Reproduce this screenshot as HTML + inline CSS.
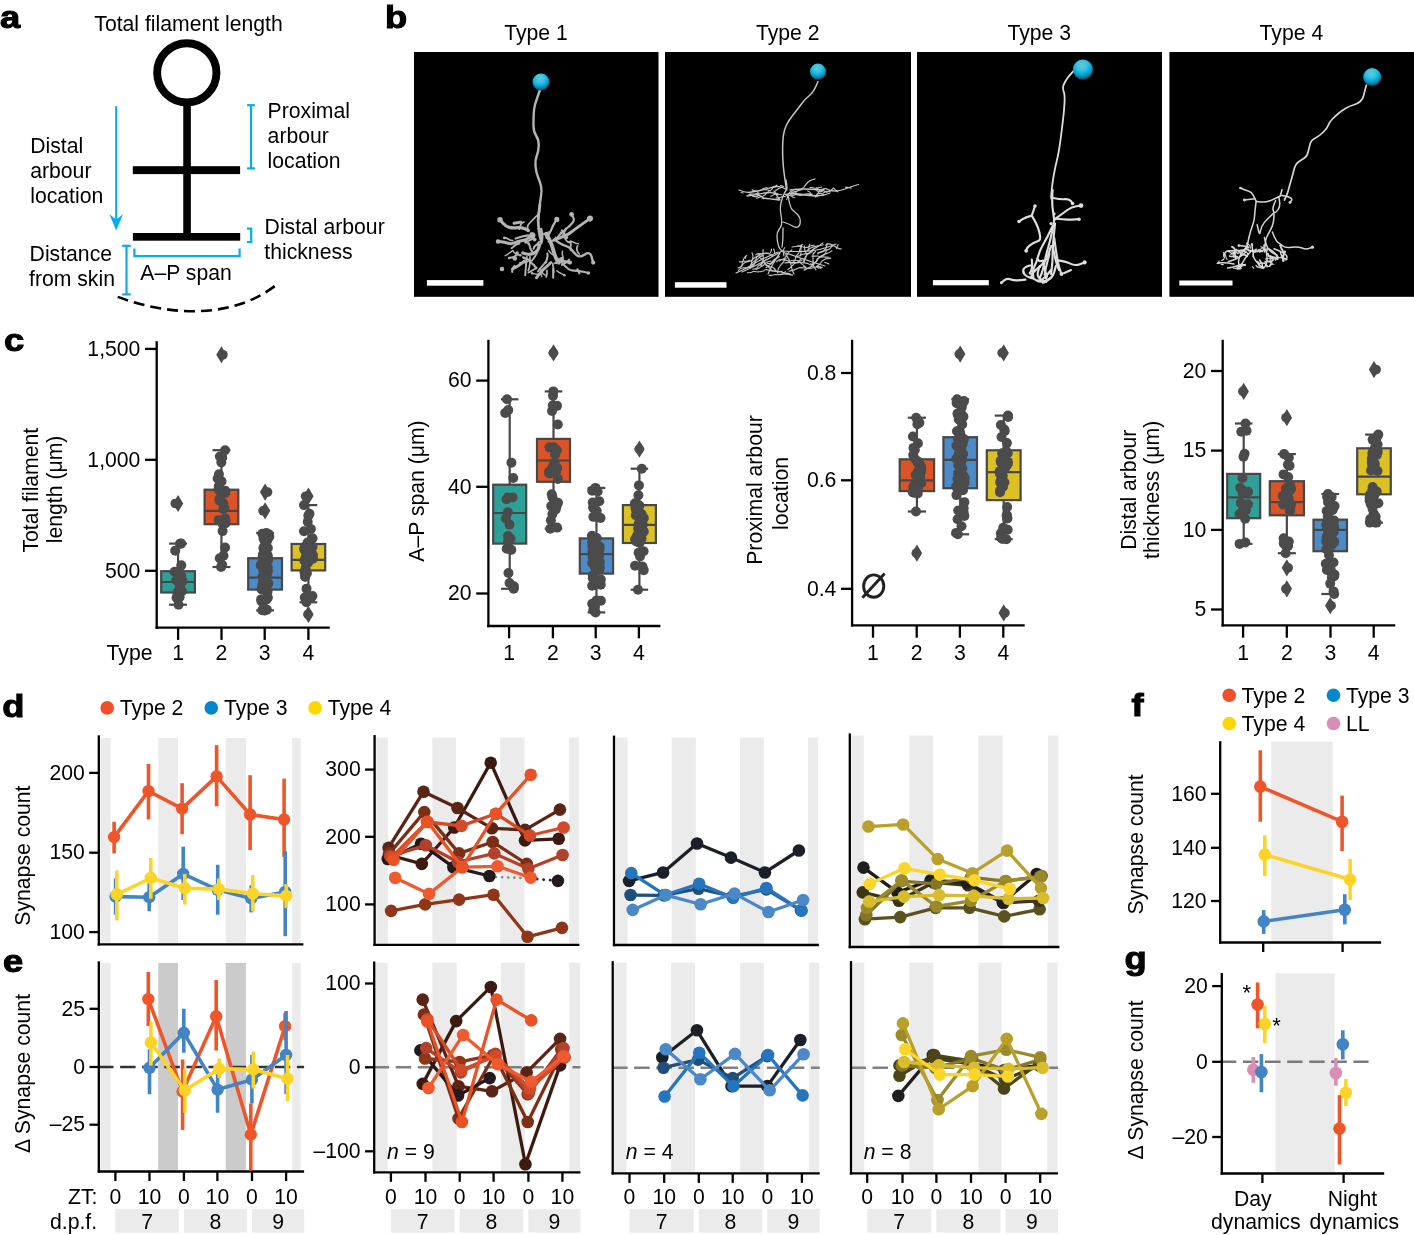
<!DOCTYPE html>
<html><head><meta charset="utf-8"><title>Figure</title>
<style>html,body{margin:0;padding:0;background:#fff;} svg{display:block;will-change:transform;} text{font-family:"Liberation Sans", sans-serif;}</style>
</head><body>
<svg width="1414" height="1235" viewBox="0 0 1414 1235" font-family="&quot;Liberation Sans&quot;, sans-serif">
<rect width="1414" height="1235" fill="#fff"/>
<text transform="translate(0,27.8) scale(1.1,0.95)" x="0" y="0" font-size="33" font-weight="bold" fill="#000" stroke="#000" stroke-width="1.1">a</text>
<text x="94.3" y="30.8" font-size="21.2" text-anchor="start" font-weight="normal" fill="#000">Total filament length</text>
<circle cx="186.8" cy="72.85" r="29.65" fill="none" stroke="#000" stroke-width="7.9"/>
<rect x="183.25" y="101" width="7.6" height="136" fill="#000"/>
<rect x="132.8" y="166.2" width="107.3" height="7.9" fill="#000"/>
<rect x="132.9" y="233" width="107.3" height="7.7" fill="#000"/>
<line x1="116.2" y1="106.2" x2="116.2" y2="220" stroke="#03aeec" stroke-width="2.1" stroke-linecap="butt"/>
<path d="M109.4,214.3 L116.2,219.5 L123,214.3 L116.2,230.4 Z" fill="#03aeec"/>
<line x1="251" y1="105.2" x2="251" y2="168.4" stroke="#03aeec" stroke-width="2.2" stroke-linecap="butt"/>
<line x1="247.1" y1="105.2" x2="254.9" y2="105.2" stroke="#03aeec" stroke-width="2.2" stroke-linecap="butt"/>
<line x1="247.1" y1="168.4" x2="254.9" y2="168.4" stroke="#03aeec" stroke-width="2.2" stroke-linecap="butt"/>
<path d="M246.9,228.6 H251.2 V242 H246.9" fill="none" stroke="#03aeec" stroke-width="2.2"/>
<line x1="126.5" y1="245.8" x2="126.5" y2="294.4" stroke="#03aeec" stroke-width="2.2" stroke-linecap="butt"/>
<line x1="122.2" y1="245.8" x2="130.7" y2="245.8" stroke="#03aeec" stroke-width="2.2" stroke-linecap="butt"/>
<line x1="122.2" y1="294.4" x2="130.7" y2="294.4" stroke="#03aeec" stroke-width="2.2" stroke-linecap="butt"/>
<path d="M134.4,248.6 V256.1 H239.6 V248.6" fill="none" stroke="#03aeec" stroke-width="2.2"/>
<path d="M117.7,296.9 C169.1,316 233.4,320.1 278.2,283.4" fill="none" stroke="#000" stroke-width="2.6" stroke-dasharray="11,6"/>
<text x="267.6" y="117.7" font-size="21.2" text-anchor="start" font-weight="normal" fill="#000">Proximal</text>
<text x="267.6" y="142.65" font-size="21.2" text-anchor="start" font-weight="normal" fill="#000">arbour</text>
<text x="267.6" y="167.6" font-size="21.2" text-anchor="start" font-weight="normal" fill="#000">location</text>
<text x="30.2" y="152.8" font-size="21.2" text-anchor="start" font-weight="normal" fill="#000">Distal</text>
<text x="30.2" y="177.8" font-size="21.2" text-anchor="start" font-weight="normal" fill="#000">arbour</text>
<text x="30.2" y="202.8" font-size="21.2" text-anchor="start" font-weight="normal" fill="#000">location</text>
<text x="264.6" y="233.6" font-size="21.2" text-anchor="start" font-weight="normal" fill="#000">Distal arbour</text>
<text x="264.3" y="258.7" font-size="21.2" text-anchor="start" font-weight="normal" fill="#000">thickness</text>
<text x="29.6" y="261.1" font-size="21.2" text-anchor="start" font-weight="normal" fill="#000">Distance</text>
<text x="29" y="285.7" font-size="21.2" text-anchor="start" font-weight="normal" fill="#000">from skin</text>
<text x="140.3" y="279.9" font-size="21.2" text-anchor="start" font-weight="normal" fill="#000">A–P span</text>
<text transform="translate(385,28.2) scale(1.1,0.95)" x="0" y="0" font-size="33" font-weight="bold" fill="#000" stroke="#000" stroke-width="1.1">b</text>
<rect x="414" y="52" width="244.5" height="244.8" fill="#000"/>
<text x="535.95" y="39.75" font-size="21.2" text-anchor="middle" font-weight="normal" fill="#000">Type 1</text>
<rect x="665" y="52" width="246" height="244.8" fill="#000"/>
<text x="787.7" y="39.75" font-size="21.2" text-anchor="middle" font-weight="normal" fill="#000">Type 2</text>
<rect x="917" y="52" width="245" height="244.8" fill="#000"/>
<text x="1039.2" y="39.75" font-size="21.2" text-anchor="middle" font-weight="normal" fill="#000">Type 3</text>
<rect x="1169.4" y="52" width="244.6" height="244.8" fill="#000"/>
<text x="1291.4" y="39.75" font-size="21.2" text-anchor="middle" font-weight="normal" fill="#000">Type 4</text>
<defs>
<radialGradient id="soma" cx="0.45" cy="0.28" r="0.85">
<stop offset="0" stop-color="#60c8d8"/><stop offset="0.28" stop-color="#40c2de"/><stop offset="0.48" stop-color="#08b4e6"/><stop offset="0.7" stop-color="#0a7fa4"/><stop offset="0.88" stop-color="#043e55"/><stop offset="1" stop-color="#022a38"/>
</radialGradient>
</defs>
<g transform="translate(414,52) scale(0.2)">
<path d="M630,190 Q612,240 606,260 Q600,280 598.5,310 Q597,340 597.5,370 Q598,400 611.5,420 Q625,440 623.5,470 Q622,500 613.5,520 Q605,540 607.5,570 Q610,600 620,625 Q630,650 635,670 Q640,690 635,720 Q630,750 627.5,775 Q625,800 622.5,820 L620,840" fill="none" stroke="#b4b4b4" stroke-width="12" stroke-linecap="round" stroke-linejoin="round"/>
</g>
<g transform="translate(490,205) scale(0.08)">
<path d="M625,0 Q610,100 605,150 Q600,200 605,250 Q610,300 615,340 Q620,380 630,415 L640,450" fill="none" stroke="#b4b4b4" stroke-width="34" stroke-linecap="round" stroke-linejoin="round"/>
<path d="M590,130 Q520,200 495,225 Q470,250 470,275 L470,300" fill="none" stroke="#b4b4b4" stroke-width="22" stroke-linecap="round" stroke-linejoin="round"/>
<path d="M480,320 Q440,290 395,285 Q350,280 315,285 Q280,290 240,280 Q200,270 162.5,227.5 L125,185" fill="none" stroke="#b4b4b4" stroke-width="40" stroke-linecap="round" stroke-linejoin="round"/>
<circle cx="125" cy="185" r="34" fill="#b4b4b4"/>
<path d="M300,228 L385,215" fill="none" stroke="#b4b4b4" stroke-width="36" stroke-linecap="round" stroke-linejoin="round"/>
<path d="M420,440 Q330,460 300,475 Q270,490 225,477.5 Q180,465 140,460 L100,455" fill="none" stroke="#b4b4b4" stroke-width="38" stroke-linecap="round" stroke-linejoin="round"/>
<circle cx="100" cy="455" r="28" fill="#b4b4b4"/>
<path d="M530,380 Q480,420 450,430 L420,440" fill="none" stroke="#b4b4b4" stroke-width="34" stroke-linecap="round" stroke-linejoin="round"/>
<path d="M720,390 Q760,330 775,290 Q790,250 812.5,215 L835,180" fill="none" stroke="#b4b4b4" stroke-width="28" stroke-linecap="round" stroke-linejoin="round"/>
<circle cx="835" cy="180" r="32" fill="#b4b4b4"/>
<path d="M820,430 Q900,340 950,300 Q1000,260 1030,225 Q1060,190 1040,154 L1020,118" fill="none" stroke="#b4b4b4" stroke-width="26" stroke-linecap="round" stroke-linejoin="round"/>
<circle cx="1020" cy="118" r="30" fill="#b4b4b4"/>
<path d="M800,440 Q960,380 1000,350 Q1040,320 1095,280 Q1150,240 1200,205 L1250,170" fill="none" stroke="#b4b4b4" stroke-width="36" stroke-linecap="round" stroke-linejoin="round"/>
<circle cx="1250" cy="170" r="38" fill="#b4b4b4"/>
<path d="M830,450 Q900,500 945,510 Q990,520 1020,560 Q1050,600 1085,630 Q1120,660 1185,617.5 Q1250,575 1270,647.5 L1290,720" fill="none" stroke="#b4b4b4" stroke-width="30" stroke-linecap="round" stroke-linejoin="round"/>
<circle cx="1290" cy="720" r="26" fill="#b4b4b4"/>
<path d="M700,360 Q740,420 760,470 Q780,520 790,560 Q800,600 815,640 Q830,680 845,700 L860,720" fill="none" stroke="#b4b4b4" stroke-width="48" stroke-linecap="round" stroke-linejoin="round"/>
<path d="M460,650 Q450,750 445,815 L440,880" fill="none" stroke="#b4b4b4" stroke-width="24" stroke-linecap="round" stroke-linejoin="round"/>
<path d="M580,910 Q650,820 685,790 Q720,760 740,740 L760,720" fill="none" stroke="#b4b4b4" stroke-width="36" stroke-linecap="round" stroke-linejoin="round"/>
<path d="M790,800 L790,910" fill="none" stroke="#b4b4b4" stroke-width="26" stroke-linecap="round" stroke-linejoin="round"/>
<path d="M900,720 Q980,820 1040,820 Q1100,820 1165,835 L1230,850" fill="none" stroke="#b4b4b4" stroke-width="26" stroke-linecap="round" stroke-linejoin="round"/>
<circle cx="1230" cy="850" r="22" fill="#b4b4b4"/>
<path d="M410,600 Q470,620 505,615 Q540,610 570,590 Q600,570 610,535 L620,500" fill="none" stroke="#b4b4b4" stroke-width="40" stroke-linecap="round" stroke-linejoin="round"/>
<path d="M280,800 Q360,760 395,730 L430,700" fill="none" stroke="#b4b4b4" stroke-width="36" stroke-linecap="round" stroke-linejoin="round"/>
<path d="M600,480 Q610,560 585,605 Q560,650 540,675 L520,700" fill="none" stroke="#b4b4b4" stroke-width="24" stroke-linecap="round" stroke-linejoin="round"/>
<path d="M640,300 Q660,400 650,440 L640,480" fill="none" stroke="#b4b4b4" stroke-width="30" stroke-linecap="round" stroke-linejoin="round"/>
<path d="M500,650 Q500,750 490,785 L480,820" fill="none" stroke="#b4b4b4" stroke-width="22" stroke-linecap="round" stroke-linejoin="round"/>
<path d="M690,720 Q640,780 620,805 L600,830" fill="none" stroke="#b4b4b4" stroke-width="24" stroke-linecap="round" stroke-linejoin="round"/>
<path d="M860,720 Q900,690 940,705 L980,720" fill="none" stroke="#b4b4b4" stroke-width="30" stroke-linecap="round" stroke-linejoin="round"/>
<path d="M520,380 Q450,380 415,390 Q380,400 350,410 L320,420" fill="none" stroke="#b4b4b4" stroke-width="26" stroke-linecap="round" stroke-linejoin="round"/>
<path d="M810.61,730.24 Q829.21,709.3 840.73,701.35 Q852.25,693.39 866.02,690.85 Q879.78,688.32 890.9,679.81 L902.02,671.3" fill="none" stroke="#b4b4b4" stroke-width="22" stroke-linecap="round" stroke-linejoin="round"/>
<path d="M834.08,822.52 Q855.84,840.14 868.59,845.93 Q881.33,851.73 893.81,858.08 Q906.28,864.43 918.26,871.68 L930.23,878.94" fill="none" stroke="#b4b4b4" stroke-width="18" stroke-linecap="round" stroke-linejoin="round"/>
<circle cx="930.23" cy="878.94" r="16" fill="#b4b4b4"/>
<path d="M445.06,462.1 Q472.12,454.9 483.67,447 Q495.22,439.09 508.58,434.91 Q521.94,430.73 532.97,422.1 L543.99,413.47" fill="none" stroke="#b4b4b4" stroke-width="26" stroke-linecap="round" stroke-linejoin="round"/>
<path d="M364.03,301.03 Q376.77,276.09 379.38,262.34 Q381.99,248.59 390.69,237.61 Q399.38,226.64 411.48,219.59 L423.57,212.53" fill="none" stroke="#b4b4b4" stroke-width="22" stroke-linecap="round" stroke-linejoin="round"/>
<path d="M1115.33,612.75 Q1096.27,592.24 1092.03,578.89 Q1087.79,565.55 1086.16,551.65 Q1084.52,537.74 1089.32,524.59 L1094.11,511.44" fill="none" stroke="#b4b4b4" stroke-width="22" stroke-linecap="round" stroke-linejoin="round"/>
<path d="M269.41,540.65 Q291.88,523.93 301.55,513.81 Q311.23,503.7 323.58,497.1 Q335.93,490.51 348.8,485 L361.67,479.5" fill="none" stroke="#b4b4b4" stroke-width="26" stroke-linecap="round" stroke-linejoin="round"/>
<circle cx="361.67" cy="479.5" r="16" fill="#b4b4b4"/>
<path d="M886.91,338.29 Q874.28,363.28 865.65,374.3 Q857.01,385.33 852.22,398.48 Q847.43,411.64 843.01,424.92 L838.58,438.2" fill="none" stroke="#b4b4b4" stroke-width="18" stroke-linecap="round" stroke-linejoin="round"/>
<path d="M480.56,844.63 Q505.64,832.16 517.52,824.76 Q529.4,817.36 541.63,810.55 Q553.86,803.73 565.5,795.95 L577.14,788.17" fill="none" stroke="#b4b4b4" stroke-width="22" stroke-linecap="round" stroke-linejoin="round"/>
<circle cx="577.14" cy="788.17" r="16" fill="#b4b4b4"/>
<path d="M1007.11,562.64 Q1003.16,534.92 1007.46,521.6 Q1011.77,508.28 1010.81,494.31 Q1009.86,480.34 1005.43,467.06 L1000.99,453.78" fill="none" stroke="#b4b4b4" stroke-width="22" stroke-linecap="round" stroke-linejoin="round"/>
<path d="M711.25,817.77 Q712.13,845.76 711.31,859.73 Q710.5,873.71 705.84,886.91 L701.18,900.12" fill="none" stroke="#b4b4b4" stroke-width="22" stroke-linecap="round" stroke-linejoin="round"/>
<path d="M639.68,867.44 L646.55,894.58" fill="none" stroke="#b4b4b4" stroke-width="18" stroke-linecap="round" stroke-linejoin="round"/>
<path d="M498.11,707.51 Q518.32,726.89 530.1,734.45 Q541.88,742.02 550.91,752.71 Q559.95,763.41 567.56,775.16 L575.17,786.91" fill="none" stroke="#b4b4b4" stroke-width="26" stroke-linecap="round" stroke-linejoin="round"/>
<circle cx="575.17" cy="786.91" r="16" fill="#b4b4b4"/>
<path d="M528.37,580.6 Q512.41,557.6 505.62,545.35 Q498.84,533.11 497.68,519.16 Q496.53,505.2 489.2,493.27 L481.88,481.34" fill="none" stroke="#b4b4b4" stroke-width="26" stroke-linecap="round" stroke-linejoin="round"/>
<circle cx="481.88" cy="481.34" r="16" fill="#b4b4b4"/>
<path d="M559.45,445.12 Q536.25,429.45 529.57,417.14 Q522.88,404.84 517.96,391.73 Q513.04,378.63 512.24,364.65 L511.43,350.67" fill="none" stroke="#b4b4b4" stroke-width="22" stroke-linecap="round" stroke-linejoin="round"/>
<path d="M367.51,724.37 Q395.04,719.21 408.96,720.65 Q422.89,722.09 436.3,718.08 Q449.72,714.08 462.84,709.2 L475.96,704.32" fill="none" stroke="#b4b4b4" stroke-width="18" stroke-linecap="round" stroke-linejoin="round"/>
<path d="M1010.26,470.99 Q982.85,465.29 970.96,457.89 Q959.08,450.49 951.91,438.46 Q944.74,426.43 937.03,414.76 L929.31,403.08" fill="none" stroke="#b4b4b4" stroke-width="22" stroke-linecap="round" stroke-linejoin="round"/>
<circle cx="929.31" cy="403.08" r="16" fill="#b4b4b4"/>
<path d="M906.55,577.84 Q902.05,605.48 904.72,619.22 Q907.39,632.97 911.73,646.28 Q916.07,659.59 913.65,673.38 L911.23,687.17" fill="none" stroke="#b4b4b4" stroke-width="18" stroke-linecap="round" stroke-linejoin="round"/>
<circle cx="911.23" cy="687.17" r="16" fill="#b4b4b4"/>
<path d="M1093.43,803.32 Q1105.54,828.57 1111.4,841.28 L1117.26,854" fill="none" stroke="#b4b4b4" stroke-width="26" stroke-linecap="round" stroke-linejoin="round"/>
<path d="M306.8,761.19 Q287.68,781.64 283.73,795.08 Q279.78,808.51 278.5,822.45 L277.22,836.39" fill="none" stroke="#b4b4b4" stroke-width="26" stroke-linecap="round" stroke-linejoin="round"/>
<path d="M1001.71,453.62 Q1029.58,456.31 1041.49,463.67 Q1053.4,471.02 1066.33,476.39 Q1079.27,481.75 1093.23,482.76 L1107.19,483.77" fill="none" stroke="#b4b4b4" stroke-width="18" stroke-linecap="round" stroke-linejoin="round"/>
<path d="M742.29,445.4 Q728.15,421.23 725.2,407.55 Q722.24,393.87 721.33,379.9 Q720.41,365.93 723.64,352.3 L726.86,338.68" fill="none" stroke="#b4b4b4" stroke-width="22" stroke-linecap="round" stroke-linejoin="round"/>
<path d="M829.66,727.94 Q839.03,701.56 847.88,690.71 Q856.73,679.86 868.9,672.94 Q881.07,666.03 894.32,661.51 L907.58,657" fill="none" stroke="#b4b4b4" stroke-width="22" stroke-linecap="round" stroke-linejoin="round"/>
<path d="M716.33,607.02 Q721.62,634.51 718.19,648.09 Q714.76,661.66 711.64,675.31 Q708.53,688.96 702.87,701.76 L697.21,714.57" fill="none" stroke="#b4b4b4" stroke-width="26" stroke-linecap="round" stroke-linejoin="round"/>
<circle cx="697.21" cy="714.57" r="16" fill="#b4b4b4"/>
<path d="M907.32,399.66 Q914.83,372.69 920.76,360 Q926.69,347.32 931.59,334.21 Q936.5,321.1 942.99,308.69 L949.47,296.28" fill="none" stroke="#b4b4b4" stroke-width="26" stroke-linecap="round" stroke-linejoin="round"/>
<path d="M898.37,316.02 Q914.74,338.74 921.13,351.2 Q927.52,363.65 937.12,373.85 Q946.71,384.04 954.26,395.83 L961.8,407.63" fill="none" stroke="#b4b4b4" stroke-width="26" stroke-linecap="round" stroke-linejoin="round"/>
<circle cx="961.8" cy="407.63" r="16" fill="#b4b4b4"/>
<path d="M287.68,573.52 Q303.37,596.71 314.85,604.72 Q326.34,612.73 339.08,618.52 Q351.83,624.31 365.75,625.82 L379.66,627.33" fill="none" stroke="#b4b4b4" stroke-width="18" stroke-linecap="round" stroke-linejoin="round"/>
<circle cx="379.66" cy="627.33" r="16" fill="#b4b4b4"/>
<path d="M282.09,569.89 Q259.64,586.62 247.7,593.94 Q235.77,601.26 226.14,611.42 Q216.51,621.58 203.67,627.15 L190.82,632.72" fill="none" stroke="#b4b4b4" stroke-width="18" stroke-linecap="round" stroke-linejoin="round"/>
<path d="M614.84,461.55 Q598.55,484.32 587.15,492.44 Q575.75,500.57 565.45,510.06 Q555.16,519.55 550.2,532.64 L545.25,545.73" fill="none" stroke="#b4b4b4" stroke-width="26" stroke-linecap="round" stroke-linejoin="round"/>
<path d="M335.34,616.23 Q318.56,638.65 306.08,644.99 Q293.6,651.33 279.76,653.44 Q265.92,655.55 252.3,658.78 L238.67,662" fill="none" stroke="#b4b4b4" stroke-width="26" stroke-linecap="round" stroke-linejoin="round"/>
<circle cx="238.67" cy="662" r="16" fill="#b4b4b4"/>
<path d="M734.55,571.13 Q752.65,592.5 761.94,602.97 Q771.24,613.44 783.22,620.68 Q795.2,627.93 808.98,630.39 L822.76,632.86" fill="none" stroke="#b4b4b4" stroke-width="18" stroke-linecap="round" stroke-linejoin="round"/>
<path d="M989.11,683.76 Q972.07,705.98 959.78,712.69 Q947.49,719.4 934.95,725.62 Q922.41,731.84 911.13,740.14 L899.86,748.44" fill="none" stroke="#b4b4b4" stroke-width="26" stroke-linecap="round" stroke-linejoin="round"/>
<path d="M636.28,866.47 Q608.33,868.2 594.48,866.16 Q580.63,864.12 566.64,863.69 Q552.65,863.27 539.67,858.01 L526.7,852.74" fill="none" stroke="#b4b4b4" stroke-width="18" stroke-linecap="round" stroke-linejoin="round"/>
<circle cx="526.7" cy="852.74" r="16" fill="#b4b4b4"/>
<path d="M784.56,729.8 Q782.59,757.73 788.17,770.57 Q793.75,783.4 793.26,797.4 Q792.77,811.39 794.96,825.21 L797.16,839.04" fill="none" stroke="#b4b4b4" stroke-width="22" stroke-linecap="round" stroke-linejoin="round"/>
<path d="M679.24,370.69 Q657.97,352.48 645.69,345.76 Q633.42,339.03 623.49,329.16 Q613.57,319.28 607.34,306.75 L601.11,294.21" fill="none" stroke="#b4b4b4" stroke-width="18" stroke-linecap="round" stroke-linejoin="round"/>
<path d="M729.31,458.8 Q757.09,455.31 770.1,450.13 Q783.1,444.94 794.56,436.9 Q806.03,428.87 814.09,417.42 L822.16,405.98" fill="none" stroke="#b4b4b4" stroke-width="22" stroke-linecap="round" stroke-linejoin="round"/>
<path d="M693.04,875.64 Q668.18,862.76 659.03,852.16 Q649.88,841.57 645.51,828.27 Q641.14,814.96 631.09,805.22 L621.04,795.48" fill="none" stroke="#b4b4b4" stroke-width="18" stroke-linecap="round" stroke-linejoin="round"/>
<path d="M504.11,710.66 Q487.71,687.96 475.24,681.61 Q462.76,675.25 449.48,670.83 Q436.2,666.41 423.93,659.66 L411.66,652.91" fill="none" stroke="#b4b4b4" stroke-width="26" stroke-linecap="round" stroke-linejoin="round"/>
<path d="M282.79,446.41 Q255.05,442.56 242.94,435.54 Q230.83,428.51 219.05,420.94 Q207.28,413.37 193.33,412.18 L179.38,410.98" fill="none" stroke="#b4b4b4" stroke-width="22" stroke-linecap="round" stroke-linejoin="round"/>
<circle cx="179.38" cy="410.98" r="16" fill="#b4b4b4"/>
<circle cx="310" cy="670" r="28" fill="#b4b4b4"/>
<circle cx="150" cy="800" r="28" fill="#b4b4b4"/>
<circle cx="530" cy="380" r="38" fill="#b4b4b4"/>
<circle cx="720" cy="400" r="30" fill="#b4b4b4"/>
<circle cx="450" cy="460" r="24" fill="#b4b4b4"/>
<circle cx="340" cy="600" r="22" fill="#b4b4b4"/>
<circle cx="560" cy="430" r="22" fill="#b4b4b4"/>
<circle cx="1000" cy="720" r="26" fill="#b4b4b4"/>
</g>
<g transform="translate(414,52) scale(0.2)">
<circle cx="634.5" cy="150" r="42" fill="url(#soma)"/>
</g>
<rect x="426.9" y="280.1" width="56.5" height="5.6" fill="#fff"/>
<g transform="translate(665,52) scale(0.2)">
<path d="M765,148 Q745,200 722.5,217.5 Q700,235 680,262.5 Q660,290 640,315 Q620,340 607.5,365 Q595,390 591.5,420 Q588,450 588,485 Q588,520 590,550 Q592,580 596,610 Q600,640 604,665 L608,690" fill="none" stroke="#c6c6c6" stroke-width="7.5" stroke-linecap="round" stroke-linejoin="round"/>
</g>
<g transform="translate(730,170) scale(0.1)">
<path d="M560,100 Q575,180 567.5,190 Q560,200 540,240 Q520,280 510,330 Q500,380 505,415 Q510,450 515,485 Q520,520 515,545 Q510,570 490,595 Q470,620 470,660 Q470,700 480,740 Q490,780 505,795 L520,810" fill="none" stroke="#c6c6c6" stroke-width="13" stroke-linecap="round" stroke-linejoin="round"/>
<path d="M580,250 Q600,380 625,400 Q650,420 675,445 Q700,470 702.5,505 Q705,540 692.5,557.5 Q680,575 660,572.5 Q640,570 615,555 Q590,540 560,530 L530,520" fill="none" stroke="#c6c6c6" stroke-width="13" stroke-linecap="round" stroke-linejoin="round"/>
<path d="M530,580 Q530,700 525,735 L520,770" fill="none" stroke="#c6c6c6" stroke-width="13" stroke-linecap="round" stroke-linejoin="round"/>
<path d="M90,200 Q150,230 200,222.5 Q250,215 290,207.5 Q330,200 380,185 Q430,170 455,165 Q480,160 520,175 L560,190" fill="none" stroke="#c6c6c6" stroke-width="13" stroke-linecap="round" stroke-linejoin="round"/>
<path d="M170,260 Q260,250 295,240 Q330,230 375,227.5 Q420,225 450,232.5 L480,240" fill="none" stroke="#c6c6c6" stroke-width="13" stroke-linecap="round" stroke-linejoin="round"/>
<path d="M320,280 Q420,290 455,295 L490,300" fill="none" stroke="#c6c6c6" stroke-width="13" stroke-linecap="round" stroke-linejoin="round"/>
<path d="M600,200 Q700,190 750,190 Q800,190 850,195 Q900,200 930,190 Q960,180 980,195 Q1000,210 1050,210 Q1100,210 1150,190 Q1200,170 1242.5,157.5 L1285,145" fill="none" stroke="#c6c6c6" stroke-width="13" stroke-linecap="round" stroke-linejoin="round"/>
<path d="M620,230 Q750,250 800,255 Q850,260 900,255 Q950,250 975,240 L1000,230" fill="none" stroke="#c6c6c6" stroke-width="13" stroke-linecap="round" stroke-linejoin="round"/>
<path d="M740,170 Q780,110 815,100 L850,90" fill="none" stroke="#c6c6c6" stroke-width="13" stroke-linecap="round" stroke-linejoin="round"/>
<path d="M440,210 Q470,260 485,280 L500,300" fill="none" stroke="#c6c6c6" stroke-width="13" stroke-linecap="round" stroke-linejoin="round"/>
<path d="M650,240 Q700,260 730,247.5 Q760,235 790,240 L820,245" fill="none" stroke="#c6c6c6" stroke-width="13" stroke-linecap="round" stroke-linejoin="round"/>
<path d="M860,200 Q900,230 920,210 L940,190" fill="none" stroke="#c6c6c6" stroke-width="13" stroke-linecap="round" stroke-linejoin="round"/>
<path d="M200,240 Q230,270 255,265 L280,260" fill="none" stroke="#c6c6c6" stroke-width="13" stroke-linecap="round" stroke-linejoin="round"/>
<path d="M1153.61,171.06 Q1173.35,174.3 1183.33,174.84 Q1193.32,175.38 1202.77,178.66 L1212.21,181.94" fill="none" stroke="#c6c6c6" stroke-width="11" stroke-linecap="round" stroke-linejoin="round"/>
<path d="M288.84,232.8 Q268.94,230.81 260.75,236.54 Q252.55,242.27 242.55,242.07 Q232.56,241.86 222.61,240.81 Q212.67,239.75 202.93,242.01 Q193.19,244.28 185.34,250.48 L177.49,256.68" fill="none" stroke="#c6c6c6" stroke-width="11" stroke-linecap="round" stroke-linejoin="round"/>
<path d="M865.21,241.85 Q884.56,236.82 894.06,233.7 Q903.57,230.57 912.91,234.13 Q922.26,237.68 928.75,245.29 L935.24,252.89" fill="none" stroke="#c6c6c6" stroke-width="11" stroke-linecap="round" stroke-linejoin="round"/>
<path d="M661.97,191.93 Q680.06,200.47 690.04,199.86 Q700.02,199.26 707.94,193.14 Q715.85,187.03 724.89,182.77 L733.94,178.51" fill="none" stroke="#c6c6c6" stroke-width="11" stroke-linecap="round" stroke-linejoin="round"/>
<path d="M664.22,211.42 Q644.98,216.89 635.78,220.82 Q626.59,224.75 616.8,226.78 Q607,228.81 598.02,233.2 Q589.04,237.6 579.29,239.84 Q569.55,242.09 559.62,243.27 L549.69,244.46" fill="none" stroke="#c6c6c6" stroke-width="11" stroke-linecap="round" stroke-linejoin="round"/>
<path d="M571.15,250.99 Q557.12,265.24 547.13,264.83 Q537.14,264.43 527.37,266.57 Q517.6,268.7 508.08,271.76 Q498.56,274.82 489.46,278.97 Q480.36,283.13 470.64,280.79 L460.92,278.46" fill="none" stroke="#c6c6c6" stroke-width="11" stroke-linecap="round" stroke-linejoin="round"/>
<path d="M534.73,164.48 Q516.93,173.6 507.41,176.66 Q497.89,179.73 488.96,184.22 Q480.03,188.72 471.89,194.53 Q463.75,200.35 456.12,206.8 Q448.48,213.26 443.13,221.71 L437.78,230.16" fill="none" stroke="#c6c6c6" stroke-width="11" stroke-linecap="round" stroke-linejoin="round"/>
<path d="M131.04,230.32 L111.54,225.87" fill="none" stroke="#c6c6c6" stroke-width="11" stroke-linecap="round" stroke-linejoin="round"/>
<path d="M253.8,238.06 Q271.36,247.63 280.58,251.5 Q289.81,255.37 299.19,258.82 Q308.58,262.27 317.77,266.19 Q326.97,270.12 332.12,278.69 L337.26,287.27" fill="none" stroke="#c6c6c6" stroke-width="11" stroke-linecap="round" stroke-linejoin="round"/>
<path d="M615.07,259.09 Q628.2,274.18 638.07,275.8 L647.93,277.43" fill="none" stroke="#c6c6c6" stroke-width="11" stroke-linecap="round" stroke-linejoin="round"/>
<path d="M297.38,202.54 Q316.86,197.99 324.78,191.88 Q332.7,185.77 342.39,183.31 Q352.08,180.85 361.65,177.95 L371.22,175.06" fill="none" stroke="#c6c6c6" stroke-width="11" stroke-linecap="round" stroke-linejoin="round"/>
<path d="M481.03,167.71 Q461.05,166.72 451.06,166.52 Q441.06,166.31 432.84,172.01 Q424.62,177.7 420.72,186.91 Q416.83,196.12 408.43,201.55 Q400.03,206.97 390.61,210.32 L381.19,213.68" fill="none" stroke="#c6c6c6" stroke-width="11" stroke-linecap="round" stroke-linejoin="round"/>
<path d="M776.47,210.41 Q795.34,217.05 801.69,224.78 Q808.04,232.5 811.78,241.77 Q815.52,251.05 825.12,253.86 Q834.72,256.67 844.7,257.19 Q854.69,257.71 863.25,262.89 L871.8,268.06" fill="none" stroke="#c6c6c6" stroke-width="11" stroke-linecap="round" stroke-linejoin="round"/>
<path d="M633.89,207.36 Q614.52,212.34 606.28,218 Q598.04,223.67 591.9,231.56 Q585.76,239.45 581.26,248.38 Q576.76,257.32 576.55,267.31 Q576.34,277.31 571.28,285.94 L566.23,294.57" fill="none" stroke="#c6c6c6" stroke-width="11" stroke-linecap="round" stroke-linejoin="round"/>
<path d="M265.15,283.41 Q283.26,274.92 292.78,271.85 Q302.29,268.78 312.27,268.17 Q322.26,267.57 330.11,261.38 Q337.96,255.18 346.67,250.27 Q355.39,245.36 360.38,236.7 L365.38,228.04" fill="none" stroke="#c6c6c6" stroke-width="11" stroke-linecap="round" stroke-linejoin="round"/>
<path d="M1029.48,185 Q1014.43,198.16 1007.77,205.62 Q1001.11,213.08 991.29,214.97 Q981.46,216.85 971.82,214.23 Q962.17,211.6 953.56,216.69 Q944.95,221.78 936.94,227.76 L928.92,233.73" fill="none" stroke="#c6c6c6" stroke-width="11" stroke-linecap="round" stroke-linejoin="round"/>
<path d="M800.66,176.32 Q820.52,173.96 829.56,178.23 Q838.6,182.5 848.59,183.02 Q858.58,183.54 868.23,180.92 Q877.88,178.3 887.79,176.94 Q897.69,175.59 907.28,172.76 L916.87,169.92" fill="none" stroke="#c6c6c6" stroke-width="11" stroke-linecap="round" stroke-linejoin="round"/>
<path d="M971.42,224.37 Q952.08,219.28 945.46,211.79 Q938.85,204.29 929.03,202.37 Q919.22,200.46 909.22,200.68 Q899.22,200.89 890.36,196.26 Q881.5,191.63 873.99,185.02 L866.49,178.41" fill="none" stroke="#c6c6c6" stroke-width="11" stroke-linecap="round" stroke-linejoin="round"/>
<path d="M519.28,248.37 Q500.16,242.49 490.79,246 Q481.43,249.5 471.93,246.36 Q462.44,243.22 452.44,242.99 Q442.45,242.76 434.33,248.6 Q426.21,254.44 417.27,258.91 L408.32,263.39" fill="none" stroke="#c6c6c6" stroke-width="11" stroke-linecap="round" stroke-linejoin="round"/>
<path d="M1033.71,179.53 Q1048.68,192.79 1055.91,199.69 Q1063.15,206.6 1070.87,212.95 L1078.59,219.31" fill="none" stroke="#c6c6c6" stroke-width="11" stroke-linecap="round" stroke-linejoin="round"/>
<path d="M851.98,271 Q868.73,260.07 873.39,251.22 Q878.04,242.37 880.4,232.65 Q882.76,222.93 887.66,214.22 Q892.56,205.5 902.33,203.35 Q912.09,201.21 921.24,205.26 L930.38,209.3" fill="none" stroke="#c6c6c6" stroke-width="11" stroke-linecap="round" stroke-linejoin="round"/>
<path d="M547.29,243.36 Q567.26,242.24 576.95,244.71 Q586.64,247.17 594.54,253.31 Q602.43,259.44 612.4,258.68 Q622.38,257.93 631.57,254 Q640.77,250.07 650.42,247.45 L660.07,244.83" fill="none" stroke="#c6c6c6" stroke-width="11" stroke-linecap="round" stroke-linejoin="round"/>
<path d="M220.88,197.19 Q237.05,208.96 247.04,208.42 Q257.02,207.87 265.59,213.03 Q274.15,218.2 280.36,226.04 Q286.56,233.88 289,243.58 Q291.44,253.28 299.86,258.67 L308.28,264.06" fill="none" stroke="#c6c6c6" stroke-width="11" stroke-linecap="round" stroke-linejoin="round"/>
<path d="M405.79,209.11 Q387.79,200.4 377.83,199.57 Q367.86,198.74 357.94,197.49 Q348.02,196.24 340.03,190.23 L332.03,184.22" fill="none" stroke="#c6c6c6" stroke-width="11" stroke-linecap="round" stroke-linejoin="round"/>
<path d="M505.98,156.07 L525.49,160.45" fill="none" stroke="#c6c6c6" stroke-width="11" stroke-linecap="round" stroke-linejoin="round"/>
<path d="M434.64,170.81 Q453.43,163.96 461.4,157.92 L469.37,151.88" fill="none" stroke="#c6c6c6" stroke-width="11" stroke-linecap="round" stroke-linejoin="round"/>
<path d="M710.79,198.96 Q690.79,198.84 682.63,204.61 Q674.46,210.38 666.96,216.99 Q659.47,223.61 652.15,230.43 Q644.84,237.25 634.84,237.28 Q624.84,237.31 614.9,236.15 L604.97,234.98" fill="none" stroke="#c6c6c6" stroke-width="11" stroke-linecap="round" stroke-linejoin="round"/>
<path d="M599.47,244.6 Q619.24,241.58 629.08,239.78 Q638.91,237.99 648.26,241.54 Q657.61,245.09 667.4,247.12 Q677.19,249.15 686.87,246.62 Q696.54,244.09 706.52,244.74 L716.5,245.4" fill="none" stroke="#c6c6c6" stroke-width="11" stroke-linecap="round" stroke-linejoin="round"/>
<path d="M239.79,950.73 Q219.31,958.75 210.8,965.73 Q202.3,972.7 191.76,975.86 Q181.23,979.03 170.24,978.57 Q159.25,978.11 148.25,978.37 Q137.25,978.62 126.29,979.53 Q115.33,980.43 105.34,985.04 Q95.35,989.64 89.14,998.72 L82.94,1007.81" fill="none" stroke="#c6c6c6" stroke-width="11" stroke-linecap="round" stroke-linejoin="round"/>
<path d="M464.44,917.32 Q480.57,902.36 490.76,898.21 Q500.95,894.06 511.9,895.08 Q522.85,896.1 533.59,898.51 Q544.32,900.93 555.31,901.33 Q566.3,901.73 575.88,907.14 Q585.46,912.54 594.26,919.15 Q603.05,925.76 613.42,929.44 L623.78,933.12" fill="none" stroke="#c6c6c6" stroke-width="11" stroke-linecap="round" stroke-linejoin="round"/>
<path d="M541.61,1036.17 Q562.64,1042.61 573.54,1041.16 Q584.45,1039.7 594.3,1044.59 L604.16,1049.47" fill="none" stroke="#c6c6c6" stroke-width="11" stroke-linecap="round" stroke-linejoin="round"/>
<path d="M228.75,991.6 Q250.75,991.51 259.75,985.19 Q268.76,978.88 275.26,970 Q281.75,961.12 291.04,955.23 Q300.33,949.34 309.2,942.84 Q318.07,936.33 324.32,927.28 Q330.57,918.22 339.27,911.49 Q347.97,904.76 356.85,898.27 L365.74,891.79" fill="none" stroke="#c6c6c6" stroke-width="11" stroke-linecap="round" stroke-linejoin="round"/>
<path d="M953.96,753.88 Q971.11,740.11 982.07,739.16 Q993.03,738.22 1003.53,741.49 Q1014.03,744.77 1023.9,749.62 Q1033.77,754.48 1042.91,760.6 Q1052.05,766.72 1061.75,771.92 Q1071.44,777.12 1080.63,783.17 Q1089.82,789.21 1100.82,788.9 L1111.81,788.6" fill="none" stroke="#c6c6c6" stroke-width="11" stroke-linecap="round" stroke-linejoin="round"/>
<path d="M579.19,994.65 Q598.2,983.57 605.14,975.03 Q612.07,966.49 620.19,959.07 Q628.31,951.64 635.18,943.06 Q642.06,934.47 652.64,931.46 Q663.22,928.45 673.76,925.3 Q684.3,922.15 693.92,916.82 Q703.54,911.48 713.23,906.28 L722.93,901.08" fill="none" stroke="#c6c6c6" stroke-width="11" stroke-linecap="round" stroke-linejoin="round"/>
<path d="M349.62,996.92 Q371.5,994.6 381.64,998.85 Q391.78,1003.11 402.46,1005.76 Q413.13,1008.41 424.06,1009.68 Q434.99,1010.94 445.95,1011.81 Q456.92,1012.67 467.52,1015.62 Q478.12,1018.56 488.97,1016.76 Q499.82,1014.96 510.78,1014.08 L521.75,1013.2" fill="none" stroke="#c6c6c6" stroke-width="11" stroke-linecap="round" stroke-linejoin="round"/>
<path d="M666.57,929.24 Q688.29,925.74 699.27,925.12 Q710.26,924.5 720.89,927.31 Q731.52,930.12 742.51,929.57 Q753.49,929.01 764.31,931.01 Q775.13,933 784.46,938.82 Q793.8,944.64 804.75,945.64 Q815.71,946.64 825.97,942.68 L836.23,938.73" fill="none" stroke="#c6c6c6" stroke-width="11" stroke-linecap="round" stroke-linejoin="round"/>
<path d="M1066.21,785.69 Q1071.24,764.27 1076.16,754.43 L1081.09,744.59" fill="none" stroke="#c6c6c6" stroke-width="11" stroke-linecap="round" stroke-linejoin="round"/>
<path d="M503.65,1046.52 Q524.99,1041.2 535.48,1037.88 Q545.97,1034.55 556.79,1032.6 Q567.61,1030.64 578.56,1031.78 Q589.5,1032.92 598.37,1039.42 Q607.25,1045.92 617.82,1048.96 L628.39,1052.01" fill="none" stroke="#c6c6c6" stroke-width="11" stroke-linecap="round" stroke-linejoin="round"/>
<path d="M538.76,860.39 Q536.02,838.56 533.16,827.94 Q530.3,817.32 533.12,806.69 Q535.94,796.05 540.81,786.19 L545.69,776.33" fill="none" stroke="#c6c6c6" stroke-width="11" stroke-linecap="round" stroke-linejoin="round"/>
<path d="M330.97,856.25 Q309.35,860.34 300.37,866.7 Q291.4,873.05 285.03,882.02 Q278.66,890.99 269.44,896.99 Q260.22,902.99 254.62,912.46 Q249.01,921.92 246.1,932.53 Q243.18,943.14 236.73,952.04 Q230.28,960.95 220,964.87 L209.72,968.79" fill="none" stroke="#c6c6c6" stroke-width="11" stroke-linecap="round" stroke-linejoin="round"/>
<path d="M582.18,1034.91 Q560.19,1035.33 549.82,1031.64 Q539.46,1027.96 529.01,1024.53 Q518.55,1021.1 507.61,1020 Q496.67,1018.89 485.72,1017.78 Q474.78,1016.66 464.66,1012.35 Q454.54,1008.04 443.54,1007.64 Q432.55,1007.23 421.55,1007.26 L410.55,1007.28" fill="none" stroke="#c6c6c6" stroke-width="11" stroke-linecap="round" stroke-linejoin="round"/>
<path d="M360.82,975.84 Q380.32,965.65 387.37,957.21 Q394.43,948.77 403.93,943.23 Q413.43,937.69 421.43,930.14 Q429.44,922.59 436.53,914.19 Q443.63,905.78 449.14,896.26 Q454.65,886.74 464.8,882.49 Q474.94,878.25 484.72,873.21 L494.5,868.18" fill="none" stroke="#c6c6c6" stroke-width="11" stroke-linecap="round" stroke-linejoin="round"/>
<path d="M804.63,970.52 Q820.57,955.36 825.24,945.4 Q829.91,935.44 831.45,924.55 Q832.99,913.66 831.07,902.83 Q829.15,892 829.64,881.01 Q830.13,870.02 828.79,859.1 Q827.44,848.18 833.26,838.85 Q839.08,829.51 847.45,822.37 L855.81,815.23" fill="none" stroke="#c6c6c6" stroke-width="11" stroke-linecap="round" stroke-linejoin="round"/>
<path d="M197.92,902.37 Q178.26,912.26 167.26,912.35 Q156.26,912.44 145.28,911.8 Q134.3,911.15 124.08,915.22 Q113.87,919.3 102.87,919 L91.87,918.7" fill="none" stroke="#c6c6c6" stroke-width="11" stroke-linecap="round" stroke-linejoin="round"/>
<path d="M871.18,972.26 L890.09,983.5" fill="none" stroke="#c6c6c6" stroke-width="11" stroke-linecap="round" stroke-linejoin="round"/>
<path d="M903.93,983.03 L923.49,972.95" fill="none" stroke="#c6c6c6" stroke-width="11" stroke-linecap="round" stroke-linejoin="round"/>
<path d="M493.75,911.42 Q511.57,898.52 521.9,894.74 Q532.23,890.95 541.55,885.11 Q550.87,879.27 556.53,869.84 Q562.18,860.41 567.95,851.04 Q573.72,841.67 578.72,831.87 Q583.72,822.08 593.37,816.8 Q603.03,811.53 611.44,804.44 L619.86,797.36" fill="none" stroke="#c6c6c6" stroke-width="11" stroke-linecap="round" stroke-linejoin="round"/>
<path d="M608.4,905.79 Q630.16,902.51 641.14,903.1 Q652.12,903.69 663.06,904.92 Q673.99,906.15 684.06,910.56 Q694.14,914.97 700.87,923.67 Q707.59,932.38 716.8,938.38 Q726.02,944.39 734.1,951.86 Q742.18,959.32 750.7,966.28 L759.21,973.25" fill="none" stroke="#c6c6c6" stroke-width="11" stroke-linecap="round" stroke-linejoin="round"/>
<path d="M447.2,831.79 Q445.69,809.84 440.85,799.97 L436.01,790.09" fill="none" stroke="#c6c6c6" stroke-width="11" stroke-linecap="round" stroke-linejoin="round"/>
<path d="M548.38,928.85 Q570.14,925.59 581.13,926.05 Q592.12,926.5 603.1,925.74 Q614.07,924.98 625,923.76 Q635.93,922.54 646.56,925.39 Q657.18,928.24 667.55,924.55 Q677.91,920.87 684.96,912.42 Q692.01,903.98 701.15,897.86 L710.3,891.75" fill="none" stroke="#c6c6c6" stroke-width="11" stroke-linecap="round" stroke-linejoin="round"/>
<path d="M702.45,859.47 Q709.41,838.59 709.8,827.6 Q710.2,816.61 709.92,805.61 Q709.65,794.62 710.08,783.62 Q710.51,772.63 713.26,761.98 L716.02,751.33" fill="none" stroke="#c6c6c6" stroke-width="11" stroke-linecap="round" stroke-linejoin="round"/>
<path d="M153.09,883.51 L158.08,862.08" fill="none" stroke="#c6c6c6" stroke-width="11" stroke-linecap="round" stroke-linejoin="round"/>
<path d="M295.34,873.92 Q314.77,884.24 322.01,892.52 Q329.25,900.8 335.51,909.84 Q341.77,918.88 347.37,928.35 Q352.97,937.82 362.02,944.07 Q371.07,950.32 376.92,959.64 Q382.77,968.95 390.89,976.37 Q399.02,983.79 406.83,991.53 L414.64,999.28" fill="none" stroke="#c6c6c6" stroke-width="11" stroke-linecap="round" stroke-linejoin="round"/>
<path d="M400.75,829.75 Q413.41,811.76 414.58,800.82 L415.75,789.89" fill="none" stroke="#c6c6c6" stroke-width="11" stroke-linecap="round" stroke-linejoin="round"/>
<path d="M629.39,928.39 Q642.57,910.77 648.28,901.37 Q653.99,891.97 654.78,881 Q655.57,870.03 662.16,861.22 Q668.75,852.41 676.77,844.88 Q684.78,837.35 689.05,827.21 Q693.31,817.07 695.58,806.3 Q697.85,795.54 702.13,785.41 L706.4,775.27" fill="none" stroke="#c6c6c6" stroke-width="11" stroke-linecap="round" stroke-linejoin="round"/>
<path d="M802.98,813.48 Q821.74,801.99 829.53,794.22 Q837.31,786.45 847.78,783.08 Q858.26,779.72 866.62,772.57 Q874.98,765.43 884.97,760.82 Q894.96,756.21 902.99,748.69 Q911.02,741.17 920.33,735.31 L929.64,729.45" fill="none" stroke="#c6c6c6" stroke-width="11" stroke-linecap="round" stroke-linejoin="round"/>
<path d="M473.1,1031.03 Q478.78,1009.78 481.38,999.09 Q483.98,988.4 488.77,978.5 Q493.56,968.6 500,959.68 Q506.43,950.75 514.02,942.79 Q521.61,934.83 529.65,927.33 Q537.7,919.82 540.74,909.25 Q543.79,898.68 551.92,891.27 L560.04,883.85" fill="none" stroke="#c6c6c6" stroke-width="11" stroke-linecap="round" stroke-linejoin="round"/>
<path d="M294.56,842.19 Q280.69,859.27 272.86,867 Q265.04,874.74 261.16,885.03 Q257.27,895.32 250.58,904.05 Q243.89,912.78 234.68,918.8 Q225.48,924.82 218.01,932.9 Q210.54,940.97 207.39,951.51 Q204.25,962.05 198.73,971.57 L193.2,981.08" fill="none" stroke="#c6c6c6" stroke-width="11" stroke-linecap="round" stroke-linejoin="round"/>
<path d="M554.97,1016.23 Q538.49,1030.8 529.23,1036.73 Q519.97,1042.66 508.99,1043.37 Q498.01,1044.08 487.23,1046.24 Q476.44,1048.4 465.57,1046.71 Q454.7,1045.03 443.84,1046.8 Q432.98,1048.56 422.45,1051.73 Q411.92,1054.89 401,1053.52 L390.09,1052.15" fill="none" stroke="#c6c6c6" stroke-width="11" stroke-linecap="round" stroke-linejoin="round"/>
<path d="M326.31,913.96 Q342.01,929.38 346.9,939.23 Q351.78,949.09 361.88,953.45 Q371.98,957.82 381.74,962.88 Q391.51,967.95 402.5,967.65 Q413.5,967.35 423.22,972.49 Q432.95,977.62 441.18,984.92 Q449.41,992.22 455.99,1001.04 L462.56,1009.86" fill="none" stroke="#c6c6c6" stroke-width="11" stroke-linecap="round" stroke-linejoin="round"/>
<path d="M948.57,924.09 Q969.65,930.38 979.34,935.59 L989.03,940.8" fill="none" stroke="#c6c6c6" stroke-width="11" stroke-linecap="round" stroke-linejoin="round"/>
<path d="M373.89,934.79 Q395.81,936.7 405.56,931.61 Q415.31,926.53 421.81,917.65 Q428.31,908.77 435.91,900.82 Q443.51,892.87 453.07,887.43 Q462.63,881.99 470.05,873.87 Q477.46,865.74 483.47,856.53 Q489.48,847.32 491.8,836.57 L494.12,825.81" fill="none" stroke="#c6c6c6" stroke-width="11" stroke-linecap="round" stroke-linejoin="round"/>
<path d="M173.48,1027.88 Q195.47,1028.33 206.1,1025.49 Q216.73,1022.66 226.43,1017.46 Q236.12,1012.27 246.95,1014.18 Q257.79,1016.1 268.71,1017.35 Q279.64,1018.61 290.63,1018.11 Q301.62,1017.62 312.16,1014.46 Q322.7,1011.31 333.54,1009.46 L344.38,1007.6" fill="none" stroke="#c6c6c6" stroke-width="11" stroke-linecap="round" stroke-linejoin="round"/>
<path d="M853.23,924.14 Q867.14,907.09 873.75,898.3 Q880.35,889.5 887.73,881.35 Q895.12,873.19 905.52,869.62 Q915.93,866.06 926.06,861.77 Q936.19,857.49 942.78,848.68 Q949.37,839.87 954.75,830.28 Q960.12,820.68 961.83,809.82 L963.53,798.95" fill="none" stroke="#c6c6c6" stroke-width="11" stroke-linecap="round" stroke-linejoin="round"/>
<path d="M802.21,937.31 Q822.97,944.59 830.73,952.39 Q838.49,960.18 842.31,970.5 Q846.13,980.81 852.88,989.5 L859.63,998.18" fill="none" stroke="#c6c6c6" stroke-width="11" stroke-linecap="round" stroke-linejoin="round"/>
<path d="M728.82,924.3 Q740.04,905.38 741.39,894.46 Q742.74,883.54 749.45,874.82 Q756.15,866.1 762.71,857.27 Q769.27,848.44 778.6,842.62 Q787.93,836.79 793.74,827.45 Q799.54,818.11 809.23,812.89 Q818.91,807.67 828.15,801.7 L837.39,795.73" fill="none" stroke="#c6c6c6" stroke-width="11" stroke-linecap="round" stroke-linejoin="round"/>
<path d="M905.38,966.79 Q883.51,964.39 872.92,967.36 Q862.33,970.34 851.51,972.28 Q840.68,974.23 830.46,978.29 Q820.23,982.35 809.41,984.32 Q798.59,986.29 787.8,984.14 Q777.01,981.99 766.17,980.14 Q755.32,978.29 746.36,971.91 L737.4,965.54" fill="none" stroke="#c6c6c6" stroke-width="11" stroke-linecap="round" stroke-linejoin="round"/>
<path d="M866.67,967.36 Q888.48,970.19 899.47,970.84 L910.45,971.49" fill="none" stroke="#c6c6c6" stroke-width="11" stroke-linecap="round" stroke-linejoin="round"/>
<path d="M620.19,769.31 Q641.88,765.63 652.85,764.77 Q663.81,763.92 674.65,762.04 Q685.49,760.17 696.24,757.84 Q706.99,755.51 716.15,749.42 L725.31,743.33" fill="none" stroke="#c6c6c6" stroke-width="11" stroke-linecap="round" stroke-linejoin="round"/>
<path d="M260.99,994.67 Q281.56,986.88 290.5,980.47 Q299.44,974.06 308.96,968.55 Q318.48,963.03 327.93,957.41 Q337.39,951.79 343.15,942.42 Q348.92,933.05 358.44,927.55 Q367.97,922.05 378.13,917.85 Q388.3,913.64 399.29,913.15 L410.28,912.66" fill="none" stroke="#c6c6c6" stroke-width="11" stroke-linecap="round" stroke-linejoin="round"/>
<path d="M862.83,963.87 Q882.27,953.55 891.47,947.53 Q900.67,941.51 905.77,931.76 Q910.86,922.01 918.85,914.45 Q926.85,906.89 936.02,900.82 Q945.19,894.75 955.09,889.94 Q964.98,885.14 975.89,886.52 Q986.81,887.89 997.29,884.55 L1007.77,881.21" fill="none" stroke="#c6c6c6" stroke-width="11" stroke-linecap="round" stroke-linejoin="round"/>
<path d="M307.72,964.93 Q319.49,946.34 319.45,935.34 Q319.4,924.34 325.03,914.89 Q330.66,905.44 331.68,894.48 Q332.69,883.53 332.27,872.54 Q331.84,861.55 330.53,850.63 Q329.22,839.7 329.75,828.72 Q330.29,817.73 330.89,806.75 L331.49,795.76" fill="none" stroke="#c6c6c6" stroke-width="11" stroke-linecap="round" stroke-linejoin="round"/>
<path d="M843.28,752.63 Q821.33,754.14 810.72,757.02 Q800.1,759.9 790.79,765.76 Q781.48,771.61 770.71,773.84 Q759.93,776.06 748.98,775.01 Q738.03,773.97 728.3,768.83 Q718.58,763.7 707.58,763.9 Q696.58,764.11 686.09,760.81 L675.59,757.51" fill="none" stroke="#c6c6c6" stroke-width="11" stroke-linecap="round" stroke-linejoin="round"/>
<path d="M1030.75,754.71 Q1012.99,767.7 1006.96,776.89 Q1000.92,786.09 991.71,792.11 Q982.51,798.14 971.52,798.65 Q960.54,799.16 951.16,804.92 Q941.79,810.67 931.57,814.74 Q921.35,818.81 910.59,821.11 Q899.83,823.4 889.1,825.82 L878.37,828.25" fill="none" stroke="#c6c6c6" stroke-width="11" stroke-linecap="round" stroke-linejoin="round"/>
<path d="M205.96,976.78 Q207.17,954.81 210.7,944.39 Q214.23,933.98 215.88,923.1 Q217.54,912.23 221.43,901.94 Q225.33,891.65 227.69,880.91 Q230.05,870.16 228.99,859.22 Q227.93,848.27 223.59,838.16 L219.26,828.05" fill="none" stroke="#c6c6c6" stroke-width="11" stroke-linecap="round" stroke-linejoin="round"/>
<path d="M819.02,862.37 Q840.97,860.99 851.97,860.92 Q862.97,860.85 873.95,860.15 Q884.93,859.46 894.9,864.11 Q904.87,868.75 915.87,868.52 Q926.87,868.29 937.76,869.84 Q948.65,871.4 959.64,871.73 Q970.64,872.06 981.64,872.02 L992.64,871.98" fill="none" stroke="#c6c6c6" stroke-width="11" stroke-linecap="round" stroke-linejoin="round"/>
<path d="M658.18,868.41 Q679.75,864.08 689.97,860.01 Q700.19,855.94 709.6,850.24 Q719,844.54 729.74,842.13 Q740.47,839.72 751.42,838.69 Q762.37,837.65 773.17,835.53 Q783.96,833.42 794.72,831.13 Q805.48,828.84 814.87,823.12 L824.26,817.39" fill="none" stroke="#c6c6c6" stroke-width="11" stroke-linecap="round" stroke-linejoin="round"/>
<path d="M876.57,840.35 Q893.03,825.76 903.49,822.35 Q913.95,818.94 923.52,813.52 Q933.08,808.09 941.67,801.22 Q950.26,794.34 956.85,785.53 Q963.43,776.72 966.17,766.07 Q968.91,755.42 969.95,744.47 L970.99,733.51" fill="none" stroke="#c6c6c6" stroke-width="11" stroke-linecap="round" stroke-linejoin="round"/>
<path d="M740.35,1001.15 Q761.41,994.8 769.98,987.9 Q778.55,981 788.45,976.2 Q798.35,971.4 808.9,968.28 Q819.44,965.16 827.69,957.89 Q835.94,950.61 841.23,940.96 Q846.51,931.32 854.92,924.22 Q863.32,917.12 869.65,908.13 L875.98,899.13" fill="none" stroke="#c6c6c6" stroke-width="11" stroke-linecap="round" stroke-linejoin="round"/>
<path d="M79.6,979.57 Q100.98,974.37 109.3,967.18 Q117.62,959.98 123.81,950.89 Q130.01,941.8 137.97,934.21 Q145.93,926.62 156.36,923.12 Q166.79,919.63 177.28,916.31 Q187.77,913 198.67,911.56 Q209.58,910.12 217.81,902.82 L226.04,895.53" fill="none" stroke="#c6c6c6" stroke-width="11" stroke-linecap="round" stroke-linejoin="round"/>
<path d="M389.84,831.8 Q367.91,830.03 356.96,831.11 Q346.01,832.18 335.04,832.86 Q324.06,833.54 315.15,839.99 Q306.25,846.45 297.69,853.36 Q289.13,860.28 278.53,863.21 Q267.93,866.15 257.44,869.47 Q246.95,872.78 239.55,880.92 L232.15,889.05" fill="none" stroke="#c6c6c6" stroke-width="11" stroke-linecap="round" stroke-linejoin="round"/>
<path d="M758.22,979.28 Q736.23,980.17 725.35,978.6 Q714.46,977.03 703.5,976.16 Q692.53,975.29 682.33,979.4 Q672.12,983.51 662.77,989.3 Q653.42,995.09 643.02,998.66 Q632.61,1002.23 621.75,1003.97 Q610.89,1005.72 600.45,1009.19 L590.02,1012.67" fill="none" stroke="#c6c6c6" stroke-width="11" stroke-linecap="round" stroke-linejoin="round"/>
<path d="M933.32,747.09 Q912.03,752.64 901.48,755.77 Q890.94,758.91 879.96,758.27 Q868.98,757.63 858.97,762.21 Q848.97,766.78 838.12,768.59 Q827.27,770.41 817.2,774.82 Q807.12,779.24 797.59,784.74 Q788.06,790.23 779.99,797.7 L771.92,805.17" fill="none" stroke="#c6c6c6" stroke-width="11" stroke-linecap="round" stroke-linejoin="round"/>
<path d="M113.49,968.64 Q121.75,948.25 121.1,937.27 Q120.46,926.29 126.26,916.94 Q132.07,907.6 134.29,896.83 Q136.51,886.05 143.3,877.4 Q150.1,868.75 158.43,861.57 L166.76,854.39" fill="none" stroke="#c6c6c6" stroke-width="11" stroke-linecap="round" stroke-linejoin="round"/>
<path d="M742.5,924.64 Q742.94,902.64 748.71,893.28 Q754.49,883.92 759.11,873.93 Q763.72,863.95 764.66,852.99 Q765.59,842.03 761.48,831.82 Q757.38,821.62 751.61,812.25 Q745.85,802.88 746.35,791.89 Q746.84,780.9 746.05,769.93 L745.26,758.96" fill="none" stroke="#c6c6c6" stroke-width="11" stroke-linecap="round" stroke-linejoin="round"/>
<path d="M787.09,803.76 Q789.05,781.85 788.86,770.85 Q788.68,759.85 793.44,749.94 L798.2,740.02" fill="none" stroke="#c6c6c6" stroke-width="11" stroke-linecap="round" stroke-linejoin="round"/>
<path d="M257.95,847.98 Q276.79,836.63 287.77,835.91 Q298.75,835.19 309.36,838.08 Q319.97,840.97 330.62,838.2 Q341.27,835.43 352.24,834.63 Q363.21,833.84 374.04,835.77 Q384.87,837.7 395.47,840.62 Q406.08,843.53 414.74,850.31 L423.4,857.1" fill="none" stroke="#c6c6c6" stroke-width="11" stroke-linecap="round" stroke-linejoin="round"/>
<path d="M1018.11,808.74 Q999.28,820.11 990.45,826.67 Q981.62,833.23 970.63,833.75 Q959.64,834.28 949.89,839.37 Q940.14,844.45 930.89,850.41 Q921.64,856.36 911.45,860.5 Q901.26,864.65 892.39,871.16 Q883.53,877.67 876.17,885.84 L868.81,894.02" fill="none" stroke="#c6c6c6" stroke-width="11" stroke-linecap="round" stroke-linejoin="round"/>
<path d="M520,810 Q400,880 325,920 Q250,960 185,990 L120,1020" fill="none" stroke="#c6c6c6" stroke-width="12" stroke-linecap="round" stroke-linejoin="round"/>
<path d="M520,810 Q700,820 800,810 Q900,800 980,770 L1060,740" fill="none" stroke="#c6c6c6" stroke-width="12" stroke-linecap="round" stroke-linejoin="round"/>
<path d="M540,820 Q600,900 610,950 Q620,1000 630,1020 L640,1040" fill="none" stroke="#c6c6c6" stroke-width="12" stroke-linecap="round" stroke-linejoin="round"/>
<path d="M500,830 Q420,950 400,995 L380,1040" fill="none" stroke="#c6c6c6" stroke-width="12" stroke-linecap="round" stroke-linejoin="round"/>
<path d="M560,830 Q760,900 855,930 L950,960" fill="none" stroke="#c6c6c6" stroke-width="12" stroke-linecap="round" stroke-linejoin="round"/>
<path d="M480,820 Q300,900 225,945 Q150,990 105,1010 L60,1030" fill="none" stroke="#c6c6c6" stroke-width="12" stroke-linecap="round" stroke-linejoin="round"/>
</g>
<g transform="translate(665,52) scale(0.2)">
<circle cx="765" cy="98" r="40" fill="url(#soma)"/>
</g>
<rect x="674.9" y="282.2" width="51.6" height="5.5" fill="#fff"/>
<g transform="translate(917,52) scale(0.2)">
<path d="M782,96 Q750,130 737.5,155 Q725,180 732.5,195 Q740,210 737.5,255 Q735,300 730,340 Q725,380 720,420 Q715,460 710,490 Q705,520 697.5,550 Q690,580 684,615 Q678,650 674,685 Q670,720 671,727.5 L672,735" fill="none" stroke="#dedede" stroke-width="9" stroke-linecap="round" stroke-linejoin="round"/>
</g>
<g transform="translate(995,190) scale(0.08)">
<path d="M720,0 Q710,150 720,225 Q730,300 735,340 L740,380" fill="none" stroke="#dedede" stroke-width="27" stroke-linecap="round" stroke-linejoin="round"/>
<path d="M730,100 Q820,120 875,115 Q930,110 950,140 L970,170" fill="none" stroke="#dedede" stroke-width="27" stroke-linecap="round" stroke-linejoin="round"/>
<circle cx="970" cy="170" r="22" fill="#dedede"/>
<path d="M740,370 Q850,290 905,250 Q960,210 1017.5,202.5 L1075,195" fill="none" stroke="#dedede" stroke-width="27" stroke-linecap="round" stroke-linejoin="round"/>
<circle cx="1075" cy="195" r="30" fill="#dedede"/>
<path d="M760,360 Q850,370 905,370 Q960,370 1005,367.5 L1050,365" fill="none" stroke="#dedede" stroke-width="27" stroke-linecap="round" stroke-linejoin="round"/>
<circle cx="1050" cy="365" r="22" fill="#dedede"/>
<path d="M460,320 L500,200" fill="none" stroke="#dedede" stroke-width="27" stroke-linecap="round" stroke-linejoin="round"/>
<circle cx="500" cy="200" r="22" fill="#dedede"/>
<path d="M460,320 Q380,340 340,367.5 L300,395" fill="none" stroke="#dedede" stroke-width="27" stroke-linecap="round" stroke-linejoin="round"/>
<circle cx="300" cy="395" r="22" fill="#dedede"/>
<path d="M460,320 Q520,420 540,480 Q560,540 565,585 Q570,630 525,645 Q480,660 440,690 Q400,720 395,740 L390,760" fill="none" stroke="#dedede" stroke-width="27" stroke-linecap="round" stroke-linejoin="round"/>
<circle cx="390" cy="760" r="24" fill="#dedede"/>
<path d="M740,380 Q700,600 670,700 Q640,800 620,900 Q600,1000 580,1050 L560,1100" fill="none" stroke="#dedede" stroke-width="27" stroke-linecap="round" stroke-linejoin="round"/>
<path d="M750,420 Q720,700 720,800 Q720,900 710,975 L700,1050" fill="none" stroke="#dedede" stroke-width="27" stroke-linecap="round" stroke-linejoin="round"/>
<path d="M720,450 Q650,600 605,675 Q560,750 540,825 Q520,900 495,950 Q470,1000 475,1050 L480,1100" fill="none" stroke="#dedede" stroke-width="27" stroke-linecap="round" stroke-linejoin="round"/>
<path d="M740,600 Q780,900 805,975 L830,1050" fill="none" stroke="#dedede" stroke-width="27" stroke-linecap="round" stroke-linejoin="round"/>
<circle cx="830" cy="1050" r="24" fill="#dedede"/>
<path d="M720,700 Q760,900 780,950 L800,1000" fill="none" stroke="#dedede" stroke-width="27" stroke-linecap="round" stroke-linejoin="round"/>
<path d="M460,940 Q380,950 360,985 Q340,1020 370,1055 Q400,1090 440,1095 Q480,1100 510,1125 Q540,1150 580,1145 Q620,1140 660,1120 L700,1100" fill="none" stroke="#dedede" stroke-width="27" stroke-linecap="round" stroke-linejoin="round"/>
<path d="M780,880 Q880,890 940,920 Q1000,950 1060,927.5 L1120,905" fill="none" stroke="#dedede" stroke-width="27" stroke-linecap="round" stroke-linejoin="round"/>
<circle cx="1120" cy="905" r="26" fill="#dedede"/>
<path d="M860,1040 L950,1000" fill="none" stroke="#dedede" stroke-width="27" stroke-linecap="round" stroke-linejoin="round"/>
<path d="M380,1120 Q250,1140 200,1120 Q150,1100 115,1130 L80,1160" fill="none" stroke="#dedede" stroke-width="27" stroke-linecap="round" stroke-linejoin="round"/>
<circle cx="80" cy="1160" r="18" fill="#dedede"/>
<path d="M600,900 Q620,1000 635,1040 L650,1080" fill="none" stroke="#dedede" stroke-width="27" stroke-linecap="round" stroke-linejoin="round"/>
<path d="M680,800 Q640,950 630,1005 L620,1060" fill="none" stroke="#dedede" stroke-width="27" stroke-linecap="round" stroke-linejoin="round"/>
<path d="M700,700 Q660,850 610,905 Q560,960 515,995 Q470,1030 460,1065 L450,1100" fill="none" stroke="#dedede" stroke-width="27" stroke-linecap="round" stroke-linejoin="round"/>
<path d="M560,950 Q520,1050 540,1085 Q560,1120 600,1135 L640,1150" fill="none" stroke="#dedede" stroke-width="27" stroke-linecap="round" stroke-linejoin="round"/>
<path d="M700,1000 Q640,1080 600,1110 L560,1140" fill="none" stroke="#dedede" stroke-width="27" stroke-linecap="round" stroke-linejoin="round"/>
<path d="M760,950 Q740,1050 710,1085 Q680,1120 640,1140 L600,1160" fill="none" stroke="#dedede" stroke-width="27" stroke-linecap="round" stroke-linejoin="round"/>
<path d="M460,870 Q470,960 455,1000 L440,1040" fill="none" stroke="#dedede" stroke-width="27" stroke-linecap="round" stroke-linejoin="round"/>
<circle cx="440" cy="1040" r="18" fill="#dedede"/>
<path d="M600,880 Q560,900 545,880 L530,860" fill="none" stroke="#dedede" stroke-width="27" stroke-linecap="round" stroke-linejoin="round"/>
<circle cx="700" cy="420" r="20" fill="#dedede"/>
<circle cx="740" cy="300" r="18" fill="#dedede"/>
<circle cx="560" cy="960" r="16" fill="#dedede"/>
<circle cx="480" cy="1000" r="14" fill="#dedede"/>
<circle cx="640" cy="1100" r="16" fill="#dedede"/>
<circle cx="720" cy="1060" r="14" fill="#dedede"/>
<circle cx="540" cy="1130" r="14" fill="#dedede"/>
</g>
<g transform="translate(917,52) scale(0.2)">
<circle cx="829.5" cy="88" r="50" fill="url(#soma)"/>
</g>
<rect x="932.9" y="280.1" width="55.9" height="5.2" fill="#fff"/>
<g transform="translate(1169.4,52) scale(0.2)">
<path d="M985,165 Q975,200 971.5,217.5 Q968,235 954,247.5 Q940,260 920,265 Q900,270 880,282.5 Q860,295 845,307.5 Q830,320 815,335 Q800,350 795,365 Q790,380 770,400 Q750,420 730,430 Q710,440 705,455 Q700,470 695,495 Q690,520 675,530 Q660,540 645,550 Q630,560 622.5,590 Q615,620 607.5,645 Q600,670 595,690 Q590,710 582.5,725 L575,740" fill="none" stroke="#d6d6d6" stroke-width="8.5" stroke-linecap="round" stroke-linejoin="round"/>
</g>
<g transform="translate(1210,180) scale(0.08)">
<path d="M467.68,958.85 Q472.51,933.3 469.25,920.72 Q465.99,908.13 455.01,901.18 Q444.02,894.23 431.04,894.87 L418.06,895.5" fill="none" stroke="#d6d6d6" stroke-width="14" stroke-linecap="round" stroke-linejoin="round"/>
<path d="M241.02,949.53 Q266.25,955.8 279.24,956.43 Q292.22,957.07 305.15,955.74 Q318.09,954.4 330.82,957.03 L343.55,959.65" fill="none" stroke="#d6d6d6" stroke-width="18" stroke-linecap="round" stroke-linejoin="round"/>
<path d="M166.2,1057.7 L140.37,1054.7" fill="none" stroke="#d6d6d6" stroke-width="14" stroke-linecap="round" stroke-linejoin="round"/>
<path d="M529.55,1082.57 L547.7,1101.19" fill="none" stroke="#d6d6d6" stroke-width="14" stroke-linecap="round" stroke-linejoin="round"/>
<path d="M706.35,1049.51 Q695.47,1073.13 686.39,1082.43 Q677.31,1091.74 665.43,1097.02 L653.55,1102.3" fill="none" stroke="#d6d6d6" stroke-width="18" stroke-linecap="round" stroke-linejoin="round"/>
<path d="M847.43,988.08 Q826.43,972.76 813.7,970.14 Q800.96,967.51 788.08,965.8 Q775.19,964.08 764.48,956.71 L753.77,949.34" fill="none" stroke="#d6d6d6" stroke-width="24" stroke-linecap="round" stroke-linejoin="round"/>
<path d="M654.63,1101.2 Q643.72,1077.6 631.52,1073.12 Q619.32,1068.63 611.92,1057.93 Q604.52,1047.24 598.55,1035.7 L592.58,1024.15" fill="none" stroke="#d6d6d6" stroke-width="24" stroke-linecap="round" stroke-linejoin="round"/>
<circle cx="592.58" cy="1024.15" r="14" fill="#d6d6d6"/>
<path d="M600.4,872.97 Q625.6,866.6 637.58,861.53 Q649.55,856.46 660.1,848.87 Q670.66,841.29 674.84,828.98 L679.02,816.67" fill="none" stroke="#d6d6d6" stroke-width="14" stroke-linecap="round" stroke-linejoin="round"/>
<circle cx="679.02" cy="816.67" r="14" fill="#d6d6d6"/>
<path d="M784.64,1003.04 Q765.36,1020.48 752.37,1021.04 Q739.39,1021.61 727.1,1017.36 Q714.81,1013.11 703.16,1018.87 L691.5,1024.62" fill="none" stroke="#d6d6d6" stroke-width="24" stroke-linecap="round" stroke-linejoin="round"/>
<path d="M166.99,923.63 Q177.4,947.46 179.05,960.35 Q180.69,973.25 175.08,984.98 Q169.47,996.7 157.3,1001.26 L145.12,1005.82" fill="none" stroke="#d6d6d6" stroke-width="14" stroke-linecap="round" stroke-linejoin="round"/>
<path d="M775.96,1040.17 Q754.4,1054.68 750.77,1067.17 L747.14,1079.65" fill="none" stroke="#d6d6d6" stroke-width="18" stroke-linecap="round" stroke-linejoin="round"/>
<path d="M371.93,1071.27 Q350.59,1086.12 345.84,1098.22 L341.09,1110.32" fill="none" stroke="#d6d6d6" stroke-width="14" stroke-linecap="round" stroke-linejoin="round"/>
<path d="M933.18,910.66 Q920.54,933.38 918.64,946.24 Q916.75,959.11 913.31,971.64 Q909.86,984.18 913.93,996.52 L918,1008.87" fill="none" stroke="#d6d6d6" stroke-width="24" stroke-linecap="round" stroke-linejoin="round"/>
<circle cx="918" cy="1008.87" r="14" fill="#d6d6d6"/>
<path d="M552.84,899.46 Q578.29,894.11 590.95,891.18 Q603.62,888.25 616.31,885.41 Q628.99,882.58 641.15,887.19 L653.3,891.8" fill="none" stroke="#d6d6d6" stroke-width="24" stroke-linecap="round" stroke-linejoin="round"/>
<path d="M923.35,913.89 Q912.77,890.14 905.69,879.23 Q898.62,868.32 892.91,856.65 Q887.19,844.97 884.06,832.35 L880.93,819.73" fill="none" stroke="#d6d6d6" stroke-width="24" stroke-linecap="round" stroke-linejoin="round"/>
<circle cx="880.93" cy="819.73" r="14" fill="#d6d6d6"/>
<path d="M504.09,852.82 Q504.34,826.83 495.18,817.6 Q486.02,808.38 474.52,802.3 L463.03,796.22" fill="none" stroke="#d6d6d6" stroke-width="14" stroke-linecap="round" stroke-linejoin="round"/>
<circle cx="463.03" cy="796.22" r="14" fill="#d6d6d6"/>
<path d="M452.24,945.47 Q430.23,931.62 417.24,932.05 Q404.25,932.49 393.81,924.73 Q383.38,916.98 374.8,907.21 L366.22,897.44" fill="none" stroke="#d6d6d6" stroke-width="24" stroke-linecap="round" stroke-linejoin="round"/>
<circle cx="366.22" cy="897.44" r="14" fill="#d6d6d6"/>
<path d="M720.15,886.2 Q695.3,878.55 684.17,871.83 Q673.04,865.1 666.6,853.81 Q660.15,842.52 647.65,838.95 L635.15,835.38" fill="none" stroke="#d6d6d6" stroke-width="14" stroke-linecap="round" stroke-linejoin="round"/>
<path d="M275.34,834.72 Q298.47,846.61 304.44,858.15 Q310.41,869.7 310.66,882.7 Q310.9,895.69 303.4,906.31 L295.9,916.93" fill="none" stroke="#d6d6d6" stroke-width="24" stroke-linecap="round" stroke-linejoin="round"/>
<path d="M323.45,870.64 Q345.51,884.4 357.45,889.52 Q369.4,894.65 377.68,904.67 Q385.96,914.69 391.44,926.48 L396.91,938.27" fill="none" stroke="#d6d6d6" stroke-width="14" stroke-linecap="round" stroke-linejoin="round"/>
<path d="M260.85,928.69 Q280.18,911.3 292.71,907.83 Q305.24,904.37 318.23,904.78 Q331.22,905.19 341.68,912.92 L352.13,920.65" fill="none" stroke="#d6d6d6" stroke-width="18" stroke-linecap="round" stroke-linejoin="round"/>
<path d="M532.45,817.03 L526.24,791.78" fill="none" stroke="#d6d6d6" stroke-width="14" stroke-linecap="round" stroke-linejoin="round"/>
<path d="M482.12,881.03 Q508.09,882.22 520.22,886.9 Q532.35,891.59 544.86,888.05 Q557.37,884.51 567.25,876.07 L577.14,867.63" fill="none" stroke="#d6d6d6" stroke-width="24" stroke-linecap="round" stroke-linejoin="round"/>
<path d="M692.58,990.04 Q714.61,976.24 727.45,978.26 Q740.3,980.28 752.82,983.78 Q765.34,987.28 777.03,981.62 L788.73,975.95" fill="none" stroke="#d6d6d6" stroke-width="14" stroke-linecap="round" stroke-linejoin="round"/>
<circle cx="788.73" cy="975.95" r="14" fill="#d6d6d6"/>
<path d="M300.2,966.43 Q293.62,941.27 287.4,929.86 Q281.18,918.44 269.05,913.78 Q256.92,909.11 246.49,901.35 L236.06,893.58" fill="none" stroke="#d6d6d6" stroke-width="14" stroke-linecap="round" stroke-linejoin="round"/>
<circle cx="236.06" cy="893.58" r="14" fill="#d6d6d6"/>
<path d="M165.71,906.4 Q186.67,921.78 190.68,934.15 Q194.69,946.52 198.08,959.07 Q201.48,971.61 207.62,983.07 L213.75,994.53" fill="none" stroke="#d6d6d6" stroke-width="14" stroke-linecap="round" stroke-linejoin="round"/>
<path d="M895.35,955.99 Q916.88,941.42 919.48,928.68 Q922.08,915.94 929.08,904.99 L936.07,894.03" fill="none" stroke="#d6d6d6" stroke-width="14" stroke-linecap="round" stroke-linejoin="round"/>
<circle cx="936.07" cy="894.03" r="14" fill="#d6d6d6"/>
<path d="M798.44,988.23 Q774.34,978.48 764.33,970.18 Q754.32,961.89 743,955.49 Q731.68,949.1 726.94,936.99 L722.2,924.89" fill="none" stroke="#d6d6d6" stroke-width="24" stroke-linecap="round" stroke-linejoin="round"/>
<circle cx="722.2" cy="924.89" r="14" fill="#d6d6d6"/>
<path d="M705.61,1085.48 Q731.58,1084.11 741.75,1076.02 Q751.92,1067.93 762.41,1060.25 Q772.9,1052.57 785.89,1053.06 L798.89,1053.56" fill="none" stroke="#d6d6d6" stroke-width="14" stroke-linecap="round" stroke-linejoin="round"/>
<path d="M329.86,870.79 Q320.01,894.85 314.41,906.58 Q308.8,918.31 311.61,931.01 Q314.41,943.7 316.99,956.44 L319.57,969.19" fill="none" stroke="#d6d6d6" stroke-width="24" stroke-linecap="round" stroke-linejoin="round"/>
<circle cx="319.57" cy="969.19" r="14" fill="#d6d6d6"/>
<path d="M112.55,1009.73 L108.28,1035.38" fill="none" stroke="#d6d6d6" stroke-width="14" stroke-linecap="round" stroke-linejoin="round"/>
<circle cx="108.28" cy="1035.38" r="14" fill="#d6d6d6"/>
<path d="M387.17,890.62 Q411.6,881.73 422.86,875.23 Q434.11,868.72 445.02,861.66 Q455.94,854.59 467.41,848.48 L478.89,842.38" fill="none" stroke="#d6d6d6" stroke-width="18" stroke-linecap="round" stroke-linejoin="round"/>
<circle cx="478.89" cy="842.38" r="14" fill="#d6d6d6"/>
<path d="M430.12,1057.68 Q404.34,1061.03 391.34,1060.66 Q378.35,1060.3 367.62,1067.65 Q356.9,1075 349.4,1085.62 L341.91,1096.24" fill="none" stroke="#d6d6d6" stroke-width="14" stroke-linecap="round" stroke-linejoin="round"/>
<circle cx="341.91" cy="1096.24" r="14" fill="#d6d6d6"/>
<path d="M789.37,967.24 Q764.27,974.01 757.73,985.24 Q751.19,996.48 753,1009.35 Q754.82,1022.22 762.58,1032.65 L770.35,1043.08" fill="none" stroke="#d6d6d6" stroke-width="18" stroke-linecap="round" stroke-linejoin="round"/>
<path d="M575.19,1069.84 Q591.82,1089.82 604.77,1090.98 Q617.71,1092.13 630.57,1094.04 Q643.43,1095.95 656.43,1096.08 L669.43,1096.22" fill="none" stroke="#d6d6d6" stroke-width="18" stroke-linecap="round" stroke-linejoin="round"/>
<circle cx="669.43" cy="1096.22" r="14" fill="#d6d6d6"/>
<path d="M934.94,981.18 Q909.68,975.04 897.22,971.3 Q884.77,967.57 872,969.96 Q859.22,972.35 848.39,965.15 L837.57,957.95" fill="none" stroke="#d6d6d6" stroke-width="18" stroke-linecap="round" stroke-linejoin="round"/>
<circle cx="837.57" cy="957.95" r="14" fill="#d6d6d6"/>
<path d="M392.21,1106.67 Q368.69,1117.74 355.85,1115.67 Q343.02,1113.61 330.79,1109.19 Q318.57,1104.77 305.69,1102.97 L292.82,1101.17" fill="none" stroke="#d6d6d6" stroke-width="14" stroke-linecap="round" stroke-linejoin="round"/>
<path d="M345.83,1103.93 Q367.04,1088.88 378.2,1082.22 Q389.36,1075.55 400.74,1069.26 Q412.12,1062.98 425.05,1061.69 L437.99,1060.4" fill="none" stroke="#d6d6d6" stroke-width="24" stroke-linecap="round" stroke-linejoin="round"/>
<circle cx="437.99" cy="1060.4" r="14" fill="#d6d6d6"/>
<path d="M900,120 L880,190" fill="none" stroke="#d6d6d6" stroke-width="19" stroke-linecap="round" stroke-linejoin="round"/>
<path d="M880,200 Q800,240 750,260 Q700,280 640,275 L580,270" fill="none" stroke="#d6d6d6" stroke-width="19" stroke-linecap="round" stroke-linejoin="round"/>
<path d="M580,270 Q560,230 540,190 Q520,150 485,140 Q450,130 415,115 L380,100" fill="none" stroke="#d6d6d6" stroke-width="19" stroke-linecap="round" stroke-linejoin="round"/>
<circle cx="380" cy="100" r="16" fill="#d6d6d6"/>
<path d="M560,235 L430,250" fill="none" stroke="#d6d6d6" stroke-width="19" stroke-linecap="round" stroke-linejoin="round"/>
<circle cx="430" cy="250" r="18" fill="#d6d6d6"/>
<path d="M880,190 Q950,200 975,210 Q1000,220 1015,230 Q1030,240 1015,260 L1000,280" fill="none" stroke="#d6d6d6" stroke-width="19" stroke-linecap="round" stroke-linejoin="round"/>
<circle cx="1000" cy="280" r="18" fill="#d6d6d6"/>
<path d="M860,210 Q880,300 865,340 Q850,380 825,400 Q800,420 790,385 Q780,350 800,305 L820,260" fill="none" stroke="#d6d6d6" stroke-width="19" stroke-linecap="round" stroke-linejoin="round"/>
<path d="M575,280 Q560,400 557.5,450 Q555,500 537.5,550 Q520,600 505,650 Q490,700 480,750 Q470,800 465,825 L460,850" fill="none" stroke="#d6d6d6" stroke-width="19" stroke-linecap="round" stroke-linejoin="round"/>
<path d="M790,420 Q720,480 680,530 Q640,580 630,640 Q620,700 605,630 L590,560" fill="none" stroke="#d6d6d6" stroke-width="19" stroke-linecap="round" stroke-linejoin="round"/>
<path d="M800,420 Q800,520 780,570 Q760,620 730,670 Q700,720 695,760 Q690,800 685,850 L680,900" fill="none" stroke="#d6d6d6" stroke-width="19" stroke-linecap="round" stroke-linejoin="round"/>
<path d="M780,650 Q820,760 850,780 Q880,800 910,825 Q940,850 1020,840 Q1100,830 1150,850 Q1200,870 1240,855 L1280,840" fill="none" stroke="#d6d6d6" stroke-width="19" stroke-linecap="round" stroke-linejoin="round"/>
<circle cx="1280" cy="840" r="20" fill="#d6d6d6"/>
<path d="M460,830 Q400,900 375,950 Q350,1000 360,1050 L370,1100" fill="none" stroke="#d6d6d6" stroke-width="19" stroke-linecap="round" stroke-linejoin="round"/>
<path d="M470,830 L360,820" fill="none" stroke="#d6d6d6" stroke-width="19" stroke-linecap="round" stroke-linejoin="round"/>
<circle cx="360" cy="820" r="16" fill="#d6d6d6"/>
<path d="M480,870 Q300,890 250,885 Q200,880 185,915 L170,950" fill="none" stroke="#d6d6d6" stroke-width="19" stroke-linecap="round" stroke-linejoin="round"/>
<path d="M520,880 Q430,980 405,1040 L380,1100" fill="none" stroke="#d6d6d6" stroke-width="19" stroke-linecap="round" stroke-linejoin="round"/>
<path d="M540,950 Q580,1050 630,1040 Q680,1030 700,1055 L720,1080" fill="none" stroke="#d6d6d6" stroke-width="19" stroke-linecap="round" stroke-linejoin="round"/>
<path d="M620,900 Q700,850 740,865 Q780,880 815,920 Q850,960 835,980 L820,1000" fill="none" stroke="#d6d6d6" stroke-width="19" stroke-linecap="round" stroke-linejoin="round"/>
<path d="M700,880 Q720,980 710,1020 L700,1060" fill="none" stroke="#d6d6d6" stroke-width="19" stroke-linecap="round" stroke-linejoin="round"/>
<path d="M800,860 Q900,900 935,925 Q970,950 960,975 L950,1000" fill="none" stroke="#d6d6d6" stroke-width="19" stroke-linecap="round" stroke-linejoin="round"/>
<path d="M300,1050 Q200,1030 145,1035 L90,1040" fill="none" stroke="#d6d6d6" stroke-width="19" stroke-linecap="round" stroke-linejoin="round"/>
<path d="M400,1050 Q330,1080 275,1090 L220,1100" fill="none" stroke="#d6d6d6" stroke-width="19" stroke-linecap="round" stroke-linejoin="round"/>
<path d="M520,800 Q540,900 540,930 L540,960" fill="none" stroke="#d6d6d6" stroke-width="19" stroke-linecap="round" stroke-linejoin="round"/>
<path d="M680,720 Q700,820 730,860 Q760,900 800,920 L840,940" fill="none" stroke="#d6d6d6" stroke-width="19" stroke-linecap="round" stroke-linejoin="round"/>
<path d="M450,900 Q380,960 340,980 Q300,1000 265,1010 L230,1020" fill="none" stroke="#d6d6d6" stroke-width="19" stroke-linecap="round" stroke-linejoin="round"/>
<path d="M620,1000 Q660,1060 655,1075 L650,1090" fill="none" stroke="#d6d6d6" stroke-width="19" stroke-linecap="round" stroke-linejoin="round"/>
<path d="M880,900 Q900,980 930,985 L960,990" fill="none" stroke="#d6d6d6" stroke-width="19" stroke-linecap="round" stroke-linejoin="round"/>
</g>
<g transform="translate(1169.4,52) scale(0.2)">
<circle cx="1014" cy="125" r="45" fill="url(#soma)"/>
</g>
<rect x="1179.3" y="280.5" width="53.2" height="5" fill="#fff"/>
<text transform="translate(4,350.6) scale(1.1,0.95)" x="0" y="0" font-size="33" font-weight="bold" fill="#000" stroke="#000" stroke-width="1.1">c</text>
<line x1="156.7" y1="341.3" x2="156.7" y2="628.75" stroke="#000" stroke-width="2.3" stroke-linecap="butt"/>
<line x1="155.55" y1="627.6" x2="329.8" y2="627.6" stroke="#000" stroke-width="2.3" stroke-linecap="butt"/>
<line x1="145" y1="348.9" x2="156.7" y2="348.9" stroke="#000" stroke-width="2.3" stroke-linecap="butt"/>
<text x="140.4" y="355.6" font-size="21.2" text-anchor="end" font-weight="normal" fill="#000">1,500</text>
<line x1="145" y1="459.8" x2="156.7" y2="459.8" stroke="#000" stroke-width="2.3" stroke-linecap="butt"/>
<text x="140.4" y="466.5" font-size="21.2" text-anchor="end" font-weight="normal" fill="#000">1,000</text>
<line x1="145" y1="570.8" x2="156.7" y2="570.8" stroke="#000" stroke-width="2.3" stroke-linecap="butt"/>
<text x="140.4" y="577.5" font-size="21.2" text-anchor="end" font-weight="normal" fill="#000">500</text>
<line x1="178.1" y1="627.6" x2="178.1" y2="639.9" stroke="#000" stroke-width="2.3" stroke-linecap="butt"/>
<text x="178.1" y="660.4" font-size="21.2" text-anchor="middle" font-weight="normal" fill="#000">1</text>
<line x1="221.5" y1="627.6" x2="221.5" y2="639.9" stroke="#000" stroke-width="2.3" stroke-linecap="butt"/>
<text x="221.5" y="660.4" font-size="21.2" text-anchor="middle" font-weight="normal" fill="#000">2</text>
<line x1="264.7" y1="627.6" x2="264.7" y2="639.9" stroke="#000" stroke-width="2.3" stroke-linecap="butt"/>
<text x="264.7" y="660.4" font-size="21.2" text-anchor="middle" font-weight="normal" fill="#000">3</text>
<line x1="308.4" y1="627.6" x2="308.4" y2="639.9" stroke="#000" stroke-width="2.3" stroke-linecap="butt"/>
<text x="308.4" y="660.4" font-size="21.2" text-anchor="middle" font-weight="normal" fill="#000">4</text>
<text x="106.6" y="660.4" font-size="21.2" text-anchor="start" font-weight="normal" fill="#000">Type</text>
<line x1="178.05" y1="571.2" x2="178.05" y2="543.6" stroke="#474747" stroke-width="2.2" stroke-linecap="butt"/>
<line x1="178.05" y1="592.5" x2="178.05" y2="604.7" stroke="#474747" stroke-width="2.2" stroke-linecap="butt"/>
<line x1="169.12" y1="543.6" x2="186.98" y2="543.6" stroke="#474747" stroke-width="2.2" stroke-linecap="butt"/>
<line x1="169.12" y1="604.7" x2="186.98" y2="604.7" stroke="#474747" stroke-width="2.2" stroke-linecap="butt"/>
<rect x="161.2" y="571.2" width="33.7" height="21.3" fill="#2ea098" stroke="#474747" stroke-width="2.2"/>
<line x1="161.2" y1="582" x2="194.9" y2="582" stroke="#474747" stroke-width="2.2" stroke-linecap="butt"/>
<path d="M178.05,494.9 L183.25,503.5 L178.05,512.1 L172.85,503.5 Z" fill="#4b4b4b"/>
<circle cx="181.09" cy="543.6" r="5" fill="#4b4b4b"/>
<circle cx="178.56" cy="604.7" r="5" fill="#4b4b4b"/>
<circle cx="179.33" cy="589.25" r="5" fill="#4b4b4b"/>
<circle cx="175.22" cy="550.64" r="5" fill="#4b4b4b"/>
<circle cx="182.48" cy="580.77" r="5" fill="#4b4b4b"/>
<circle cx="181.29" cy="565.37" r="5" fill="#4b4b4b"/>
<circle cx="174.64" cy="571.8" r="5" fill="#4b4b4b"/>
<circle cx="176.54" cy="597.78" r="5" fill="#4b4b4b"/>
<circle cx="180.04" cy="543.66" r="5" fill="#4b4b4b"/>
<circle cx="179.95" cy="586.57" r="5" fill="#4b4b4b"/>
<circle cx="181.98" cy="591.33" r="5" fill="#4b4b4b"/>
<circle cx="177.35" cy="592.87" r="5" fill="#4b4b4b"/>
<circle cx="181.02" cy="582.73" r="5" fill="#4b4b4b"/>
<circle cx="179.58" cy="597.15" r="5" fill="#4b4b4b"/>
<circle cx="176.28" cy="580.19" r="5" fill="#4b4b4b"/>
<circle cx="178.84" cy="575.92" r="5" fill="#4b4b4b"/>
<circle cx="181.49" cy="581.76" r="5" fill="#4b4b4b"/>
<circle cx="181.17" cy="576.12" r="5" fill="#4b4b4b"/>
<circle cx="178.1" cy="580.99" r="5" fill="#4b4b4b"/>
<circle cx="178.85" cy="571.66" r="5" fill="#4b4b4b"/>
<circle cx="175.26" cy="503.5" r="4.8" fill="#4b4b4b"/>
<line x1="221.45" y1="489.7" x2="221.45" y2="450.2" stroke="#474747" stroke-width="2.2" stroke-linecap="butt"/>
<line x1="221.45" y1="524.2" x2="221.45" y2="567" stroke="#474747" stroke-width="2.2" stroke-linecap="butt"/>
<line x1="212.52" y1="450.2" x2="230.38" y2="450.2" stroke="#474747" stroke-width="2.2" stroke-linecap="butt"/>
<line x1="212.52" y1="567" x2="230.38" y2="567" stroke="#474747" stroke-width="2.2" stroke-linecap="butt"/>
<rect x="204.6" y="489.7" width="33.7" height="34.5" fill="#dc5426" stroke="#474747" stroke-width="2.2"/>
<line x1="204.6" y1="510.8" x2="238.3" y2="510.8" stroke="#474747" stroke-width="2.2" stroke-linecap="butt"/>
<path d="M221.45,346.15 L226.65,354.75 L221.45,363.35 L216.25,354.75 Z" fill="#4b4b4b"/>
<circle cx="225.05" cy="450.2" r="5" fill="#4b4b4b"/>
<circle cx="221.1" cy="567" r="5" fill="#4b4b4b"/>
<circle cx="222.06" cy="564.77" r="5" fill="#4b4b4b"/>
<circle cx="225.23" cy="492.63" r="5" fill="#4b4b4b"/>
<circle cx="223.46" cy="555.7" r="5" fill="#4b4b4b"/>
<circle cx="221.33" cy="462.37" r="5" fill="#4b4b4b"/>
<circle cx="218.95" cy="474.17" r="5" fill="#4b4b4b"/>
<circle cx="219.87" cy="456.46" r="5" fill="#4b4b4b"/>
<circle cx="223.25" cy="503.28" r="5" fill="#4b4b4b"/>
<circle cx="218.44" cy="489.5" r="5" fill="#4b4b4b"/>
<circle cx="225.12" cy="547.49" r="5" fill="#4b4b4b"/>
<circle cx="219.36" cy="498.95" r="5" fill="#4b4b4b"/>
<circle cx="225.15" cy="490.65" r="5" fill="#4b4b4b"/>
<circle cx="219.74" cy="500.69" r="5" fill="#4b4b4b"/>
<circle cx="225.57" cy="520.47" r="5" fill="#4b4b4b"/>
<circle cx="223.31" cy="509.04" r="5" fill="#4b4b4b"/>
<circle cx="221.49" cy="490.52" r="5" fill="#4b4b4b"/>
<circle cx="221.61" cy="494.42" r="5" fill="#4b4b4b"/>
<circle cx="222.81" cy="524.15" r="5" fill="#4b4b4b"/>
<circle cx="222.24" cy="457.38" r="5" fill="#4b4b4b"/>
<circle cx="219.76" cy="558.3" r="5" fill="#4b4b4b"/>
<circle cx="218.82" cy="486.01" r="5" fill="#4b4b4b"/>
<circle cx="221.56" cy="481.4" r="5" fill="#4b4b4b"/>
<circle cx="225.36" cy="523.54" r="5" fill="#4b4b4b"/>
<circle cx="222.56" cy="531.1" r="5" fill="#4b4b4b"/>
<circle cx="217.63" cy="478.45" r="5" fill="#4b4b4b"/>
<circle cx="224.33" cy="508" r="5" fill="#4b4b4b"/>
<circle cx="223.48" cy="521.61" r="5" fill="#4b4b4b"/>
<circle cx="225.12" cy="518.39" r="5" fill="#4b4b4b"/>
<circle cx="218.67" cy="520.16" r="5" fill="#4b4b4b"/>
<circle cx="222.92" cy="354.75" r="4.8" fill="#4b4b4b"/>
<line x1="265.1" y1="558.2" x2="265.1" y2="533" stroke="#474747" stroke-width="2.2" stroke-linecap="butt"/>
<line x1="265.1" y1="589.6" x2="265.1" y2="610.4" stroke="#474747" stroke-width="2.2" stroke-linecap="butt"/>
<line x1="256.15" y1="533" x2="274.05" y2="533" stroke="#474747" stroke-width="2.2" stroke-linecap="butt"/>
<line x1="256.15" y1="610.4" x2="274.05" y2="610.4" stroke="#474747" stroke-width="2.2" stroke-linecap="butt"/>
<rect x="248.2" y="558.2" width="33.8" height="31.4" fill="#4a8bc8" stroke="#474747" stroke-width="2.2"/>
<line x1="248.2" y1="577.6" x2="282" y2="577.6" stroke="#474747" stroke-width="2.2" stroke-linecap="butt"/>
<path d="M265.1,483.5 L270.3,492.1 L265.1,500.7 L259.9,492.1 Z" fill="#4b4b4b"/>
<path d="M265.1,502.2 L270.3,510.8 L265.1,519.4 L259.9,510.8 Z" fill="#4b4b4b"/>
<circle cx="266.25" cy="533" r="5" fill="#4b4b4b"/>
<circle cx="264.8" cy="610.4" r="5" fill="#4b4b4b"/>
<circle cx="266.71" cy="575.29" r="5" fill="#4b4b4b"/>
<circle cx="263.77" cy="577.16" r="5" fill="#4b4b4b"/>
<circle cx="266.96" cy="534.65" r="5" fill="#4b4b4b"/>
<circle cx="267.24" cy="584.5" r="5" fill="#4b4b4b"/>
<circle cx="260.8" cy="565.56" r="5" fill="#4b4b4b"/>
<circle cx="261.15" cy="599.38" r="5" fill="#4b4b4b"/>
<circle cx="266.68" cy="599.51" r="5" fill="#4b4b4b"/>
<circle cx="269.27" cy="536.8" r="5" fill="#4b4b4b"/>
<circle cx="262.86" cy="554.87" r="5" fill="#4b4b4b"/>
<circle cx="264.71" cy="581.48" r="5" fill="#4b4b4b"/>
<circle cx="265.93" cy="534.61" r="5" fill="#4b4b4b"/>
<circle cx="263.48" cy="547.9" r="5" fill="#4b4b4b"/>
<circle cx="263.88" cy="559.17" r="5" fill="#4b4b4b"/>
<circle cx="263.41" cy="599.43" r="5" fill="#4b4b4b"/>
<circle cx="263.92" cy="555.15" r="5" fill="#4b4b4b"/>
<circle cx="265.96" cy="556.21" r="5" fill="#4b4b4b"/>
<circle cx="263.3" cy="583.35" r="5" fill="#4b4b4b"/>
<circle cx="263.99" cy="587.58" r="5" fill="#4b4b4b"/>
<circle cx="267.55" cy="591.63" r="5" fill="#4b4b4b"/>
<circle cx="260.84" cy="565.01" r="5" fill="#4b4b4b"/>
<circle cx="265.72" cy="598.67" r="5" fill="#4b4b4b"/>
<circle cx="267.22" cy="540.59" r="5" fill="#4b4b4b"/>
<circle cx="263.39" cy="570.32" r="5" fill="#4b4b4b"/>
<circle cx="262.6" cy="576.57" r="5" fill="#4b4b4b"/>
<circle cx="267.83" cy="555.79" r="5" fill="#4b4b4b"/>
<circle cx="262.75" cy="556.41" r="5" fill="#4b4b4b"/>
<circle cx="262.29" cy="610.21" r="5" fill="#4b4b4b"/>
<circle cx="264.52" cy="537.11" r="5" fill="#4b4b4b"/>
<circle cx="266.88" cy="609.66" r="5" fill="#4b4b4b"/>
<circle cx="261.52" cy="601.44" r="5" fill="#4b4b4b"/>
<circle cx="263.5" cy="538.32" r="5" fill="#4b4b4b"/>
<circle cx="263.6" cy="601.53" r="5" fill="#4b4b4b"/>
<circle cx="268.1" cy="560.19" r="5" fill="#4b4b4b"/>
<circle cx="264.55" cy="610.19" r="5" fill="#4b4b4b"/>
<circle cx="268.3" cy="583.34" r="5" fill="#4b4b4b"/>
<circle cx="262.12" cy="562.93" r="5" fill="#4b4b4b"/>
<circle cx="263.63" cy="582.34" r="5" fill="#4b4b4b"/>
<circle cx="266.45" cy="590.52" r="5" fill="#4b4b4b"/>
<circle cx="268.56" cy="534.13" r="5" fill="#4b4b4b"/>
<circle cx="264.66" cy="541.34" r="5" fill="#4b4b4b"/>
<circle cx="262.63" cy="610" r="5" fill="#4b4b4b"/>
<circle cx="261.69" cy="589.55" r="5" fill="#4b4b4b"/>
<circle cx="265.37" cy="560.62" r="5" fill="#4b4b4b"/>
<circle cx="262.32" cy="533.79" r="5" fill="#4b4b4b"/>
<circle cx="267.86" cy="571.01" r="5" fill="#4b4b4b"/>
<circle cx="268.15" cy="536.94" r="5" fill="#4b4b4b"/>
<circle cx="262.25" cy="585.45" r="5" fill="#4b4b4b"/>
<circle cx="263.11" cy="588.3" r="5" fill="#4b4b4b"/>
<circle cx="267.87" cy="597.46" r="5" fill="#4b4b4b"/>
<circle cx="266.38" cy="574.53" r="5" fill="#4b4b4b"/>
<circle cx="267.86" cy="548.01" r="5" fill="#4b4b4b"/>
<circle cx="263.71" cy="548.63" r="5" fill="#4b4b4b"/>
<circle cx="261.77" cy="600.15" r="5" fill="#4b4b4b"/>
<circle cx="263.23" cy="580.82" r="5" fill="#4b4b4b"/>
<circle cx="267.74" cy="567.65" r="5" fill="#4b4b4b"/>
<circle cx="263.04" cy="600.44" r="5" fill="#4b4b4b"/>
<circle cx="263.72" cy="558.56" r="5" fill="#4b4b4b"/>
<circle cx="264.35" cy="576.41" r="5" fill="#4b4b4b"/>
<circle cx="264.38" cy="577.54" r="5" fill="#4b4b4b"/>
<circle cx="264.29" cy="534.51" r="5" fill="#4b4b4b"/>
<circle cx="267.62" cy="492.1" r="4.8" fill="#4b4b4b"/>
<circle cx="263.04" cy="510.8" r="4.8" fill="#4b4b4b"/>
<line x1="308.4" y1="544" x2="308.4" y2="505.1" stroke="#474747" stroke-width="2.2" stroke-linecap="butt"/>
<line x1="308.4" y1="570.4" x2="308.4" y2="602.3" stroke="#474747" stroke-width="2.2" stroke-linecap="butt"/>
<line x1="299.5" y1="505.1" x2="317.3" y2="505.1" stroke="#474747" stroke-width="2.2" stroke-linecap="butt"/>
<line x1="299.5" y1="602.3" x2="317.3" y2="602.3" stroke="#474747" stroke-width="2.2" stroke-linecap="butt"/>
<rect x="291.6" y="544" width="33.6" height="26.4" fill="#dcc124" stroke="#474747" stroke-width="2.2"/>
<line x1="291.6" y1="559.8" x2="325.2" y2="559.8" stroke="#474747" stroke-width="2.2" stroke-linecap="butt"/>
<path d="M308.4,487.6 L313.6,496.2 L308.4,504.8 L303.2,496.2 Z" fill="#4b4b4b"/>
<path d="M308.4,605.8 L313.6,614.4 L308.4,623 L303.2,614.4 Z" fill="#4b4b4b"/>
<circle cx="304.06" cy="505.1" r="5" fill="#4b4b4b"/>
<circle cx="306.5" cy="602.3" r="5" fill="#4b4b4b"/>
<circle cx="312.59" cy="546.72" r="5" fill="#4b4b4b"/>
<circle cx="310.88" cy="548.09" r="5" fill="#4b4b4b"/>
<circle cx="307.59" cy="554.6" r="5" fill="#4b4b4b"/>
<circle cx="312.39" cy="595.93" r="5" fill="#4b4b4b"/>
<circle cx="309.48" cy="513.73" r="5" fill="#4b4b4b"/>
<circle cx="311.26" cy="551.3" r="5" fill="#4b4b4b"/>
<circle cx="306.54" cy="546.8" r="5" fill="#4b4b4b"/>
<circle cx="305.62" cy="568.49" r="5" fill="#4b4b4b"/>
<circle cx="307.9" cy="596.13" r="5" fill="#4b4b4b"/>
<circle cx="305.13" cy="576.57" r="5" fill="#4b4b4b"/>
<circle cx="307.33" cy="560.55" r="5" fill="#4b4b4b"/>
<circle cx="312.56" cy="538.35" r="5" fill="#4b4b4b"/>
<circle cx="306.88" cy="573.17" r="5" fill="#4b4b4b"/>
<circle cx="303.98" cy="531.23" r="5" fill="#4b4b4b"/>
<circle cx="304.3" cy="548.69" r="5" fill="#4b4b4b"/>
<circle cx="305.43" cy="546.36" r="5" fill="#4b4b4b"/>
<circle cx="310.95" cy="598.01" r="5" fill="#4b4b4b"/>
<circle cx="307.16" cy="551.93" r="5" fill="#4b4b4b"/>
<circle cx="306.51" cy="588.66" r="5" fill="#4b4b4b"/>
<circle cx="304.77" cy="597.45" r="5" fill="#4b4b4b"/>
<circle cx="312.74" cy="554.93" r="5" fill="#4b4b4b"/>
<circle cx="307.72" cy="521.87" r="5" fill="#4b4b4b"/>
<circle cx="305.77" cy="552.05" r="5" fill="#4b4b4b"/>
<circle cx="304.43" cy="571.78" r="5" fill="#4b4b4b"/>
<circle cx="304.4" cy="560.54" r="5" fill="#4b4b4b"/>
<circle cx="305.42" cy="558.11" r="5" fill="#4b4b4b"/>
<circle cx="309.99" cy="553.05" r="5" fill="#4b4b4b"/>
<circle cx="305.25" cy="576.64" r="5" fill="#4b4b4b"/>
<circle cx="304.27" cy="549.35" r="5" fill="#4b4b4b"/>
<circle cx="308.32" cy="515.85" r="5" fill="#4b4b4b"/>
<circle cx="306.14" cy="563.72" r="5" fill="#4b4b4b"/>
<circle cx="312.88" cy="558.75" r="5" fill="#4b4b4b"/>
<circle cx="305" cy="573.62" r="5" fill="#4b4b4b"/>
<circle cx="308.66" cy="550.04" r="5" fill="#4b4b4b"/>
<circle cx="310.86" cy="529.04" r="5" fill="#4b4b4b"/>
<circle cx="307.58" cy="552.74" r="5" fill="#4b4b4b"/>
<circle cx="312.79" cy="556.12" r="5" fill="#4b4b4b"/>
<circle cx="308.2" cy="562.41" r="5" fill="#4b4b4b"/>
<circle cx="306.08" cy="600.86" r="5" fill="#4b4b4b"/>
<circle cx="307.6" cy="542.44" r="5" fill="#4b4b4b"/>
<circle cx="305.62" cy="496.2" r="4.8" fill="#4b4b4b"/>
<circle cx="307.93" cy="614.4" r="4.8" fill="#4b4b4b"/>
<text x="0" y="0" transform="translate(38,490.2) rotate(-90)" font-size="21.2" text-anchor="middle" font-weight="normal" fill="#000">Total filament</text>
<text x="0" y="0" transform="translate(61.9,489.4) rotate(-90)" font-size="21.2" text-anchor="middle" font-weight="normal" fill="#000">length (μm)</text>
<line x1="488.4" y1="339.8" x2="488.4" y2="627.15" stroke="#000" stroke-width="2.3" stroke-linecap="butt"/>
<line x1="487.25" y1="626" x2="660.4" y2="626" stroke="#000" stroke-width="2.3" stroke-linecap="butt"/>
<line x1="476.2" y1="380.6" x2="488.4" y2="380.6" stroke="#000" stroke-width="2.3" stroke-linecap="butt"/>
<text x="471.6" y="387.3" font-size="21.2" text-anchor="end" font-weight="normal" fill="#000">60</text>
<line x1="476.2" y1="486.8" x2="488.4" y2="486.8" stroke="#000" stroke-width="2.3" stroke-linecap="butt"/>
<text x="471.6" y="493.5" font-size="21.2" text-anchor="end" font-weight="normal" fill="#000">40</text>
<line x1="476.2" y1="593.5" x2="488.4" y2="593.5" stroke="#000" stroke-width="2.3" stroke-linecap="butt"/>
<text x="471.6" y="600.2" font-size="21.2" text-anchor="end" font-weight="normal" fill="#000">20</text>
<line x1="509.1" y1="626" x2="509.1" y2="638.3" stroke="#000" stroke-width="2.3" stroke-linecap="butt"/>
<text x="509.1" y="660.4" font-size="21.2" text-anchor="middle" font-weight="normal" fill="#000">1</text>
<line x1="552.9" y1="626" x2="552.9" y2="638.3" stroke="#000" stroke-width="2.3" stroke-linecap="butt"/>
<text x="552.9" y="660.4" font-size="21.2" text-anchor="middle" font-weight="normal" fill="#000">2</text>
<line x1="595.7" y1="626" x2="595.7" y2="638.3" stroke="#000" stroke-width="2.3" stroke-linecap="butt"/>
<text x="595.7" y="660.4" font-size="21.2" text-anchor="middle" font-weight="normal" fill="#000">3</text>
<line x1="638.9" y1="626" x2="638.9" y2="638.3" stroke="#000" stroke-width="2.3" stroke-linecap="butt"/>
<text x="638.9" y="660.4" font-size="21.2" text-anchor="middle" font-weight="normal" fill="#000">4</text>
<line x1="509.7" y1="484.7" x2="509.7" y2="399.3" stroke="#474747" stroke-width="2.2" stroke-linecap="butt"/>
<line x1="509.7" y1="543.6" x2="509.7" y2="588.8" stroke="#474747" stroke-width="2.2" stroke-linecap="butt"/>
<line x1="500.95" y1="399.3" x2="518.45" y2="399.3" stroke="#474747" stroke-width="2.2" stroke-linecap="butt"/>
<line x1="500.95" y1="588.8" x2="518.45" y2="588.8" stroke="#474747" stroke-width="2.2" stroke-linecap="butt"/>
<rect x="493.2" y="484.7" width="33" height="58.9" fill="#2ea098" stroke="#474747" stroke-width="2.2"/>
<line x1="493.2" y1="513" x2="526.2" y2="513" stroke="#474747" stroke-width="2.2" stroke-linecap="butt"/>
<circle cx="507.04" cy="399.3" r="5" fill="#4b4b4b"/>
<circle cx="513.67" cy="588.8" r="5" fill="#4b4b4b"/>
<circle cx="511.42" cy="462.65" r="5" fill="#4b4b4b"/>
<circle cx="513.9" cy="586.2" r="5" fill="#4b4b4b"/>
<circle cx="513.24" cy="478.07" r="5" fill="#4b4b4b"/>
<circle cx="507.89" cy="512.13" r="5" fill="#4b4b4b"/>
<circle cx="508.45" cy="572.93" r="5" fill="#4b4b4b"/>
<circle cx="506.69" cy="548.72" r="5" fill="#4b4b4b"/>
<circle cx="506.51" cy="499.22" r="5" fill="#4b4b4b"/>
<circle cx="505.79" cy="518.51" r="5" fill="#4b4b4b"/>
<circle cx="507.91" cy="497.47" r="5" fill="#4b4b4b"/>
<circle cx="510.63" cy="538.67" r="5" fill="#4b4b4b"/>
<circle cx="505.23" cy="412.93" r="5" fill="#4b4b4b"/>
<circle cx="511.3" cy="549.87" r="5" fill="#4b4b4b"/>
<circle cx="508.24" cy="410.12" r="5" fill="#4b4b4b"/>
<circle cx="507.99" cy="536.03" r="5" fill="#4b4b4b"/>
<circle cx="512.57" cy="497.39" r="5" fill="#4b4b4b"/>
<circle cx="509.53" cy="583.03" r="5" fill="#4b4b4b"/>
<circle cx="508.04" cy="541.33" r="5" fill="#4b4b4b"/>
<circle cx="509.53" cy="524.62" r="5" fill="#4b4b4b"/>
<line x1="553.5" y1="438.9" x2="553.5" y2="391.4" stroke="#474747" stroke-width="2.2" stroke-linecap="butt"/>
<line x1="553.5" y1="481.8" x2="553.5" y2="528.7" stroke="#474747" stroke-width="2.2" stroke-linecap="butt"/>
<line x1="544.75" y1="391.4" x2="562.25" y2="391.4" stroke="#474747" stroke-width="2.2" stroke-linecap="butt"/>
<line x1="544.75" y1="528.7" x2="562.25" y2="528.7" stroke="#474747" stroke-width="2.2" stroke-linecap="butt"/>
<rect x="537" y="438.9" width="33" height="42.9" fill="#dc5426" stroke="#474747" stroke-width="2.2"/>
<line x1="537" y1="460.5" x2="570" y2="460.5" stroke="#474747" stroke-width="2.2" stroke-linecap="butt"/>
<path d="M553.5,344.3 L558.7,352.9 L553.5,361.5 L548.3,352.9 Z" fill="#4b4b4b"/>
<circle cx="553.35" cy="391.4" r="5" fill="#4b4b4b"/>
<circle cx="550.24" cy="528.7" r="5" fill="#4b4b4b"/>
<circle cx="550.89" cy="520.35" r="5" fill="#4b4b4b"/>
<circle cx="556.79" cy="450.12" r="5" fill="#4b4b4b"/>
<circle cx="555.28" cy="467.33" r="5" fill="#4b4b4b"/>
<circle cx="549.11" cy="471.49" r="5" fill="#4b4b4b"/>
<circle cx="556" cy="471.94" r="5" fill="#4b4b4b"/>
<circle cx="549.15" cy="473.3" r="5" fill="#4b4b4b"/>
<circle cx="552" cy="411.07" r="5" fill="#4b4b4b"/>
<circle cx="557.14" cy="468.16" r="5" fill="#4b4b4b"/>
<circle cx="554.58" cy="462.65" r="5" fill="#4b4b4b"/>
<circle cx="551.76" cy="494.25" r="5" fill="#4b4b4b"/>
<circle cx="552.4" cy="513.96" r="5" fill="#4b4b4b"/>
<circle cx="552.5" cy="497.54" r="5" fill="#4b4b4b"/>
<circle cx="550.14" cy="473.23" r="5" fill="#4b4b4b"/>
<circle cx="558" cy="502.68" r="5" fill="#4b4b4b"/>
<circle cx="549.48" cy="447.36" r="5" fill="#4b4b4b"/>
<circle cx="552.81" cy="405.23" r="5" fill="#4b4b4b"/>
<circle cx="555.72" cy="509.4" r="5" fill="#4b4b4b"/>
<circle cx="552.58" cy="467.02" r="5" fill="#4b4b4b"/>
<circle cx="557.83" cy="478.91" r="5" fill="#4b4b4b"/>
<circle cx="551.21" cy="505.94" r="5" fill="#4b4b4b"/>
<circle cx="557.81" cy="424.55" r="5" fill="#4b4b4b"/>
<circle cx="557.03" cy="527.59" r="5" fill="#4b4b4b"/>
<circle cx="555.03" cy="454.4" r="5" fill="#4b4b4b"/>
<circle cx="557.01" cy="405.86" r="5" fill="#4b4b4b"/>
<circle cx="553.02" cy="395.66" r="5" fill="#4b4b4b"/>
<circle cx="556.48" cy="506.43" r="5" fill="#4b4b4b"/>
<circle cx="556.16" cy="467.33" r="5" fill="#4b4b4b"/>
<circle cx="553.65" cy="447.32" r="5" fill="#4b4b4b"/>
<circle cx="553.33" cy="352.9" r="4.8" fill="#4b4b4b"/>
<line x1="596.45" y1="538.4" x2="596.45" y2="487.9" stroke="#474747" stroke-width="2.2" stroke-linecap="butt"/>
<line x1="596.45" y1="573.6" x2="596.45" y2="612.4" stroke="#474747" stroke-width="2.2" stroke-linecap="butt"/>
<line x1="587.62" y1="487.9" x2="605.28" y2="487.9" stroke="#474747" stroke-width="2.2" stroke-linecap="butt"/>
<line x1="587.62" y1="612.4" x2="605.28" y2="612.4" stroke="#474747" stroke-width="2.2" stroke-linecap="butt"/>
<rect x="579.8" y="538.4" width="33.3" height="35.2" fill="#4a8bc8" stroke="#474747" stroke-width="2.2"/>
<line x1="579.8" y1="554.1" x2="613.1" y2="554.1" stroke="#474747" stroke-width="2.2" stroke-linecap="butt"/>
<circle cx="595.48" cy="487.9" r="5" fill="#4b4b4b"/>
<circle cx="595.54" cy="612.4" r="5" fill="#4b4b4b"/>
<circle cx="592.88" cy="543.71" r="5" fill="#4b4b4b"/>
<circle cx="597.66" cy="491.56" r="5" fill="#4b4b4b"/>
<circle cx="592.51" cy="551.27" r="5" fill="#4b4b4b"/>
<circle cx="592.56" cy="556.26" r="5" fill="#4b4b4b"/>
<circle cx="593.83" cy="553.66" r="5" fill="#4b4b4b"/>
<circle cx="593.41" cy="541.59" r="5" fill="#4b4b4b"/>
<circle cx="595.01" cy="567.51" r="5" fill="#4b4b4b"/>
<circle cx="592.42" cy="546.26" r="5" fill="#4b4b4b"/>
<circle cx="591.95" cy="535.76" r="5" fill="#4b4b4b"/>
<circle cx="593.31" cy="507.93" r="5" fill="#4b4b4b"/>
<circle cx="592.86" cy="575.41" r="5" fill="#4b4b4b"/>
<circle cx="595.22" cy="584.84" r="5" fill="#4b4b4b"/>
<circle cx="592.18" cy="542.55" r="5" fill="#4b4b4b"/>
<circle cx="599.82" cy="567.13" r="5" fill="#4b4b4b"/>
<circle cx="597.48" cy="558.87" r="5" fill="#4b4b4b"/>
<circle cx="593.29" cy="506.71" r="5" fill="#4b4b4b"/>
<circle cx="594.22" cy="540.61" r="5" fill="#4b4b4b"/>
<circle cx="595.08" cy="545.65" r="5" fill="#4b4b4b"/>
<circle cx="595.23" cy="509.49" r="5" fill="#4b4b4b"/>
<circle cx="593.06" cy="559.01" r="5" fill="#4b4b4b"/>
<circle cx="599.59" cy="548.95" r="5" fill="#4b4b4b"/>
<circle cx="600.89" cy="600.72" r="5" fill="#4b4b4b"/>
<circle cx="596.14" cy="558.62" r="5" fill="#4b4b4b"/>
<circle cx="596.3" cy="569.2" r="5" fill="#4b4b4b"/>
<circle cx="592.72" cy="502.44" r="5" fill="#4b4b4b"/>
<circle cx="592.87" cy="578.18" r="5" fill="#4b4b4b"/>
<circle cx="595.03" cy="565.05" r="5" fill="#4b4b4b"/>
<circle cx="594.33" cy="555.61" r="5" fill="#4b4b4b"/>
<circle cx="599.41" cy="561.92" r="5" fill="#4b4b4b"/>
<circle cx="593.4" cy="516.84" r="5" fill="#4b4b4b"/>
<circle cx="592.16" cy="585.77" r="5" fill="#4b4b4b"/>
<circle cx="600.51" cy="517.92" r="5" fill="#4b4b4b"/>
<circle cx="596.7" cy="510.94" r="5" fill="#4b4b4b"/>
<circle cx="593.27" cy="610.25" r="5" fill="#4b4b4b"/>
<circle cx="596.84" cy="561.78" r="5" fill="#4b4b4b"/>
<circle cx="592.19" cy="563.09" r="5" fill="#4b4b4b"/>
<circle cx="596.7" cy="538.05" r="5" fill="#4b4b4b"/>
<circle cx="600.76" cy="584.64" r="5" fill="#4b4b4b"/>
<circle cx="599.72" cy="561.94" r="5" fill="#4b4b4b"/>
<circle cx="598.22" cy="554.65" r="5" fill="#4b4b4b"/>
<circle cx="594.3" cy="542.52" r="5" fill="#4b4b4b"/>
<circle cx="595.25" cy="565.44" r="5" fill="#4b4b4b"/>
<circle cx="593.45" cy="547.12" r="5" fill="#4b4b4b"/>
<circle cx="598.9" cy="569.07" r="5" fill="#4b4b4b"/>
<circle cx="596.74" cy="554.21" r="5" fill="#4b4b4b"/>
<circle cx="598.96" cy="569.5" r="5" fill="#4b4b4b"/>
<circle cx="594.92" cy="607.12" r="5" fill="#4b4b4b"/>
<circle cx="593.96" cy="553.02" r="5" fill="#4b4b4b"/>
<circle cx="599.25" cy="569.52" r="5" fill="#4b4b4b"/>
<circle cx="600.81" cy="579.46" r="5" fill="#4b4b4b"/>
<circle cx="599.62" cy="546.56" r="5" fill="#4b4b4b"/>
<circle cx="599.2" cy="555.47" r="5" fill="#4b4b4b"/>
<circle cx="599.31" cy="501.17" r="5" fill="#4b4b4b"/>
<circle cx="598.61" cy="553.15" r="5" fill="#4b4b4b"/>
<circle cx="593.99" cy="558.34" r="5" fill="#4b4b4b"/>
<circle cx="596.61" cy="600.39" r="5" fill="#4b4b4b"/>
<circle cx="595.15" cy="560.14" r="5" fill="#4b4b4b"/>
<circle cx="592.21" cy="490.63" r="5" fill="#4b4b4b"/>
<circle cx="592.2" cy="603.86" r="5" fill="#4b4b4b"/>
<circle cx="594.46" cy="604.56" r="5" fill="#4b4b4b"/>
<line x1="639.4" y1="505.1" x2="639.4" y2="468.7" stroke="#474747" stroke-width="2.2" stroke-linecap="butt"/>
<line x1="639.4" y1="543" x2="639.4" y2="589.7" stroke="#474747" stroke-width="2.2" stroke-linecap="butt"/>
<line x1="630.65" y1="468.7" x2="648.15" y2="468.7" stroke="#474747" stroke-width="2.2" stroke-linecap="butt"/>
<line x1="630.65" y1="589.7" x2="648.15" y2="589.7" stroke="#474747" stroke-width="2.2" stroke-linecap="butt"/>
<rect x="622.9" y="505.1" width="33" height="37.9" fill="#dcc124" stroke="#474747" stroke-width="2.2"/>
<line x1="622.9" y1="524.9" x2="655.9" y2="524.9" stroke="#474747" stroke-width="2.2" stroke-linecap="butt"/>
<path d="M639.4,440.5 L644.6,449.1 L639.4,457.7 L634.2,449.1 Z" fill="#4b4b4b"/>
<circle cx="641.78" cy="468.7" r="5" fill="#4b4b4b"/>
<circle cx="637.98" cy="589.7" r="5" fill="#4b4b4b"/>
<circle cx="636.43" cy="541.57" r="5" fill="#4b4b4b"/>
<circle cx="638.82" cy="531.81" r="5" fill="#4b4b4b"/>
<circle cx="636.99" cy="514.48" r="5" fill="#4b4b4b"/>
<circle cx="638.59" cy="552.78" r="5" fill="#4b4b4b"/>
<circle cx="638.91" cy="485.41" r="5" fill="#4b4b4b"/>
<circle cx="638.66" cy="523.86" r="5" fill="#4b4b4b"/>
<circle cx="640.2" cy="536.58" r="5" fill="#4b4b4b"/>
<circle cx="637.5" cy="513.98" r="5" fill="#4b4b4b"/>
<circle cx="635.76" cy="515.21" r="5" fill="#4b4b4b"/>
<circle cx="635.67" cy="539.29" r="5" fill="#4b4b4b"/>
<circle cx="635.86" cy="509.41" r="5" fill="#4b4b4b"/>
<circle cx="639.59" cy="542.68" r="5" fill="#4b4b4b"/>
<circle cx="638.14" cy="528.6" r="5" fill="#4b4b4b"/>
<circle cx="642.17" cy="530.15" r="5" fill="#4b4b4b"/>
<circle cx="639.44" cy="531.3" r="5" fill="#4b4b4b"/>
<circle cx="641.27" cy="529.72" r="5" fill="#4b4b4b"/>
<circle cx="643.72" cy="570.16" r="5" fill="#4b4b4b"/>
<circle cx="635.47" cy="507.54" r="5" fill="#4b4b4b"/>
<circle cx="635.05" cy="565.82" r="5" fill="#4b4b4b"/>
<circle cx="636.16" cy="540.96" r="5" fill="#4b4b4b"/>
<circle cx="638.38" cy="495.23" r="5" fill="#4b4b4b"/>
<circle cx="640.06" cy="556.34" r="5" fill="#4b4b4b"/>
<circle cx="641.59" cy="538.38" r="5" fill="#4b4b4b"/>
<circle cx="638.06" cy="534.07" r="5" fill="#4b4b4b"/>
<circle cx="643.58" cy="531.26" r="5" fill="#4b4b4b"/>
<circle cx="634.93" cy="503.28" r="5" fill="#4b4b4b"/>
<circle cx="642.42" cy="566.52" r="5" fill="#4b4b4b"/>
<circle cx="636.79" cy="510.79" r="5" fill="#4b4b4b"/>
<circle cx="642.78" cy="524.42" r="5" fill="#4b4b4b"/>
<circle cx="635.2" cy="539.33" r="5" fill="#4b4b4b"/>
<circle cx="643.59" cy="531.68" r="5" fill="#4b4b4b"/>
<circle cx="641.73" cy="514.34" r="5" fill="#4b4b4b"/>
<circle cx="643.81" cy="518.11" r="5" fill="#4b4b4b"/>
<circle cx="640.12" cy="521.15" r="5" fill="#4b4b4b"/>
<circle cx="636.5" cy="536.72" r="5" fill="#4b4b4b"/>
<circle cx="643.63" cy="551.18" r="5" fill="#4b4b4b"/>
<circle cx="638.87" cy="511.4" r="5" fill="#4b4b4b"/>
<circle cx="635.65" cy="504.18" r="5" fill="#4b4b4b"/>
<circle cx="640.35" cy="534.15" r="5" fill="#4b4b4b"/>
<circle cx="639.37" cy="505.6" r="5" fill="#4b4b4b"/>
<circle cx="639.24" cy="449.1" r="4.8" fill="#4b4b4b"/>
<text x="0" y="0" transform="translate(424.1,491) rotate(-90)" font-size="21.2" text-anchor="middle" font-weight="normal" fill="#000">A–P span (μm)</text>
<line x1="852.1" y1="339.8" x2="852.1" y2="626.55" stroke="#000" stroke-width="2.3" stroke-linecap="butt"/>
<line x1="850.95" y1="625.4" x2="1024.7" y2="625.4" stroke="#000" stroke-width="2.3" stroke-linecap="butt"/>
<line x1="841" y1="373" x2="852.1" y2="373" stroke="#000" stroke-width="2.3" stroke-linecap="butt"/>
<text x="836.4" y="379.7" font-size="21.2" text-anchor="end" font-weight="normal" fill="#000">0.8</text>
<line x1="841" y1="480.3" x2="852.1" y2="480.3" stroke="#000" stroke-width="2.3" stroke-linecap="butt"/>
<text x="836.4" y="487" font-size="21.2" text-anchor="end" font-weight="normal" fill="#000">0.6</text>
<line x1="841" y1="588.8" x2="852.1" y2="588.8" stroke="#000" stroke-width="2.3" stroke-linecap="butt"/>
<text x="836.4" y="595.5" font-size="21.2" text-anchor="end" font-weight="normal" fill="#000">0.4</text>
<line x1="873" y1="625.4" x2="873" y2="637.7" stroke="#000" stroke-width="2.3" stroke-linecap="butt"/>
<text x="873" y="660.4" font-size="21.2" text-anchor="middle" font-weight="normal" fill="#000">1</text>
<line x1="916.7" y1="625.4" x2="916.7" y2="637.7" stroke="#000" stroke-width="2.3" stroke-linecap="butt"/>
<text x="916.7" y="660.4" font-size="21.2" text-anchor="middle" font-weight="normal" fill="#000">2</text>
<line x1="959.9" y1="625.4" x2="959.9" y2="637.7" stroke="#000" stroke-width="2.3" stroke-linecap="butt"/>
<text x="959.9" y="660.4" font-size="21.2" text-anchor="middle" font-weight="normal" fill="#000">3</text>
<line x1="1003.3" y1="625.4" x2="1003.3" y2="637.7" stroke="#000" stroke-width="2.3" stroke-linecap="butt"/>
<text x="1003.3" y="660.4" font-size="21.2" text-anchor="middle" font-weight="normal" fill="#000">4</text>
<line x1="916.9" y1="459.3" x2="916.9" y2="417.7" stroke="#474747" stroke-width="2.2" stroke-linecap="butt"/>
<line x1="916.9" y1="491.1" x2="916.9" y2="511.5" stroke="#474747" stroke-width="2.2" stroke-linecap="butt"/>
<line x1="907.8" y1="417.7" x2="926" y2="417.7" stroke="#474747" stroke-width="2.2" stroke-linecap="butt"/>
<line x1="907.8" y1="511.5" x2="926" y2="511.5" stroke="#474747" stroke-width="2.2" stroke-linecap="butt"/>
<rect x="899.7" y="459.3" width="34.4" height="31.8" fill="#dc5426" stroke="#474747" stroke-width="2.2"/>
<line x1="899.7" y1="480.3" x2="934.1" y2="480.3" stroke="#474747" stroke-width="2.2" stroke-linecap="butt"/>
<path d="M916.9,544.6 L922.1,553.2 L916.9,561.8 L911.7,553.2 Z" fill="#4b4b4b"/>
<circle cx="916.18" cy="417.7" r="5" fill="#4b4b4b"/>
<circle cx="915.98" cy="511.5" r="5" fill="#4b4b4b"/>
<circle cx="918.15" cy="471.17" r="5" fill="#4b4b4b"/>
<circle cx="913.24" cy="486.86" r="5" fill="#4b4b4b"/>
<circle cx="917.62" cy="475.29" r="5" fill="#4b4b4b"/>
<circle cx="913.95" cy="492.75" r="5" fill="#4b4b4b"/>
<circle cx="917.88" cy="443.35" r="5" fill="#4b4b4b"/>
<circle cx="921.02" cy="471.35" r="5" fill="#4b4b4b"/>
<circle cx="912.89" cy="436.5" r="5" fill="#4b4b4b"/>
<circle cx="917.4" cy="424.24" r="5" fill="#4b4b4b"/>
<circle cx="917.86" cy="462.83" r="5" fill="#4b4b4b"/>
<circle cx="913.74" cy="488.68" r="5" fill="#4b4b4b"/>
<circle cx="914.81" cy="449.91" r="5" fill="#4b4b4b"/>
<circle cx="921.35" cy="483.03" r="5" fill="#4b4b4b"/>
<circle cx="921.38" cy="468.56" r="5" fill="#4b4b4b"/>
<circle cx="913.49" cy="447.89" r="5" fill="#4b4b4b"/>
<circle cx="918.75" cy="462.09" r="5" fill="#4b4b4b"/>
<circle cx="920.96" cy="465.97" r="5" fill="#4b4b4b"/>
<circle cx="914.53" cy="485.04" r="5" fill="#4b4b4b"/>
<circle cx="917.9" cy="487.49" r="5" fill="#4b4b4b"/>
<circle cx="912.79" cy="492.22" r="5" fill="#4b4b4b"/>
<circle cx="915.69" cy="474.94" r="5" fill="#4b4b4b"/>
<circle cx="918.47" cy="472.81" r="5" fill="#4b4b4b"/>
<circle cx="917.71" cy="493.39" r="5" fill="#4b4b4b"/>
<circle cx="919.37" cy="422.74" r="5" fill="#4b4b4b"/>
<circle cx="913.18" cy="454.94" r="5" fill="#4b4b4b"/>
<circle cx="915.52" cy="459.56" r="5" fill="#4b4b4b"/>
<circle cx="920.18" cy="476.46" r="5" fill="#4b4b4b"/>
<circle cx="917.66" cy="462" r="5" fill="#4b4b4b"/>
<circle cx="916.46" cy="488.59" r="5" fill="#4b4b4b"/>
<circle cx="916.31" cy="553.2" r="4.8" fill="#4b4b4b"/>
<line x1="960.2" y1="437.2" x2="960.2" y2="399.3" stroke="#474747" stroke-width="2.2" stroke-linecap="butt"/>
<line x1="960.2" y1="488.2" x2="960.2" y2="534.3" stroke="#474747" stroke-width="2.2" stroke-linecap="butt"/>
<line x1="951.3" y1="399.3" x2="969.1" y2="399.3" stroke="#474747" stroke-width="2.2" stroke-linecap="butt"/>
<line x1="951.3" y1="534.3" x2="969.1" y2="534.3" stroke="#474747" stroke-width="2.2" stroke-linecap="butt"/>
<rect x="943.4" y="437.2" width="33.6" height="51" fill="#4a8bc8" stroke="#474747" stroke-width="2.2"/>
<line x1="943.4" y1="459.9" x2="977" y2="459.9" stroke="#474747" stroke-width="2.2" stroke-linecap="butt"/>
<path d="M960.2,345.5 L965.4,354.1 L960.2,362.7 L955,354.1 Z" fill="#4b4b4b"/>
<circle cx="957.08" cy="399.3" r="5" fill="#4b4b4b"/>
<circle cx="957.84" cy="534.3" r="5" fill="#4b4b4b"/>
<circle cx="961.27" cy="415.55" r="5" fill="#4b4b4b"/>
<circle cx="961.88" cy="407.11" r="5" fill="#4b4b4b"/>
<circle cx="961.48" cy="526.17" r="5" fill="#4b4b4b"/>
<circle cx="961" cy="405.37" r="5" fill="#4b4b4b"/>
<circle cx="963.16" cy="453.92" r="5" fill="#4b4b4b"/>
<circle cx="960.01" cy="485.79" r="5" fill="#4b4b4b"/>
<circle cx="962.97" cy="490.25" r="5" fill="#4b4b4b"/>
<circle cx="964.36" cy="516.01" r="5" fill="#4b4b4b"/>
<circle cx="959.62" cy="451.66" r="5" fill="#4b4b4b"/>
<circle cx="963.43" cy="416.61" r="5" fill="#4b4b4b"/>
<circle cx="962.16" cy="424.38" r="5" fill="#4b4b4b"/>
<circle cx="963.7" cy="476.36" r="5" fill="#4b4b4b"/>
<circle cx="956.12" cy="532.89" r="5" fill="#4b4b4b"/>
<circle cx="963.92" cy="400.98" r="5" fill="#4b4b4b"/>
<circle cx="962.6" cy="444.03" r="5" fill="#4b4b4b"/>
<circle cx="964.36" cy="502.16" r="5" fill="#4b4b4b"/>
<circle cx="964.53" cy="483.01" r="5" fill="#4b4b4b"/>
<circle cx="958.27" cy="465.2" r="5" fill="#4b4b4b"/>
<circle cx="961.73" cy="440.51" r="5" fill="#4b4b4b"/>
<circle cx="956.97" cy="431.29" r="5" fill="#4b4b4b"/>
<circle cx="961.06" cy="448.64" r="5" fill="#4b4b4b"/>
<circle cx="963.98" cy="439.08" r="5" fill="#4b4b4b"/>
<circle cx="957.43" cy="478.92" r="5" fill="#4b4b4b"/>
<circle cx="958.85" cy="419.52" r="5" fill="#4b4b4b"/>
<circle cx="956.42" cy="495.1" r="5" fill="#4b4b4b"/>
<circle cx="957.45" cy="413.48" r="5" fill="#4b4b4b"/>
<circle cx="957.57" cy="403.58" r="5" fill="#4b4b4b"/>
<circle cx="956.56" cy="402.96" r="5" fill="#4b4b4b"/>
<circle cx="964.7" cy="478.38" r="5" fill="#4b4b4b"/>
<circle cx="963.69" cy="508.17" r="5" fill="#4b4b4b"/>
<circle cx="959.87" cy="449.72" r="5" fill="#4b4b4b"/>
<circle cx="962.39" cy="468.68" r="5" fill="#4b4b4b"/>
<circle cx="961.96" cy="443.29" r="5" fill="#4b4b4b"/>
<circle cx="960.4" cy="445.61" r="5" fill="#4b4b4b"/>
<circle cx="959.51" cy="430.42" r="5" fill="#4b4b4b"/>
<circle cx="961.68" cy="417.5" r="5" fill="#4b4b4b"/>
<circle cx="960.7" cy="459.37" r="5" fill="#4b4b4b"/>
<circle cx="958.09" cy="473.54" r="5" fill="#4b4b4b"/>
<circle cx="958.98" cy="453.49" r="5" fill="#4b4b4b"/>
<circle cx="961.35" cy="460.05" r="5" fill="#4b4b4b"/>
<circle cx="961.34" cy="414.1" r="5" fill="#4b4b4b"/>
<circle cx="957.59" cy="519.24" r="5" fill="#4b4b4b"/>
<circle cx="961.19" cy="463.99" r="5" fill="#4b4b4b"/>
<circle cx="963.57" cy="512.18" r="5" fill="#4b4b4b"/>
<circle cx="963.54" cy="401.68" r="5" fill="#4b4b4b"/>
<circle cx="961.57" cy="460.73" r="5" fill="#4b4b4b"/>
<circle cx="956.33" cy="458.64" r="5" fill="#4b4b4b"/>
<circle cx="959.51" cy="419.72" r="5" fill="#4b4b4b"/>
<circle cx="956.5" cy="445.66" r="5" fill="#4b4b4b"/>
<circle cx="956.2" cy="486.6" r="5" fill="#4b4b4b"/>
<circle cx="957.99" cy="439" r="5" fill="#4b4b4b"/>
<circle cx="959.81" cy="464.51" r="5" fill="#4b4b4b"/>
<circle cx="962.53" cy="441.93" r="5" fill="#4b4b4b"/>
<circle cx="961.36" cy="460.36" r="5" fill="#4b4b4b"/>
<circle cx="958.24" cy="510.56" r="5" fill="#4b4b4b"/>
<circle cx="961.96" cy="459.46" r="5" fill="#4b4b4b"/>
<circle cx="960.26" cy="460" r="5" fill="#4b4b4b"/>
<circle cx="960.27" cy="433.33" r="5" fill="#4b4b4b"/>
<circle cx="958.07" cy="415.34" r="5" fill="#4b4b4b"/>
<circle cx="959.67" cy="433.77" r="5" fill="#4b4b4b"/>
<circle cx="959.25" cy="354.1" r="4.8" fill="#4b4b4b"/>
<line x1="1003.7" y1="450.3" x2="1003.7" y2="415.6" stroke="#474747" stroke-width="2.2" stroke-linecap="butt"/>
<line x1="1003.7" y1="500.1" x2="1003.7" y2="539.2" stroke="#474747" stroke-width="2.2" stroke-linecap="butt"/>
<line x1="994.75" y1="415.6" x2="1012.65" y2="415.6" stroke="#474747" stroke-width="2.2" stroke-linecap="butt"/>
<line x1="994.75" y1="539.2" x2="1012.65" y2="539.2" stroke="#474747" stroke-width="2.2" stroke-linecap="butt"/>
<rect x="986.8" y="450.3" width="33.8" height="49.8" fill="#dcc124" stroke="#474747" stroke-width="2.2"/>
<line x1="986.8" y1="472.1" x2="1020.6" y2="472.1" stroke="#474747" stroke-width="2.2" stroke-linecap="butt"/>
<path d="M1003.7,344.3 L1008.9,352.9 L1003.7,361.5 L998.5,352.9 Z" fill="#4b4b4b"/>
<path d="M1003.7,604.3 L1008.9,612.9 L1003.7,621.5 L998.5,612.9 Z" fill="#4b4b4b"/>
<circle cx="1007.94" cy="415.6" r="5" fill="#4b4b4b"/>
<circle cx="1006.43" cy="539.2" r="5" fill="#4b4b4b"/>
<circle cx="1001.94" cy="478.18" r="5" fill="#4b4b4b"/>
<circle cx="1007.16" cy="518.31" r="5" fill="#4b4b4b"/>
<circle cx="1001.1" cy="479.55" r="5" fill="#4b4b4b"/>
<circle cx="1002.75" cy="475.79" r="5" fill="#4b4b4b"/>
<circle cx="1006.89" cy="443.12" r="5" fill="#4b4b4b"/>
<circle cx="1004.98" cy="465.41" r="5" fill="#4b4b4b"/>
<circle cx="1000.1" cy="490.62" r="5" fill="#4b4b4b"/>
<circle cx="1008.1" cy="417.05" r="5" fill="#4b4b4b"/>
<circle cx="1001.12" cy="537.82" r="5" fill="#4b4b4b"/>
<circle cx="1001.52" cy="436.96" r="5" fill="#4b4b4b"/>
<circle cx="1006.15" cy="451.05" r="5" fill="#4b4b4b"/>
<circle cx="1002.16" cy="453.27" r="5" fill="#4b4b4b"/>
<circle cx="1001.87" cy="462.35" r="5" fill="#4b4b4b"/>
<circle cx="999.86" cy="473.4" r="5" fill="#4b4b4b"/>
<circle cx="1000.01" cy="492.25" r="5" fill="#4b4b4b"/>
<circle cx="1004.44" cy="482.19" r="5" fill="#4b4b4b"/>
<circle cx="1001.39" cy="483.29" r="5" fill="#4b4b4b"/>
<circle cx="1004.61" cy="464.15" r="5" fill="#4b4b4b"/>
<circle cx="1002.55" cy="539.03" r="5" fill="#4b4b4b"/>
<circle cx="1003.28" cy="527.78" r="5" fill="#4b4b4b"/>
<circle cx="1007.83" cy="461.74" r="5" fill="#4b4b4b"/>
<circle cx="1003.55" cy="453.8" r="5" fill="#4b4b4b"/>
<circle cx="1004.37" cy="429.49" r="5" fill="#4b4b4b"/>
<circle cx="1007" cy="515.21" r="5" fill="#4b4b4b"/>
<circle cx="1000.85" cy="533.23" r="5" fill="#4b4b4b"/>
<circle cx="1000.59" cy="460.74" r="5" fill="#4b4b4b"/>
<circle cx="1007.38" cy="518.48" r="5" fill="#4b4b4b"/>
<circle cx="1006.56" cy="515.64" r="5" fill="#4b4b4b"/>
<circle cx="1001.45" cy="481.65" r="5" fill="#4b4b4b"/>
<circle cx="1000.91" cy="424.96" r="5" fill="#4b4b4b"/>
<circle cx="1005.85" cy="466.86" r="5" fill="#4b4b4b"/>
<circle cx="1007.66" cy="529.74" r="5" fill="#4b4b4b"/>
<circle cx="1000.97" cy="462.57" r="5" fill="#4b4b4b"/>
<circle cx="1007.75" cy="453.28" r="5" fill="#4b4b4b"/>
<circle cx="1007.14" cy="507.05" r="5" fill="#4b4b4b"/>
<circle cx="1004.63" cy="431.13" r="5" fill="#4b4b4b"/>
<circle cx="1002.99" cy="486.75" r="5" fill="#4b4b4b"/>
<circle cx="1000.13" cy="482.36" r="5" fill="#4b4b4b"/>
<circle cx="999.55" cy="471.25" r="5" fill="#4b4b4b"/>
<circle cx="1007.86" cy="463.74" r="5" fill="#4b4b4b"/>
<circle cx="1002.13" cy="352.9" r="4.8" fill="#4b4b4b"/>
<circle cx="1004.93" cy="612.9" r="4.8" fill="#4b4b4b"/>
<ellipse cx="873.7" cy="586.1" rx="10.1" ry="11.2" fill="none" stroke="#222" stroke-width="2.9"/>
<line x1="862.4" y1="597.8" x2="884.6" y2="573.6" stroke="#222" stroke-width="2.9" stroke-linecap="butt"/>
<text x="0" y="0" transform="translate(762.3,490) rotate(-90)" font-size="21.2" text-anchor="middle" font-weight="normal" fill="#000">Proximal arbour</text>
<text x="0" y="0" transform="translate(788,493.5) rotate(-90)" font-size="21.2" text-anchor="middle" font-weight="normal" fill="#000">location</text>
<line x1="1222.7" y1="339.8" x2="1222.7" y2="626.55" stroke="#000" stroke-width="2.3" stroke-linecap="butt"/>
<line x1="1221.55" y1="625.4" x2="1395.3" y2="625.4" stroke="#000" stroke-width="2.3" stroke-linecap="butt"/>
<line x1="1211" y1="371" x2="1222.7" y2="371" stroke="#000" stroke-width="2.3" stroke-linecap="butt"/>
<text x="1206.4" y="377.7" font-size="21.2" text-anchor="end" font-weight="normal" fill="#000">20</text>
<line x1="1211" y1="450.6" x2="1222.7" y2="450.6" stroke="#000" stroke-width="2.3" stroke-linecap="butt"/>
<text x="1206.4" y="457.3" font-size="21.2" text-anchor="end" font-weight="normal" fill="#000">15</text>
<line x1="1211" y1="529.9" x2="1222.7" y2="529.9" stroke="#000" stroke-width="2.3" stroke-linecap="butt"/>
<text x="1206.4" y="536.6" font-size="21.2" text-anchor="end" font-weight="normal" fill="#000">10</text>
<line x1="1211" y1="609.5" x2="1222.7" y2="609.5" stroke="#000" stroke-width="2.3" stroke-linecap="butt"/>
<text x="1206.4" y="616.2" font-size="21.2" text-anchor="end" font-weight="normal" fill="#000">5</text>
<line x1="1243.1" y1="625.4" x2="1243.1" y2="637.7" stroke="#000" stroke-width="2.3" stroke-linecap="butt"/>
<text x="1243.1" y="660.4" font-size="21.2" text-anchor="middle" font-weight="normal" fill="#000">1</text>
<line x1="1286.8" y1="625.4" x2="1286.8" y2="637.7" stroke="#000" stroke-width="2.3" stroke-linecap="butt"/>
<text x="1286.8" y="660.4" font-size="21.2" text-anchor="middle" font-weight="normal" fill="#000">2</text>
<line x1="1330.5" y1="625.4" x2="1330.5" y2="637.7" stroke="#000" stroke-width="2.3" stroke-linecap="butt"/>
<text x="1330.5" y="660.4" font-size="21.2" text-anchor="middle" font-weight="normal" fill="#000">3</text>
<line x1="1373.7" y1="625.4" x2="1373.7" y2="637.7" stroke="#000" stroke-width="2.3" stroke-linecap="butt"/>
<text x="1373.7" y="660.4" font-size="21.2" text-anchor="middle" font-weight="normal" fill="#000">4</text>
<line x1="1243.7" y1="473.9" x2="1243.7" y2="423.5" stroke="#474747" stroke-width="2.2" stroke-linecap="butt"/>
<line x1="1243.7" y1="518.2" x2="1243.7" y2="543.9" stroke="#474747" stroke-width="2.2" stroke-linecap="butt"/>
<line x1="1234.95" y1="423.5" x2="1252.45" y2="423.5" stroke="#474747" stroke-width="2.2" stroke-linecap="butt"/>
<line x1="1234.95" y1="543.9" x2="1252.45" y2="543.9" stroke="#474747" stroke-width="2.2" stroke-linecap="butt"/>
<rect x="1227.2" y="473.9" width="33" height="44.3" fill="#2ea098" stroke="#474747" stroke-width="2.2"/>
<line x1="1227.2" y1="497.3" x2="1260.2" y2="497.3" stroke="#474747" stroke-width="2.2" stroke-linecap="butt"/>
<path d="M1243.7,382.8 L1248.9,391.4 L1243.7,400 L1238.5,391.4 Z" fill="#4b4b4b"/>
<circle cx="1245.47" cy="423.5" r="5" fill="#4b4b4b"/>
<circle cx="1239.66" cy="543.9" r="5" fill="#4b4b4b"/>
<circle cx="1240.74" cy="503.03" r="5" fill="#4b4b4b"/>
<circle cx="1246.54" cy="430.69" r="5" fill="#4b4b4b"/>
<circle cx="1242.8" cy="490.5" r="5" fill="#4b4b4b"/>
<circle cx="1242.97" cy="509.8" r="5" fill="#4b4b4b"/>
<circle cx="1244.56" cy="453.81" r="5" fill="#4b4b4b"/>
<circle cx="1243.49" cy="456.83" r="5" fill="#4b4b4b"/>
<circle cx="1242.66" cy="493.39" r="5" fill="#4b4b4b"/>
<circle cx="1239.47" cy="514.03" r="5" fill="#4b4b4b"/>
<circle cx="1245.74" cy="510.17" r="5" fill="#4b4b4b"/>
<circle cx="1247.91" cy="504.33" r="5" fill="#4b4b4b"/>
<circle cx="1247.99" cy="491.82" r="5" fill="#4b4b4b"/>
<circle cx="1245.17" cy="518.68" r="5" fill="#4b4b4b"/>
<circle cx="1242.41" cy="514.44" r="5" fill="#4b4b4b"/>
<circle cx="1242.47" cy="477.93" r="5" fill="#4b4b4b"/>
<circle cx="1245.41" cy="542.53" r="5" fill="#4b4b4b"/>
<circle cx="1245.26" cy="492.65" r="5" fill="#4b4b4b"/>
<circle cx="1240.22" cy="487.75" r="5" fill="#4b4b4b"/>
<circle cx="1241.31" cy="431.74" r="5" fill="#4b4b4b"/>
<circle cx="1242.88" cy="391.4" r="4.8" fill="#4b4b4b"/>
<line x1="1286.85" y1="481.2" x2="1286.85" y2="454.1" stroke="#474747" stroke-width="2.2" stroke-linecap="butt"/>
<line x1="1286.85" y1="515.3" x2="1286.85" y2="553.2" stroke="#474747" stroke-width="2.2" stroke-linecap="butt"/>
<line x1="1277.82" y1="454.1" x2="1295.88" y2="454.1" stroke="#474747" stroke-width="2.2" stroke-linecap="butt"/>
<line x1="1277.82" y1="553.2" x2="1295.88" y2="553.2" stroke="#474747" stroke-width="2.2" stroke-linecap="butt"/>
<rect x="1269.8" y="481.2" width="34.1" height="34.1" fill="#dc5426" stroke="#474747" stroke-width="2.2"/>
<line x1="1269.8" y1="502.2" x2="1303.9" y2="502.2" stroke="#474747" stroke-width="2.2" stroke-linecap="butt"/>
<path d="M1286.85,409.1 L1292.05,417.7 L1286.85,426.3 L1281.65,417.7 Z" fill="#4b4b4b"/>
<path d="M1286.85,559.2 L1292.05,567.8 L1286.85,576.4 L1281.65,567.8 Z" fill="#4b4b4b"/>
<path d="M1286.85,580.2 L1292.05,588.8 L1286.85,597.4 L1281.65,588.8 Z" fill="#4b4b4b"/>
<circle cx="1284.1" cy="454.1" r="5" fill="#4b4b4b"/>
<circle cx="1285.65" cy="553.2" r="5" fill="#4b4b4b"/>
<circle cx="1283.01" cy="504.57" r="5" fill="#4b4b4b"/>
<circle cx="1288.21" cy="477.12" r="5" fill="#4b4b4b"/>
<circle cx="1290.93" cy="489.06" r="5" fill="#4b4b4b"/>
<circle cx="1285.86" cy="488.88" r="5" fill="#4b4b4b"/>
<circle cx="1288.82" cy="457.63" r="5" fill="#4b4b4b"/>
<circle cx="1290.75" cy="488.49" r="5" fill="#4b4b4b"/>
<circle cx="1282.74" cy="495.92" r="5" fill="#4b4b4b"/>
<circle cx="1283.63" cy="538.36" r="5" fill="#4b4b4b"/>
<circle cx="1289.6" cy="490.61" r="5" fill="#4b4b4b"/>
<circle cx="1289.89" cy="510.91" r="5" fill="#4b4b4b"/>
<circle cx="1288.1" cy="545.85" r="5" fill="#4b4b4b"/>
<circle cx="1283.79" cy="543.53" r="5" fill="#4b4b4b"/>
<circle cx="1286.07" cy="545.38" r="5" fill="#4b4b4b"/>
<circle cx="1290.16" cy="510.18" r="5" fill="#4b4b4b"/>
<circle cx="1290.33" cy="506.95" r="5" fill="#4b4b4b"/>
<circle cx="1289.58" cy="465.74" r="5" fill="#4b4b4b"/>
<circle cx="1284.18" cy="495.86" r="5" fill="#4b4b4b"/>
<circle cx="1290.03" cy="485.2" r="5" fill="#4b4b4b"/>
<circle cx="1285.72" cy="545.55" r="5" fill="#4b4b4b"/>
<circle cx="1288.8" cy="541.49" r="5" fill="#4b4b4b"/>
<circle cx="1283.58" cy="474.38" r="5" fill="#4b4b4b"/>
<circle cx="1291.09" cy="504.28" r="5" fill="#4b4b4b"/>
<circle cx="1287.78" cy="487.22" r="5" fill="#4b4b4b"/>
<circle cx="1288.85" cy="499.02" r="5" fill="#4b4b4b"/>
<circle cx="1284.26" cy="496.87" r="5" fill="#4b4b4b"/>
<circle cx="1287.91" cy="464.83" r="5" fill="#4b4b4b"/>
<circle cx="1287.58" cy="497.94" r="5" fill="#4b4b4b"/>
<circle cx="1287.67" cy="489.24" r="5" fill="#4b4b4b"/>
<circle cx="1286.01" cy="417.7" r="4.8" fill="#4b4b4b"/>
<circle cx="1288.22" cy="567.8" r="4.8" fill="#4b4b4b"/>
<circle cx="1285.9" cy="588.8" r="4.8" fill="#4b4b4b"/>
<line x1="1330.25" y1="519.7" x2="1330.25" y2="494" stroke="#474747" stroke-width="2.2" stroke-linecap="butt"/>
<line x1="1330.25" y1="551.2" x2="1330.25" y2="594" stroke="#474747" stroke-width="2.2" stroke-linecap="butt"/>
<line x1="1321.38" y1="494" x2="1339.12" y2="494" stroke="#474747" stroke-width="2.2" stroke-linecap="butt"/>
<line x1="1321.38" y1="594" x2="1339.12" y2="594" stroke="#474747" stroke-width="2.2" stroke-linecap="butt"/>
<rect x="1313.5" y="519.7" width="33.5" height="31.5" fill="#4a8bc8" stroke="#474747" stroke-width="2.2"/>
<line x1="1313.5" y1="529.9" x2="1347" y2="529.9" stroke="#474747" stroke-width="2.2" stroke-linecap="butt"/>
<path d="M1330.25,597.1 L1335.45,605.7 L1330.25,614.3 L1325.05,605.7 Z" fill="#4b4b4b"/>
<circle cx="1327.98" cy="494" r="5" fill="#4b4b4b"/>
<circle cx="1334.15" cy="594" r="5" fill="#4b4b4b"/>
<circle cx="1329.97" cy="541.83" r="5" fill="#4b4b4b"/>
<circle cx="1328.8" cy="518.17" r="5" fill="#4b4b4b"/>
<circle cx="1328.11" cy="527.76" r="5" fill="#4b4b4b"/>
<circle cx="1326.68" cy="510.92" r="5" fill="#4b4b4b"/>
<circle cx="1327.56" cy="541.25" r="5" fill="#4b4b4b"/>
<circle cx="1331.98" cy="544.19" r="5" fill="#4b4b4b"/>
<circle cx="1327.02" cy="526.73" r="5" fill="#4b4b4b"/>
<circle cx="1328.08" cy="566.52" r="5" fill="#4b4b4b"/>
<circle cx="1329.78" cy="545.03" r="5" fill="#4b4b4b"/>
<circle cx="1330.65" cy="497.85" r="5" fill="#4b4b4b"/>
<circle cx="1329.17" cy="511.06" r="5" fill="#4b4b4b"/>
<circle cx="1332.82" cy="540.23" r="5" fill="#4b4b4b"/>
<circle cx="1328.06" cy="530.32" r="5" fill="#4b4b4b"/>
<circle cx="1329.07" cy="526.14" r="5" fill="#4b4b4b"/>
<circle cx="1329.58" cy="568.48" r="5" fill="#4b4b4b"/>
<circle cx="1326.91" cy="569.97" r="5" fill="#4b4b4b"/>
<circle cx="1327.75" cy="516.43" r="5" fill="#4b4b4b"/>
<circle cx="1327.07" cy="496.87" r="5" fill="#4b4b4b"/>
<circle cx="1332.28" cy="510.29" r="5" fill="#4b4b4b"/>
<circle cx="1327.07" cy="522.68" r="5" fill="#4b4b4b"/>
<circle cx="1331.76" cy="573.19" r="5" fill="#4b4b4b"/>
<circle cx="1327.75" cy="533.96" r="5" fill="#4b4b4b"/>
<circle cx="1331.57" cy="544.84" r="5" fill="#4b4b4b"/>
<circle cx="1331.66" cy="522.93" r="5" fill="#4b4b4b"/>
<circle cx="1328.93" cy="555.03" r="5" fill="#4b4b4b"/>
<circle cx="1334.15" cy="520.58" r="5" fill="#4b4b4b"/>
<circle cx="1331.66" cy="496.93" r="5" fill="#4b4b4b"/>
<circle cx="1330.77" cy="522.63" r="5" fill="#4b4b4b"/>
<circle cx="1326.17" cy="541.29" r="5" fill="#4b4b4b"/>
<circle cx="1329.41" cy="534.04" r="5" fill="#4b4b4b"/>
<circle cx="1328.14" cy="533.47" r="5" fill="#4b4b4b"/>
<circle cx="1329.98" cy="496.44" r="5" fill="#4b4b4b"/>
<circle cx="1334.15" cy="527.14" r="5" fill="#4b4b4b"/>
<circle cx="1333.53" cy="591.39" r="5" fill="#4b4b4b"/>
<circle cx="1326.31" cy="524.21" r="5" fill="#4b4b4b"/>
<circle cx="1331.87" cy="508.69" r="5" fill="#4b4b4b"/>
<circle cx="1334.16" cy="541.9" r="5" fill="#4b4b4b"/>
<circle cx="1330.63" cy="569.31" r="5" fill="#4b4b4b"/>
<circle cx="1326.62" cy="537.64" r="5" fill="#4b4b4b"/>
<circle cx="1333.55" cy="562.48" r="5" fill="#4b4b4b"/>
<circle cx="1329.59" cy="525.64" r="5" fill="#4b4b4b"/>
<circle cx="1334.57" cy="506.06" r="5" fill="#4b4b4b"/>
<circle cx="1333.62" cy="531.92" r="5" fill="#4b4b4b"/>
<circle cx="1333.21" cy="529.54" r="5" fill="#4b4b4b"/>
<circle cx="1334.13" cy="576.28" r="5" fill="#4b4b4b"/>
<circle cx="1326.36" cy="549.19" r="5" fill="#4b4b4b"/>
<circle cx="1332.89" cy="527.62" r="5" fill="#4b4b4b"/>
<circle cx="1328.5" cy="524.31" r="5" fill="#4b4b4b"/>
<circle cx="1326.97" cy="526.95" r="5" fill="#4b4b4b"/>
<circle cx="1329.16" cy="562.52" r="5" fill="#4b4b4b"/>
<circle cx="1331.05" cy="538.72" r="5" fill="#4b4b4b"/>
<circle cx="1325.79" cy="563.67" r="5" fill="#4b4b4b"/>
<circle cx="1329.8" cy="503.48" r="5" fill="#4b4b4b"/>
<circle cx="1332.81" cy="509.31" r="5" fill="#4b4b4b"/>
<circle cx="1330.21" cy="583.61" r="5" fill="#4b4b4b"/>
<circle cx="1330.5" cy="546.2" r="5" fill="#4b4b4b"/>
<circle cx="1328.42" cy="531.8" r="5" fill="#4b4b4b"/>
<circle cx="1334.49" cy="574.57" r="5" fill="#4b4b4b"/>
<circle cx="1327.98" cy="502.08" r="5" fill="#4b4b4b"/>
<circle cx="1331.88" cy="577.43" r="5" fill="#4b4b4b"/>
<circle cx="1331.13" cy="605.7" r="4.8" fill="#4b4b4b"/>
<line x1="1374" y1="448.3" x2="1374" y2="434.6" stroke="#474747" stroke-width="2.2" stroke-linecap="butt"/>
<line x1="1374" y1="494.3" x2="1374" y2="522.6" stroke="#474747" stroke-width="2.2" stroke-linecap="butt"/>
<line x1="1365.1" y1="434.6" x2="1382.9" y2="434.6" stroke="#474747" stroke-width="2.2" stroke-linecap="butt"/>
<line x1="1365.1" y1="522.6" x2="1382.9" y2="522.6" stroke="#474747" stroke-width="2.2" stroke-linecap="butt"/>
<rect x="1357.2" y="448.3" width="33.6" height="46" fill="#dcc124" stroke="#474747" stroke-width="2.2"/>
<line x1="1357.2" y1="476.6" x2="1390.8" y2="476.6" stroke="#474747" stroke-width="2.2" stroke-linecap="butt"/>
<path d="M1374,361 L1379.2,369.6 L1374,378.2 L1368.8,369.6 Z" fill="#4b4b4b"/>
<circle cx="1378.29" cy="434.6" r="5" fill="#4b4b4b"/>
<circle cx="1369.89" cy="522.6" r="5" fill="#4b4b4b"/>
<circle cx="1370.06" cy="494.63" r="5" fill="#4b4b4b"/>
<circle cx="1377.09" cy="436.76" r="5" fill="#4b4b4b"/>
<circle cx="1374.63" cy="494.78" r="5" fill="#4b4b4b"/>
<circle cx="1373.66" cy="513.58" r="5" fill="#4b4b4b"/>
<circle cx="1376.5" cy="522.59" r="5" fill="#4b4b4b"/>
<circle cx="1374.84" cy="463.85" r="5" fill="#4b4b4b"/>
<circle cx="1375.73" cy="438.44" r="5" fill="#4b4b4b"/>
<circle cx="1371.8" cy="458.82" r="5" fill="#4b4b4b"/>
<circle cx="1370.26" cy="519.05" r="5" fill="#4b4b4b"/>
<circle cx="1369.58" cy="500.62" r="5" fill="#4b4b4b"/>
<circle cx="1372.5" cy="508.77" r="5" fill="#4b4b4b"/>
<circle cx="1375.34" cy="469.25" r="5" fill="#4b4b4b"/>
<circle cx="1372.92" cy="451.93" r="5" fill="#4b4b4b"/>
<circle cx="1372.63" cy="439.53" r="5" fill="#4b4b4b"/>
<circle cx="1375.07" cy="447.34" r="5" fill="#4b4b4b"/>
<circle cx="1375.85" cy="440.15" r="5" fill="#4b4b4b"/>
<circle cx="1374.86" cy="522.46" r="5" fill="#4b4b4b"/>
<circle cx="1372.31" cy="491.77" r="5" fill="#4b4b4b"/>
<circle cx="1376.9" cy="454.75" r="5" fill="#4b4b4b"/>
<circle cx="1376.71" cy="491.45" r="5" fill="#4b4b4b"/>
<circle cx="1377.54" cy="444.45" r="5" fill="#4b4b4b"/>
<circle cx="1377.53" cy="471.07" r="5" fill="#4b4b4b"/>
<circle cx="1369.64" cy="497.13" r="5" fill="#4b4b4b"/>
<circle cx="1375.52" cy="450.48" r="5" fill="#4b4b4b"/>
<circle cx="1372.63" cy="486.96" r="5" fill="#4b4b4b"/>
<circle cx="1373" cy="440.1" r="5" fill="#4b4b4b"/>
<circle cx="1374.16" cy="456.54" r="5" fill="#4b4b4b"/>
<circle cx="1370.79" cy="504.31" r="5" fill="#4b4b4b"/>
<circle cx="1371.74" cy="462.62" r="5" fill="#4b4b4b"/>
<circle cx="1378.38" cy="503.31" r="5" fill="#4b4b4b"/>
<circle cx="1372.48" cy="503.81" r="5" fill="#4b4b4b"/>
<circle cx="1377.72" cy="451.71" r="5" fill="#4b4b4b"/>
<circle cx="1375.66" cy="516.83" r="5" fill="#4b4b4b"/>
<circle cx="1372.33" cy="453.61" r="5" fill="#4b4b4b"/>
<circle cx="1372.37" cy="465.6" r="5" fill="#4b4b4b"/>
<circle cx="1374.94" cy="520.56" r="5" fill="#4b4b4b"/>
<circle cx="1375.82" cy="438.53" r="5" fill="#4b4b4b"/>
<circle cx="1372.56" cy="489.42" r="5" fill="#4b4b4b"/>
<circle cx="1370.03" cy="498.78" r="5" fill="#4b4b4b"/>
<circle cx="1371.05" cy="470.42" r="5" fill="#4b4b4b"/>
<circle cx="1376.16" cy="369.6" r="4.8" fill="#4b4b4b"/>
<text x="0" y="0" transform="translate(1135.5,489.8) rotate(-90)" font-size="21.2" text-anchor="middle" font-weight="normal" fill="#000">Distal arbour</text>
<text x="0" y="0" transform="translate(1158.9,489.8) rotate(-90)" font-size="21.2" text-anchor="middle" font-weight="normal" fill="#000">thickness (μm)</text>
<text transform="translate(2.3,716.9) scale(1.1,0.95)" x="0" y="0" font-size="33" font-weight="bold" fill="#000" stroke="#000" stroke-width="1.1">d</text>
<text transform="translate(3,971.9) scale(1.1,0.95)" x="0" y="0" font-size="33" font-weight="bold" fill="#000" stroke="#000" stroke-width="1.1">e</text>
<circle cx="107.2" cy="707.9" r="6.8" fill="#ef4f2a"/>
<text x="119.8" y="715.3" font-size="21.2" text-anchor="start" font-weight="normal" fill="#000">Type 2</text>
<circle cx="211.3" cy="707.9" r="6.8" fill="#0587cd"/>
<text x="223.9" y="715.3" font-size="21.2" text-anchor="start" font-weight="normal" fill="#000">Type 3</text>
<circle cx="315.1" cy="707.9" r="6.8" fill="#ffd500"/>
<text x="327.7" y="715.3" font-size="21.2" text-anchor="start" font-weight="normal" fill="#000">Type 4</text>
<rect x="100.4" y="738" width="10.3" height="205.3" fill="#ebebeb"/>
<rect x="158.2" y="738" width="19.8" height="205.3" fill="#ebebeb"/>
<rect x="225.7" y="738" width="20.2" height="205.3" fill="#ebebeb"/>
<rect x="292.1" y="738" width="8.5" height="205.3" fill="#ebebeb"/>
<line x1="98.8" y1="735.3" x2="98.8" y2="945.55" stroke="#000" stroke-width="2.3" stroke-linecap="butt"/>
<line x1="97.65" y1="944.4" x2="303.4" y2="944.4" stroke="#000" stroke-width="2.3" stroke-linecap="butt"/>
<line x1="89.2" y1="772.9" x2="98.8" y2="772.9" stroke="#000" stroke-width="2.3" stroke-linecap="butt"/>
<text x="84.8" y="779.6" font-size="21.2" text-anchor="end" font-weight="normal" fill="#000">200</text>
<line x1="89.2" y1="852.7" x2="98.8" y2="852.7" stroke="#000" stroke-width="2.3" stroke-linecap="butt"/>
<text x="84.8" y="859.4" font-size="21.2" text-anchor="end" font-weight="normal" fill="#000">150</text>
<line x1="89.2" y1="932.1" x2="98.8" y2="932.1" stroke="#000" stroke-width="2.3" stroke-linecap="butt"/>
<text x="84.8" y="938.8" font-size="21.2" text-anchor="end" font-weight="normal" fill="#000">100</text>
<line x1="114.1" y1="821.7" x2="114.1" y2="853.5" stroke="#ee562a" stroke-width="3.6" stroke-linecap="butt"/>
<line x1="148.5" y1="763.9" x2="148.5" y2="819.5" stroke="#ee562a" stroke-width="3.6" stroke-linecap="butt"/>
<line x1="182.1" y1="783.2" x2="182.1" y2="834.2" stroke="#ee562a" stroke-width="3.6" stroke-linecap="butt"/>
<line x1="216.6" y1="745.1" x2="216.6" y2="806.3" stroke="#ee562a" stroke-width="3.6" stroke-linecap="butt"/>
<line x1="250.1" y1="775.2" x2="250.1" y2="850.1" stroke="#ee562a" stroke-width="3.6" stroke-linecap="butt"/>
<line x1="284.1" y1="778.6" x2="284.1" y2="856.9" stroke="#ee562a" stroke-width="3.6" stroke-linecap="butt"/>
<path d="M114.1,837.1 L148.5,791.1 L182.1,808.6 L216.6,776.4 L250.1,814.5 L284.1,819.5" fill="none" stroke="#ee562a" stroke-width="3.6" stroke-linejoin="round"/>
<circle cx="114.1" cy="837.1" r="6.2" fill="#ee562a"/>
<circle cx="148.5" cy="791.1" r="6.2" fill="#ee562a"/>
<circle cx="182.1" cy="808.6" r="6.2" fill="#ee562a"/>
<circle cx="216.6" cy="776.4" r="6.2" fill="#ee562a"/>
<circle cx="250.1" cy="814.5" r="6.2" fill="#ee562a"/>
<circle cx="284.1" cy="819.5" r="6.2" fill="#ee562a"/>
<line x1="115.6" y1="878.4" x2="115.6" y2="914.7" stroke="#4284c4" stroke-width="3.6" stroke-linecap="butt"/>
<line x1="149.2" y1="877" x2="149.2" y2="911.3" stroke="#4284c4" stroke-width="3.6" stroke-linecap="butt"/>
<line x1="183.2" y1="846.7" x2="183.2" y2="900" stroke="#4284c4" stroke-width="3.6" stroke-linecap="butt"/>
<line x1="217.7" y1="864.8" x2="217.7" y2="914.7" stroke="#4284c4" stroke-width="3.6" stroke-linecap="butt"/>
<line x1="251.2" y1="885.2" x2="251.2" y2="912.4" stroke="#4284c4" stroke-width="3.6" stroke-linecap="butt"/>
<line x1="285.2" y1="851.2" x2="285.2" y2="936.2" stroke="#4284c4" stroke-width="3.6" stroke-linecap="butt"/>
<path d="M115.6,896.6 L149.2,897.2 L183.2,873.9 L217.7,889.8 L251.2,898.4 L285.2,892" fill="none" stroke="#4284c4" stroke-width="3.6" stroke-linejoin="round"/>
<circle cx="115.6" cy="896.6" r="6.2" fill="#4284c4"/>
<circle cx="149.2" cy="897.2" r="6.2" fill="#4284c4"/>
<circle cx="183.2" cy="873.9" r="6.2" fill="#4284c4"/>
<circle cx="217.7" cy="889.8" r="6.2" fill="#4284c4"/>
<circle cx="251.2" cy="898.4" r="6.2" fill="#4284c4"/>
<circle cx="285.2" cy="892" r="6.2" fill="#4284c4"/>
<line x1="116.8" y1="870.5" x2="116.8" y2="920.4" stroke="#fcd428" stroke-width="3.6" stroke-linecap="butt"/>
<line x1="150.8" y1="858" x2="150.8" y2="898.8" stroke="#fcd428" stroke-width="3.6" stroke-linecap="butt"/>
<line x1="184.8" y1="873.9" x2="184.8" y2="904.5" stroke="#fcd428" stroke-width="3.6" stroke-linecap="butt"/>
<line x1="218.8" y1="878.4" x2="218.8" y2="900" stroke="#fcd428" stroke-width="3.6" stroke-linecap="butt"/>
<line x1="252.8" y1="875" x2="252.8" y2="911.3" stroke="#fcd428" stroke-width="3.6" stroke-linecap="butt"/>
<line x1="286.2" y1="884.1" x2="286.2" y2="907.9" stroke="#fcd428" stroke-width="3.6" stroke-linecap="butt"/>
<path d="M116.8,894.3 L150.8,878 L184.8,888.2 L218.8,889.1 L252.8,893.6 L286.2,895.9" fill="none" stroke="#fcd428" stroke-width="3.6" stroke-linejoin="round"/>
<circle cx="116.8" cy="894.3" r="6.2" fill="#fcd428"/>
<circle cx="150.8" cy="878" r="6.2" fill="#fcd428"/>
<circle cx="184.8" cy="888.2" r="6.2" fill="#fcd428"/>
<circle cx="218.8" cy="889.1" r="6.2" fill="#fcd428"/>
<circle cx="252.8" cy="893.6" r="6.2" fill="#fcd428"/>
<circle cx="286.2" cy="895.9" r="6.2" fill="#fcd428"/>
<text x="0" y="0" transform="translate(30.4,855.6) rotate(-90)" font-size="21.2" text-anchor="middle" font-weight="normal" fill="#000">Synapse count</text>
<rect x="376.4" y="737.5" width="11.5" height="206.2" fill="#ebebeb"/>
<rect x="432.3" y="737.5" width="23.7" height="206.2" fill="#ebebeb"/>
<rect x="500.2" y="737.5" width="24.2" height="206.2" fill="#ebebeb"/>
<rect x="569.1" y="737.5" width="9.9" height="206.2" fill="#ebebeb"/>
<line x1="374.6" y1="735.1" x2="374.6" y2="945.95" stroke="#000" stroke-width="2.3" stroke-linecap="butt"/>
<line x1="373.45" y1="944.8" x2="579.4" y2="944.8" stroke="#000" stroke-width="2.3" stroke-linecap="butt"/>
<line x1="365.1" y1="769.6" x2="374.6" y2="769.6" stroke="#000" stroke-width="2.3" stroke-linecap="butt"/>
<text x="360.7" y="776.3" font-size="21.2" text-anchor="end" font-weight="normal" fill="#000">300</text>
<line x1="365.1" y1="836.8" x2="374.6" y2="836.8" stroke="#000" stroke-width="2.3" stroke-linecap="butt"/>
<text x="360.7" y="843.5" font-size="21.2" text-anchor="end" font-weight="normal" fill="#000">200</text>
<line x1="365.1" y1="904.4" x2="374.6" y2="904.4" stroke="#000" stroke-width="2.3" stroke-linecap="butt"/>
<text x="360.7" y="911.1" font-size="21.2" text-anchor="end" font-weight="normal" fill="#000">100</text>
<line x1="496" y1="877" x2="524" y2="878" stroke="#8a8a8a" stroke-width="2.6" stroke-linecap="round" stroke-dasharray="0.1,6"/>
<line x1="537" y1="879" x2="551" y2="880.2" stroke="#231a1e" stroke-width="2.8" stroke-linecap="round" stroke-dasharray="0.1,6.5"/>
<circle cx="557.9" cy="880.9" r="6.3" fill="#231a1e"/>
<path d="M389,855 L421.8,863.9 L454.2,827.5 L490.7,762.7 L525,840.4 L558.7,838.8" fill="none" stroke="#3d1a10" stroke-width="3.3" stroke-linejoin="round"/>
<circle cx="389" cy="855" r="6.3" fill="#3d1a10"/>
<circle cx="421.8" cy="863.9" r="6.3" fill="#3d1a10"/>
<circle cx="454.2" cy="827.5" r="6.3" fill="#3d1a10"/>
<circle cx="490.7" cy="762.7" r="6.3" fill="#3d1a10"/>
<circle cx="525" cy="840.4" r="6.3" fill="#3d1a10"/>
<circle cx="558.7" cy="838.8" r="6.3" fill="#3d1a10"/>
<path d="M388.6,847.7 L423.5,791.8 L457.5,808 L491.9,828.3 L525,829.9 L559.9,809.6" fill="none" stroke="#5b2414" stroke-width="3.3" stroke-linejoin="round"/>
<circle cx="388.6" cy="847.7" r="6.3" fill="#5b2414"/>
<circle cx="423.5" cy="791.8" r="6.3" fill="#5b2414"/>
<circle cx="457.5" cy="808" r="6.3" fill="#5b2414"/>
<circle cx="491.9" cy="828.3" r="6.3" fill="#5b2414"/>
<circle cx="525" cy="829.9" r="6.3" fill="#5b2414"/>
<circle cx="559.9" cy="809.6" r="6.3" fill="#5b2414"/>
<path d="M389.4,853.4 L424.3,812.1 L459.1,853.4 L492.7,842 L526.7,863.9" fill="none" stroke="#7b2f16" stroke-width="3.3" stroke-linejoin="round"/>
<circle cx="389.4" cy="853.4" r="6.3" fill="#7b2f16"/>
<circle cx="424.3" cy="812.1" r="6.3" fill="#7b2f16"/>
<circle cx="459.1" cy="853.4" r="6.3" fill="#7b2f16"/>
<circle cx="492.7" cy="842" r="6.3" fill="#7b2f16"/>
<circle cx="526.7" cy="863.9" r="6.3" fill="#7b2f16"/>
<path d="M387.8,859 L421,843.7 L453.4,867.2 L489.4,876" fill="none" stroke="#231a1e" stroke-width="3.3" stroke-linejoin="round"/>
<circle cx="387.8" cy="859" r="6.3" fill="#231a1e"/>
<circle cx="421" cy="843.7" r="6.3" fill="#231a1e"/>
<circle cx="453.4" cy="867.2" r="6.3" fill="#231a1e"/>
<circle cx="489.4" cy="876" r="6.3" fill="#231a1e"/>
<path d="M391.1,910.9 L425.1,904.4 L459.1,899.6 L493.5,894.7 L527.5,936.8 L562,927.9" fill="none" stroke="#8f3518" stroke-width="3.3" stroke-linejoin="round"/>
<circle cx="391.1" cy="910.9" r="6.3" fill="#8f3518"/>
<circle cx="425.1" cy="904.4" r="6.3" fill="#8f3518"/>
<circle cx="459.1" cy="899.6" r="6.3" fill="#8f3518"/>
<circle cx="493.5" cy="894.7" r="6.3" fill="#8f3518"/>
<circle cx="527.5" cy="936.8" r="6.3" fill="#8f3518"/>
<circle cx="562" cy="927.9" r="6.3" fill="#8f3518"/>
<path d="M390,856 L425.9,845.3 L458,862 L494.3,853.4 L528.3,868.7 L562.6,855" fill="none" stroke="#b3402a" stroke-width="3.3" stroke-linejoin="round"/>
<circle cx="390" cy="856" r="6.3" fill="#b3402a"/>
<circle cx="425.9" cy="845.3" r="6.3" fill="#b3402a"/>
<circle cx="458" cy="862" r="6.3" fill="#b3402a"/>
<circle cx="494.3" cy="853.4" r="6.3" fill="#b3402a"/>
<circle cx="528.3" cy="868.7" r="6.3" fill="#b3402a"/>
<circle cx="562.6" cy="855" r="6.3" fill="#b3402a"/>
<path d="M392,857 L427,822 L461.5,825.9 L495.9,813.7 L529.9,835.5 L563.6,827.5" fill="none" stroke="#d24a28" stroke-width="3.3" stroke-linejoin="round"/>
<circle cx="392" cy="857" r="6.3" fill="#d24a28"/>
<circle cx="427" cy="822" r="6.3" fill="#d24a28"/>
<circle cx="461.5" cy="825.9" r="6.3" fill="#d24a28"/>
<circle cx="495.9" cy="813.7" r="6.3" fill="#d24a28"/>
<circle cx="529.9" cy="835.5" r="6.3" fill="#d24a28"/>
<circle cx="563.6" cy="827.5" r="6.3" fill="#d24a28"/>
<path d="M395.1,877.7 L429.1,893.9 L462.3,867.2 L497.5,866.3 L530.7,877.6" fill="none" stroke="#ef5a2e" stroke-width="3.3" stroke-linejoin="round"/>
<circle cx="395.1" cy="877.7" r="6.3" fill="#ef5a2e"/>
<circle cx="429.1" cy="893.9" r="6.3" fill="#ef5a2e"/>
<circle cx="462.3" cy="867.2" r="6.3" fill="#ef5a2e"/>
<circle cx="497.5" cy="866.3" r="6.3" fill="#ef5a2e"/>
<circle cx="530.7" cy="877.6" r="6.3" fill="#ef5a2e"/>
<path d="M393.5,859.9 L427.5,821.8 L462.3,867.2 L495.9,813.7 L530.7,774.8" fill="none" stroke="#e85226" stroke-width="3.3" stroke-linejoin="round"/>
<circle cx="393.5" cy="859.9" r="6.3" fill="#e85226"/>
<circle cx="427.5" cy="821.8" r="6.3" fill="#e85226"/>
<circle cx="462.3" cy="867.2" r="6.3" fill="#e85226"/>
<circle cx="495.9" cy="813.7" r="6.3" fill="#e85226"/>
<circle cx="530.7" cy="774.8" r="6.3" fill="#e85226"/>
<rect x="615.8" y="737.5" width="11.8" height="206.5" fill="#ebebeb"/>
<rect x="671.7" y="737.5" width="24.2" height="206.5" fill="#ebebeb"/>
<rect x="740" y="737.5" width="23.9" height="206.5" fill="#ebebeb"/>
<rect x="808" y="737.5" width="9.9" height="206.5" fill="#ebebeb"/>
<line x1="614" y1="735.6" x2="614" y2="946.15" stroke="#000" stroke-width="2.3" stroke-linecap="butt"/>
<line x1="612.85" y1="945" x2="818.9" y2="945" stroke="#000" stroke-width="2.3" stroke-linecap="butt"/>
<path d="M629.14,880.92 L663.09,872.43 L697.04,843.44 L730.98,857.58 L764.93,872.43 L798.88,850.51" fill="none" stroke="#1b1f27" stroke-width="3.3" stroke-linejoin="round"/>
<circle cx="629.14" cy="880.92" r="6.3" fill="#1b1f27"/>
<circle cx="663.09" cy="872.43" r="6.3" fill="#1b1f27"/>
<circle cx="697.04" cy="843.44" r="6.3" fill="#1b1f27"/>
<circle cx="730.98" cy="857.58" r="6.3" fill="#1b1f27"/>
<circle cx="764.93" cy="872.43" r="6.3" fill="#1b1f27"/>
<circle cx="798.88" cy="850.51" r="6.3" fill="#1b1f27"/>
<path d="M630.56,895.06 L663.8,895.35 L698.45,888.7 L732.4,896.48 L766.34,889.41 L801,910.34" fill="none" stroke="#1f4f7c" stroke-width="3.3" stroke-linejoin="round"/>
<circle cx="630.56" cy="895.06" r="6.3" fill="#1f4f7c"/>
<circle cx="663.8" cy="895.35" r="6.3" fill="#1f4f7c"/>
<circle cx="698.45" cy="888.7" r="6.3" fill="#1f4f7c"/>
<circle cx="732.4" cy="896.48" r="6.3" fill="#1f4f7c"/>
<circle cx="766.34" cy="889.41" r="6.3" fill="#1f4f7c"/>
<circle cx="801" cy="910.34" r="6.3" fill="#1f4f7c"/>
<path d="M631.27,873.14 L665.21,895.06 L699.16,883.75 L733.1,897.89 L766.34,887.99 L801.7,910.62" fill="none" stroke="#2574be" stroke-width="3.3" stroke-linejoin="round"/>
<circle cx="631.27" cy="873.14" r="6.3" fill="#2574be"/>
<circle cx="665.21" cy="895.06" r="6.3" fill="#2574be"/>
<circle cx="699.16" cy="883.75" r="6.3" fill="#2574be"/>
<circle cx="733.1" cy="897.89" r="6.3" fill="#2574be"/>
<circle cx="766.34" cy="887.99" r="6.3" fill="#2574be"/>
<circle cx="801.7" cy="910.62" r="6.3" fill="#2574be"/>
<path d="M632.68,909.92 L665.92,895.06 L700.57,904.26 L734.52,893.65 L768.47,912.04 L803.12,900.01" fill="none" stroke="#4a88c8" stroke-width="3.3" stroke-linejoin="round"/>
<circle cx="632.68" cy="909.92" r="6.3" fill="#4a88c8"/>
<circle cx="665.92" cy="895.06" r="6.3" fill="#4a88c8"/>
<circle cx="700.57" cy="904.26" r="6.3" fill="#4a88c8"/>
<circle cx="734.52" cy="893.65" r="6.3" fill="#4a88c8"/>
<circle cx="768.47" cy="912.04" r="6.3" fill="#4a88c8"/>
<circle cx="803.12" cy="900.01" r="6.3" fill="#4a88c8"/>
<rect x="851.3" y="735.5" width="12.6" height="210.4" fill="#ebebeb"/>
<rect x="909.3" y="735.5" width="23.8" height="210.4" fill="#ebebeb"/>
<rect x="978.2" y="735.5" width="24.4" height="210.4" fill="#ebebeb"/>
<rect x="1048" y="735.5" width="10.3" height="210.4" fill="#ebebeb"/>
<line x1="849.8" y1="733.4" x2="849.8" y2="948.15" stroke="#000" stroke-width="2.3" stroke-linecap="butt"/>
<line x1="848.65" y1="947" x2="1059.4" y2="947" stroke="#000" stroke-width="2.3" stroke-linecap="butt"/>
<path d="M864.9,919.21 L900.26,917.09 L935.62,907.89 L969.57,907.89 L1004.22,916.38 L1039.58,909.31" fill="none" stroke="#5c5220" stroke-width="3.3" stroke-linejoin="round"/>
<circle cx="864.9" cy="919.21" r="6.3" fill="#5c5220"/>
<circle cx="900.26" cy="917.09" r="6.3" fill="#5c5220"/>
<circle cx="935.62" cy="907.89" r="6.3" fill="#5c5220"/>
<circle cx="969.57" cy="907.89" r="6.3" fill="#5c5220"/>
<circle cx="1004.22" cy="916.38" r="6.3" fill="#5c5220"/>
<circle cx="1039.58" cy="909.31" r="6.3" fill="#5c5220"/>
<path d="M862.78,892.33 L898.85,900.82 L933.5,882.43 L968.15,885.26 L1003.51,902.94 L1038.88,900.82" fill="none" stroke="#3c3614" stroke-width="3.3" stroke-linejoin="round"/>
<circle cx="862.78" cy="892.33" r="6.3" fill="#3c3614"/>
<circle cx="898.85" cy="900.82" r="6.3" fill="#3c3614"/>
<circle cx="933.5" cy="882.43" r="6.3" fill="#3c3614"/>
<circle cx="968.15" cy="885.26" r="6.3" fill="#3c3614"/>
<circle cx="1003.51" cy="902.94" r="6.3" fill="#3c3614"/>
<circle cx="1038.88" cy="900.82" r="6.3" fill="#3c3614"/>
<path d="M863.49,867.58 L897.43,892.33 L930.67,880.31 L966.74,882.43 L1002.81,902.23 L1036.75,873.95" fill="none" stroke="#1e1e1e" stroke-width="3.3" stroke-linejoin="round"/>
<circle cx="863.49" cy="867.58" r="6.3" fill="#1e1e1e"/>
<circle cx="897.43" cy="892.33" r="6.3" fill="#1e1e1e"/>
<circle cx="930.67" cy="880.31" r="6.3" fill="#1e1e1e"/>
<circle cx="966.74" cy="882.43" r="6.3" fill="#1e1e1e"/>
<circle cx="1002.81" cy="902.23" r="6.3" fill="#1e1e1e"/>
<circle cx="1036.75" cy="873.95" r="6.3" fill="#1e1e1e"/>
<path d="M866.32,914.96 L901.68,881.02 L936.33,883.85 L970.98,877.48 L1005.64,881.02 L1041.7,876.07" fill="none" stroke="#857525" stroke-width="3.3" stroke-linejoin="round"/>
<circle cx="866.32" cy="914.96" r="6.3" fill="#857525"/>
<circle cx="901.68" cy="881.02" r="6.3" fill="#857525"/>
<circle cx="936.33" cy="883.85" r="6.3" fill="#857525"/>
<circle cx="970.98" cy="877.48" r="6.3" fill="#857525"/>
<circle cx="1005.64" cy="881.02" r="6.3" fill="#857525"/>
<circle cx="1041.7" cy="876.07" r="6.3" fill="#857525"/>
<path d="M867.02,907.89 L901.68,880.31 L936.33,906.48 L970.98,900.82 L1005.64,881.02 L1040.29,876.78" fill="none" stroke="#9a8a2a" stroke-width="3.3" stroke-linejoin="round"/>
<circle cx="867.02" cy="907.89" r="6.3" fill="#9a8a2a"/>
<circle cx="901.68" cy="880.31" r="6.3" fill="#9a8a2a"/>
<circle cx="936.33" cy="906.48" r="6.3" fill="#9a8a2a"/>
<circle cx="970.98" cy="900.82" r="6.3" fill="#9a8a2a"/>
<circle cx="1005.64" cy="881.02" r="6.3" fill="#9a8a2a"/>
<circle cx="1040.29" cy="876.78" r="6.3" fill="#9a8a2a"/>
<path d="M868.44,826.56 L903.09,824.44 L937.74,859.09 L972.4,873.24 L1007.05,850.61 L1041,888.09" fill="none" stroke="#b9a02b" stroke-width="3.3" stroke-linejoin="round"/>
<circle cx="868.44" cy="826.56" r="6.3" fill="#b9a02b"/>
<circle cx="903.09" cy="824.44" r="6.3" fill="#b9a02b"/>
<circle cx="937.74" cy="859.09" r="6.3" fill="#b9a02b"/>
<circle cx="972.4" cy="873.24" r="6.3" fill="#b9a02b"/>
<circle cx="1007.05" cy="850.61" r="6.3" fill="#b9a02b"/>
<circle cx="1041" cy="888.09" r="6.3" fill="#b9a02b"/>
<path d="M869.14,901.53 L903.8,896.58 L939.16,895.16 L973.81,895.87 L1008.47,898.7 L1043.12,897.99" fill="none" stroke="#d9bc2c" stroke-width="3.3" stroke-linejoin="round"/>
<circle cx="869.14" cy="901.53" r="6.3" fill="#d9bc2c"/>
<circle cx="903.8" cy="896.58" r="6.3" fill="#d9bc2c"/>
<circle cx="939.16" cy="895.16" r="6.3" fill="#d9bc2c"/>
<circle cx="973.81" cy="895.87" r="6.3" fill="#d9bc2c"/>
<circle cx="1008.47" cy="898.7" r="6.3" fill="#d9bc2c"/>
<circle cx="1043.12" cy="897.99" r="6.3" fill="#d9bc2c"/>
<path d="M869.85,883.85 L904.5,868.29 L939.87,874.65 L974.52,880.31 L1009.88,888.8" fill="none" stroke="#fad52a" stroke-width="3.3" stroke-linejoin="round"/>
<circle cx="869.85" cy="883.85" r="6.3" fill="#fad52a"/>
<circle cx="904.5" cy="868.29" r="6.3" fill="#fad52a"/>
<circle cx="939.87" cy="874.65" r="6.3" fill="#fad52a"/>
<circle cx="974.52" cy="880.31" r="6.3" fill="#fad52a"/>
<circle cx="1009.88" cy="888.8" r="6.3" fill="#fad52a"/>
<rect x="100.4" y="962.9" width="10.3" height="207.5" fill="#ebebeb"/>
<rect x="158.2" y="962.9" width="19.8" height="207.5" fill="#cbcbcb"/>
<rect x="225.7" y="962.9" width="20.2" height="207.5" fill="#cbcbcb"/>
<rect x="292.1" y="962.9" width="8.5" height="207.5" fill="#ebebeb"/>
<line x1="98" y1="1067" x2="304.1" y2="1067" stroke="#333" stroke-width="2.5" stroke-linecap="butt" stroke-dasharray="15.5,6.6"/>
<line x1="98.8" y1="961.3" x2="98.8" y2="1172.65" stroke="#000" stroke-width="2.3" stroke-linecap="butt"/>
<line x1="97.65" y1="1171.5" x2="304.1" y2="1171.5" stroke="#000" stroke-width="2.3" stroke-linecap="butt"/>
<line x1="89.5" y1="1008.8" x2="98.8" y2="1008.8" stroke="#000" stroke-width="2.3" stroke-linecap="butt"/>
<text x="85.1" y="1015.5" font-size="21.2" text-anchor="end" font-weight="normal" fill="#000">25</text>
<line x1="89.5" y1="1067" x2="98.8" y2="1067" stroke="#000" stroke-width="2.3" stroke-linecap="butt"/>
<text x="85.1" y="1073.7" font-size="21.2" text-anchor="end" font-weight="normal" fill="#000">0</text>
<line x1="89.5" y1="1124.7" x2="98.8" y2="1124.7" stroke="#000" stroke-width="2.3" stroke-linecap="butt"/>
<text x="85.1" y="1131.4" font-size="21.2" text-anchor="end" font-weight="normal" fill="#000">–25</text>
<line x1="115.4" y1="1171.5" x2="115.4" y2="1181" stroke="#000" stroke-width="2.3" stroke-linecap="butt"/>
<line x1="149.5" y1="1171.5" x2="149.5" y2="1181" stroke="#000" stroke-width="2.3" stroke-linecap="butt"/>
<line x1="183.9" y1="1171.5" x2="183.9" y2="1181" stroke="#000" stroke-width="2.3" stroke-linecap="butt"/>
<line x1="217.4" y1="1171.5" x2="217.4" y2="1181" stroke="#000" stroke-width="2.3" stroke-linecap="butt"/>
<line x1="252" y1="1171.5" x2="252" y2="1181" stroke="#000" stroke-width="2.3" stroke-linecap="butt"/>
<line x1="286.1" y1="1171.5" x2="286.1" y2="1181" stroke="#000" stroke-width="2.3" stroke-linecap="butt"/>
<clipPath id="e1c"><rect x="99" y="955" width="210" height="215.5"/></clipPath><g clip-path="url(#e1c)">
<line x1="148.3" y1="971.9" x2="148.3" y2="1026.1" stroke="#ee562a" stroke-width="3.6" stroke-linecap="butt"/>
<line x1="182.6" y1="1059.6" x2="182.6" y2="1130" stroke="#ee562a" stroke-width="3.6" stroke-linecap="butt"/>
<line x1="216.2" y1="980" x2="216.2" y2="1050.4" stroke="#ee562a" stroke-width="3.6" stroke-linecap="butt"/>
<line x1="250.8" y1="1103.4" x2="250.8" y2="1175" stroke="#ee562a" stroke-width="3.6" stroke-linecap="butt"/>
<line x1="285.1" y1="1013" x2="285.1" y2="1040" stroke="#ee562a" stroke-width="3.6" stroke-linecap="butt"/>
<path d="M148.3,999.1 L182.6,1091.6 L216.2,1016.3 L250.8,1134.6 L285.1,1026.2" fill="none" stroke="#ee562a" stroke-width="3.6" stroke-linejoin="round"/>
<circle cx="148.3" cy="999.1" r="6.2" fill="#ee562a"/>
<circle cx="182.6" cy="1091.6" r="6.2" fill="#ee562a"/>
<circle cx="216.2" cy="1016.3" r="6.2" fill="#ee562a"/>
<circle cx="250.8" cy="1134.6" r="6.2" fill="#ee562a"/>
<circle cx="285.1" cy="1026.2" r="6.2" fill="#ee562a"/>
<line x1="149.5" y1="1049.2" x2="149.5" y2="1094.2" stroke="#4284c4" stroke-width="3.6" stroke-linecap="butt"/>
<line x1="183.8" y1="1008.8" x2="183.8" y2="1052.7" stroke="#4284c4" stroke-width="3.6" stroke-linecap="butt"/>
<line x1="217.6" y1="1072.3" x2="217.6" y2="1112.7" stroke="#4284c4" stroke-width="3.6" stroke-linecap="butt"/>
<line x1="251.9" y1="1055" x2="251.9" y2="1103.4" stroke="#4284c4" stroke-width="3.6" stroke-linecap="butt"/>
<line x1="286.1" y1="1011.1" x2="286.1" y2="1094.2" stroke="#4284c4" stroke-width="3.6" stroke-linecap="butt"/>
<path d="M149.5,1067.8 L183.8,1032.8 L217.6,1089.6 L251.9,1079.7 L286.1,1055" fill="none" stroke="#4284c4" stroke-width="3.6" stroke-linejoin="round"/>
<circle cx="149.5" cy="1067.8" r="6.2" fill="#4284c4"/>
<circle cx="183.8" cy="1032.8" r="6.2" fill="#4284c4"/>
<circle cx="217.6" cy="1089.6" r="6.2" fill="#4284c4"/>
<circle cx="251.9" cy="1079.7" r="6.2" fill="#4284c4"/>
<circle cx="286.1" cy="1055" r="6.2" fill="#4284c4"/>
<line x1="150.9" y1="1021.5" x2="150.9" y2="1065.4" stroke="#fcd428" stroke-width="3.6" stroke-linecap="butt"/>
<line x1="184.8" y1="1068.8" x2="184.8" y2="1112.7" stroke="#fcd428" stroke-width="3.6" stroke-linecap="butt"/>
<line x1="219.2" y1="1058.4" x2="219.2" y2="1078" stroke="#fcd428" stroke-width="3.6" stroke-linecap="butt"/>
<line x1="253.3" y1="1051.5" x2="253.3" y2="1088.4" stroke="#fcd428" stroke-width="3.6" stroke-linecap="butt"/>
<line x1="287.5" y1="1055" x2="287.5" y2="1101.1" stroke="#fcd428" stroke-width="3.6" stroke-linecap="butt"/>
<path d="M150.9,1042.5 L184.8,1090.2 L219.2,1068.8 L253.3,1069.4 L287.5,1078.7" fill="none" stroke="#fcd428" stroke-width="3.6" stroke-linejoin="round"/>
<circle cx="150.9" cy="1042.5" r="6.2" fill="#fcd428"/>
<circle cx="184.8" cy="1090.2" r="6.2" fill="#fcd428"/>
<circle cx="219.2" cy="1068.8" r="6.2" fill="#fcd428"/>
<circle cx="253.3" cy="1069.4" r="6.2" fill="#fcd428"/>
<circle cx="287.5" cy="1078.7" r="6.2" fill="#fcd428"/>
</g>
<text x="97.4" y="1204" font-size="21.2" text-anchor="end" font-weight="normal" fill="#000">ZT:</text>
<text x="50" y="1229.2" font-size="21.2" text-anchor="start" font-weight="normal" fill="#000">d.p.f.</text>
<text x="115.4" y="1204.3" font-size="21.2" text-anchor="middle" font-weight="normal" fill="#000">0</text>
<text x="149.5" y="1204.3" font-size="21.2" text-anchor="middle" font-weight="normal" fill="#000">10</text>
<text x="183.9" y="1204.3" font-size="21.2" text-anchor="middle" font-weight="normal" fill="#000">0</text>
<text x="217.4" y="1204.3" font-size="21.2" text-anchor="middle" font-weight="normal" fill="#000">10</text>
<text x="252" y="1204.3" font-size="21.2" text-anchor="middle" font-weight="normal" fill="#000">0</text>
<text x="286.1" y="1204.3" font-size="21.2" text-anchor="middle" font-weight="normal" fill="#000">10</text>
<rect x="115.4" y="1208.9" width="63.4" height="23.7" fill="#ebebeb"/>
<text x="147.1" y="1229.3" font-size="21.2" text-anchor="middle" font-weight="normal" fill="#000">7</text>
<rect x="183.9" y="1208.9" width="63" height="23.7" fill="#ebebeb"/>
<text x="215.4" y="1229.3" font-size="21.2" text-anchor="middle" font-weight="normal" fill="#000">8</text>
<rect x="252" y="1208.9" width="52.1" height="23.7" fill="#ebebeb"/>
<text x="278.05" y="1229.3" font-size="21.2" text-anchor="middle" font-weight="normal" fill="#000">9</text>
<text x="0" y="0" transform="translate(30,1073.5) rotate(-90)" font-size="21.2" text-anchor="middle" font-weight="normal" fill="#000">Δ Synapse count</text>
<rect x="375.4" y="962.7" width="12.2" height="208.5" fill="#ebebeb"/>
<rect x="432.4" y="962.7" width="24.3" height="208.5" fill="#ebebeb"/>
<rect x="501" y="962.7" width="23.8" height="208.5" fill="#ebebeb"/>
<rect x="569.3" y="962.7" width="10.9" height="208.5" fill="#ebebeb"/>
<line x1="373.6" y1="1067.3" x2="580.4" y2="1067.3" stroke="#808080" stroke-width="2.5" stroke-linecap="butt" stroke-dasharray="15.5,6.6"/>
<line x1="374.2" y1="961.5" x2="374.2" y2="1173.45" stroke="#000" stroke-width="2.3" stroke-linecap="butt"/>
<line x1="373.05" y1="1172.3" x2="580.4" y2="1172.3" stroke="#000" stroke-width="2.3" stroke-linecap="butt"/>
<line x1="365" y1="983.5" x2="374.2" y2="983.5" stroke="#000" stroke-width="2.3" stroke-linecap="butt"/>
<text x="360.6" y="990.2" font-size="21.2" text-anchor="end" font-weight="normal" fill="#000">100</text>
<line x1="365" y1="1067.3" x2="374.2" y2="1067.3" stroke="#000" stroke-width="2.3" stroke-linecap="butt"/>
<text x="360.6" y="1074" font-size="21.2" text-anchor="end" font-weight="normal" fill="#000">0</text>
<line x1="365" y1="1151.3" x2="374.2" y2="1151.3" stroke="#000" stroke-width="2.3" stroke-linecap="butt"/>
<text x="360.6" y="1158" font-size="21.2" text-anchor="end" font-weight="normal" fill="#000">–100</text>
<line x1="390.9" y1="1172.3" x2="390.9" y2="1181.8" stroke="#000" stroke-width="2.3" stroke-linecap="butt"/>
<line x1="425.5" y1="1172.3" x2="425.5" y2="1181.8" stroke="#000" stroke-width="2.3" stroke-linecap="butt"/>
<line x1="459.7" y1="1172.3" x2="459.7" y2="1181.8" stroke="#000" stroke-width="2.3" stroke-linecap="butt"/>
<line x1="493.6" y1="1172.3" x2="493.6" y2="1181.8" stroke="#000" stroke-width="2.3" stroke-linecap="butt"/>
<line x1="528.4" y1="1172.3" x2="528.4" y2="1181.8" stroke="#000" stroke-width="2.3" stroke-linecap="butt"/>
<line x1="562.4" y1="1172.3" x2="562.4" y2="1181.8" stroke="#000" stroke-width="2.3" stroke-linecap="butt"/>
<path d="M422.72,1083.89 L456.2,1021.1 L490.82,986.93 L525.45,1164.22 L560.07,1065.42" fill="none" stroke="#3d1a10" stroke-width="3.3" stroke-linejoin="round"/>
<circle cx="422.72" cy="1083.89" r="6.3" fill="#3d1a10"/>
<circle cx="456.2" cy="1021.1" r="6.3" fill="#3d1a10"/>
<circle cx="490.82" cy="986.93" r="6.3" fill="#3d1a10"/>
<circle cx="525.45" cy="1164.22" r="6.3" fill="#3d1a10"/>
<circle cx="560.07" cy="1065.42" r="6.3" fill="#3d1a10"/>
<path d="M422.72,999.63 L458.5,1086.2 L491.98,1091.27 L526.6,1072.35 L560.07,1038.87" fill="none" stroke="#5b2414" stroke-width="3.3" stroke-linejoin="round"/>
<circle cx="422.72" cy="999.63" r="6.3" fill="#5b2414"/>
<circle cx="458.5" cy="1086.2" r="6.3" fill="#5b2414"/>
<circle cx="491.98" cy="1091.27" r="6.3" fill="#5b2414"/>
<circle cx="526.6" cy="1072.35" r="6.3" fill="#5b2414"/>
<circle cx="560.07" cy="1038.87" r="6.3" fill="#5b2414"/>
<path d="M423.88,1014.64 L458.5,1118.51 L494.28,1055.03 L527.76,1121.98 L562.38,1051.57" fill="none" stroke="#7b2f16" stroke-width="3.3" stroke-linejoin="round"/>
<circle cx="423.88" cy="1014.64" r="6.3" fill="#7b2f16"/>
<circle cx="458.5" cy="1118.51" r="6.3" fill="#7b2f16"/>
<circle cx="494.28" cy="1055.03" r="6.3" fill="#7b2f16"/>
<circle cx="527.76" cy="1121.98" r="6.3" fill="#7b2f16"/>
<circle cx="562.38" cy="1051.57" r="6.3" fill="#7b2f16"/>
<path d="M420.42,1050.42 L458.04,1095.43 L489.67,1078.12" fill="none" stroke="#231a1e" stroke-width="3.3" stroke-linejoin="round"/>
<circle cx="420.42" cy="1050.42" r="6.3" fill="#231a1e"/>
<circle cx="458.04" cy="1095.43" r="6.3" fill="#231a1e"/>
<circle cx="489.67" cy="1078.12" r="6.3" fill="#231a1e"/>
<path d="M425.03,1058.49 L459.66,1061.96 L493.13,1055.03 L527.76,1094.28 L561.23,1049.26" fill="none" stroke="#8f3518" stroke-width="3.3" stroke-linejoin="round"/>
<circle cx="425.03" cy="1058.49" r="6.3" fill="#8f3518"/>
<circle cx="459.66" cy="1061.96" r="6.3" fill="#8f3518"/>
<circle cx="493.13" cy="1055.03" r="6.3" fill="#8f3518"/>
<circle cx="527.76" cy="1094.28" r="6.3" fill="#8f3518"/>
<circle cx="561.23" cy="1049.26" r="6.3" fill="#8f3518"/>
<path d="M426.19,1048.11 L460.81,1072.35 L495.44,1053.88 L528.91,1093.12 L563.54,1048.11" fill="none" stroke="#b3402a" stroke-width="3.3" stroke-linejoin="round"/>
<circle cx="426.19" cy="1048.11" r="6.3" fill="#b3402a"/>
<circle cx="460.81" cy="1072.35" r="6.3" fill="#b3402a"/>
<circle cx="495.44" cy="1053.88" r="6.3" fill="#b3402a"/>
<circle cx="528.91" cy="1093.12" r="6.3" fill="#b3402a"/>
<circle cx="563.54" cy="1048.11" r="6.3" fill="#b3402a"/>
<path d="M427.34,1019.25 L461.27,1070.04 L495.44,1056.19 L530.06,1088.5 L564.69,1057.34" fill="none" stroke="#d24a28" stroke-width="3.3" stroke-linejoin="round"/>
<circle cx="427.34" cy="1019.25" r="6.3" fill="#d24a28"/>
<circle cx="461.27" cy="1070.04" r="6.3" fill="#d24a28"/>
<circle cx="495.44" cy="1056.19" r="6.3" fill="#d24a28"/>
<circle cx="530.06" cy="1088.5" r="6.3" fill="#d24a28"/>
<circle cx="564.69" cy="1057.34" r="6.3" fill="#d24a28"/>
<path d="M428.49,1088.04 L463.12,1034.95 L497.75,1064.27 L531.22,1081.58 L563.54,1056.19" fill="none" stroke="#ef5a2e" stroke-width="3.3" stroke-linejoin="round"/>
<circle cx="428.49" cy="1088.04" r="6.3" fill="#ef5a2e"/>
<circle cx="463.12" cy="1034.95" r="6.3" fill="#ef5a2e"/>
<circle cx="497.75" cy="1064.27" r="6.3" fill="#ef5a2e"/>
<circle cx="531.22" cy="1081.58" r="6.3" fill="#ef5a2e"/>
<circle cx="563.54" cy="1056.19" r="6.3" fill="#ef5a2e"/>
<path d="M427.34,1021.56 L461.97,1121.98 L496.59,999.63 L531.22,1020.41" fill="none" stroke="#e85226" stroke-width="3.3" stroke-linejoin="round"/>
<circle cx="427.34" cy="1021.56" r="6.3" fill="#e85226"/>
<circle cx="461.97" cy="1121.98" r="6.3" fill="#e85226"/>
<circle cx="496.59" cy="999.63" r="6.3" fill="#e85226"/>
<circle cx="531.22" cy="1020.41" r="6.3" fill="#e85226"/>
<text x="387" y="1158.9" font-size="21.2" text-anchor="start" font-weight="normal" fill="#000"><tspan font-style="italic">n</tspan> = 9</text>
<text x="390.9" y="1204.3" font-size="21.2" text-anchor="middle" font-weight="normal" fill="#000">0</text>
<text x="425.5" y="1204.3" font-size="21.2" text-anchor="middle" font-weight="normal" fill="#000">10</text>
<text x="459.7" y="1204.3" font-size="21.2" text-anchor="middle" font-weight="normal" fill="#000">0</text>
<text x="493.6" y="1204.3" font-size="21.2" text-anchor="middle" font-weight="normal" fill="#000">10</text>
<text x="528.4" y="1204.3" font-size="21.2" text-anchor="middle" font-weight="normal" fill="#000">0</text>
<text x="562.4" y="1204.3" font-size="21.2" text-anchor="middle" font-weight="normal" fill="#000">10</text>
<rect x="390.9" y="1208.9" width="63.7" height="23.7" fill="#ebebeb"/>
<text x="422.75" y="1229.3" font-size="21.2" text-anchor="middle" font-weight="normal" fill="#000">7</text>
<rect x="459.7" y="1208.9" width="63.6" height="23.7" fill="#ebebeb"/>
<text x="491.5" y="1229.3" font-size="21.2" text-anchor="middle" font-weight="normal" fill="#000">8</text>
<rect x="528.4" y="1208.9" width="52" height="23.7" fill="#ebebeb"/>
<text x="554.4" y="1229.3" font-size="21.2" text-anchor="middle" font-weight="normal" fill="#000">9</text>
<rect x="614.3" y="962.7" width="12.2" height="209.6" fill="#ebebeb"/>
<rect x="671.1" y="962.7" width="24" height="209.6" fill="#ebebeb"/>
<rect x="740.1" y="962.7" width="23.8" height="209.6" fill="#ebebeb"/>
<rect x="809.1" y="962.7" width="10.1" height="209.6" fill="#ebebeb"/>
<line x1="612.1" y1="1067.7" x2="819.7" y2="1067.7" stroke="#808080" stroke-width="2.5" stroke-linecap="butt" stroke-dasharray="15.5,6.6"/>
<line x1="612.7" y1="961.1" x2="612.7" y2="1174.55" stroke="#000" stroke-width="2.3" stroke-linecap="butt"/>
<line x1="611.55" y1="1173.4" x2="819.7" y2="1173.4" stroke="#000" stroke-width="2.3" stroke-linecap="butt"/>
<line x1="629.5" y1="1173.4" x2="629.5" y2="1182.9" stroke="#000" stroke-width="2.3" stroke-linecap="butt"/>
<line x1="664.2" y1="1173.4" x2="664.2" y2="1182.9" stroke="#000" stroke-width="2.3" stroke-linecap="butt"/>
<line x1="698.8" y1="1173.4" x2="698.8" y2="1182.9" stroke="#000" stroke-width="2.3" stroke-linecap="butt"/>
<line x1="732.7" y1="1173.4" x2="732.7" y2="1182.9" stroke="#000" stroke-width="2.3" stroke-linecap="butt"/>
<line x1="767.3" y1="1173.4" x2="767.3" y2="1182.9" stroke="#000" stroke-width="2.3" stroke-linecap="butt"/>
<line x1="801.9" y1="1173.4" x2="801.9" y2="1182.9" stroke="#000" stroke-width="2.3" stroke-linecap="butt"/>
<path d="M662.31,1057.32 L696.93,1030.31 L731.55,1086.16 L767.32,1086.16 L800.32,1040.01" fill="none" stroke="#1b1f27" stroke-width="3.3" stroke-linejoin="round"/>
<circle cx="662.31" cy="1057.32" r="6.3" fill="#1b1f27"/>
<circle cx="696.93" cy="1030.31" r="6.3" fill="#1b1f27"/>
<circle cx="731.55" cy="1086.16" r="6.3" fill="#1b1f27"/>
<circle cx="767.32" cy="1086.16" r="6.3" fill="#1b1f27"/>
<circle cx="800.32" cy="1040.01" r="6.3" fill="#1b1f27"/>
<path d="M663.47,1067.7 L698.08,1059.62 L732.7,1078.09 L767.32,1056.16" fill="none" stroke="#1f4f7c" stroke-width="3.3" stroke-linejoin="round"/>
<circle cx="663.47" cy="1067.7" r="6.3" fill="#1f4f7c"/>
<circle cx="698.08" cy="1059.62" r="6.3" fill="#1f4f7c"/>
<circle cx="732.7" cy="1078.09" r="6.3" fill="#1f4f7c"/>
<circle cx="767.32" cy="1056.16" r="6.3" fill="#1f4f7c"/>
<path d="M664.62,1096.55 L699.24,1052.7 L733.39,1086.16 L768.01,1055.01 L802.63,1095.4" fill="none" stroke="#2574be" stroke-width="3.3" stroke-linejoin="round"/>
<circle cx="664.62" cy="1096.55" r="6.3" fill="#2574be"/>
<circle cx="699.24" cy="1052.7" r="6.3" fill="#2574be"/>
<circle cx="733.39" cy="1086.16" r="6.3" fill="#2574be"/>
<circle cx="768.01" cy="1055.01" r="6.3" fill="#2574be"/>
<circle cx="802.63" cy="1095.4" r="6.3" fill="#2574be"/>
<path d="M665.77,1049.24 L700.39,1079.24 L735.01,1053.85 L769.63,1090.32 L803.55,1054.32" fill="none" stroke="#4a88c8" stroke-width="3.3" stroke-linejoin="round"/>
<circle cx="665.77" cy="1049.24" r="6.3" fill="#4a88c8"/>
<circle cx="700.39" cy="1079.24" r="6.3" fill="#4a88c8"/>
<circle cx="735.01" cy="1053.85" r="6.3" fill="#4a88c8"/>
<circle cx="769.63" cy="1090.32" r="6.3" fill="#4a88c8"/>
<circle cx="803.55" cy="1054.32" r="6.3" fill="#4a88c8"/>
<text x="625.8" y="1158.9" font-size="21.2" text-anchor="start" font-weight="normal" fill="#000"><tspan font-style="italic">n</tspan> = 4</text>
<text x="629.5" y="1204.3" font-size="21.2" text-anchor="middle" font-weight="normal" fill="#000">0</text>
<text x="664.2" y="1204.3" font-size="21.2" text-anchor="middle" font-weight="normal" fill="#000">10</text>
<text x="698.8" y="1204.3" font-size="21.2" text-anchor="middle" font-weight="normal" fill="#000">0</text>
<text x="732.7" y="1204.3" font-size="21.2" text-anchor="middle" font-weight="normal" fill="#000">10</text>
<text x="767.3" y="1204.3" font-size="21.2" text-anchor="middle" font-weight="normal" fill="#000">0</text>
<text x="801.9" y="1204.3" font-size="21.2" text-anchor="middle" font-weight="normal" fill="#000">10</text>
<rect x="629.5" y="1208.9" width="64.2" height="23.7" fill="#ebebeb"/>
<text x="661.6" y="1229.3" font-size="21.2" text-anchor="middle" font-weight="normal" fill="#000">7</text>
<rect x="698.8" y="1208.9" width="63.4" height="23.7" fill="#ebebeb"/>
<text x="730.5" y="1229.3" font-size="21.2" text-anchor="middle" font-weight="normal" fill="#000">8</text>
<rect x="767.3" y="1208.9" width="52.4" height="23.7" fill="#ebebeb"/>
<text x="793.5" y="1229.3" font-size="21.2" text-anchor="middle" font-weight="normal" fill="#000">9</text>
<rect x="852.6" y="962.7" width="11.6" height="209.6" fill="#ebebeb"/>
<rect x="909.4" y="962.7" width="24" height="209.6" fill="#ebebeb"/>
<rect x="978.4" y="962.7" width="23.3" height="209.6" fill="#ebebeb"/>
<rect x="1047.2" y="962.7" width="10.4" height="209.6" fill="#ebebeb"/>
<line x1="850.4" y1="1067.7" x2="1058" y2="1067.7" stroke="#808080" stroke-width="2.5" stroke-linecap="butt" stroke-dasharray="15.5,6.6"/>
<line x1="851" y1="961.1" x2="851" y2="1174.55" stroke="#000" stroke-width="2.3" stroke-linecap="butt"/>
<line x1="849.85" y1="1173.4" x2="1058" y2="1173.4" stroke="#000" stroke-width="2.3" stroke-linecap="butt"/>
<line x1="867.2" y1="1173.4" x2="867.2" y2="1182.9" stroke="#000" stroke-width="2.3" stroke-linecap="butt"/>
<line x1="902.5" y1="1173.4" x2="902.5" y2="1182.9" stroke="#000" stroke-width="2.3" stroke-linecap="butt"/>
<line x1="936.4" y1="1173.4" x2="936.4" y2="1182.9" stroke="#000" stroke-width="2.3" stroke-linecap="butt"/>
<line x1="971" y1="1173.4" x2="971" y2="1182.9" stroke="#000" stroke-width="2.3" stroke-linecap="butt"/>
<line x1="1005.6" y1="1173.4" x2="1005.6" y2="1182.9" stroke="#000" stroke-width="2.3" stroke-linecap="butt"/>
<line x1="1040.2" y1="1173.4" x2="1040.2" y2="1182.9" stroke="#000" stroke-width="2.3" stroke-linecap="butt"/>
<path d="M898.31,1095.86 L932.93,1055.01 L969.86,1063.09 L1004.47,1070.01 L1039.09,1065.39" fill="none" stroke="#1e1e1e" stroke-width="3.3" stroke-linejoin="round"/>
<circle cx="898.31" cy="1095.86" r="6.3" fill="#1e1e1e"/>
<circle cx="932.93" cy="1055.01" r="6.3" fill="#1e1e1e"/>
<circle cx="969.86" cy="1063.09" r="6.3" fill="#1e1e1e"/>
<circle cx="1004.47" cy="1070.01" r="6.3" fill="#1e1e1e"/>
<circle cx="1039.09" cy="1065.39" r="6.3" fill="#1e1e1e"/>
<path d="M899.47,1065.39 L934.78,1058.47 L971.01,1064.24 L1004.94,1079.24 L1039.55,1065.39" fill="none" stroke="#464016" stroke-width="3.3" stroke-linejoin="round"/>
<circle cx="899.47" cy="1065.39" r="6.3" fill="#464016"/>
<circle cx="934.78" cy="1058.47" r="6.3" fill="#464016"/>
<circle cx="971.01" cy="1064.24" r="6.3" fill="#464016"/>
<circle cx="1004.94" cy="1079.24" r="6.3" fill="#464016"/>
<circle cx="1039.55" cy="1065.39" r="6.3" fill="#464016"/>
<path d="M899.47,1075.78 L934.08,1055.01 L969.86,1060.78 L1004.01,1088.47 L1039.09,1063.09" fill="none" stroke="#4a4418" stroke-width="3.3" stroke-linejoin="round"/>
<circle cx="899.47" cy="1075.78" r="6.3" fill="#4a4418"/>
<circle cx="934.08" cy="1055.01" r="6.3" fill="#4a4418"/>
<circle cx="969.86" cy="1060.78" r="6.3" fill="#4a4418"/>
<circle cx="1004.01" cy="1088.47" r="6.3" fill="#4a4418"/>
<circle cx="1039.09" cy="1063.09" r="6.3" fill="#4a4418"/>
<path d="M901.77,1065.39 L935.24,1067.7 L972.16,1058.47 L1005.63,1070.01 L1040.25,1059.62" fill="none" stroke="#857525" stroke-width="3.3" stroke-linejoin="round"/>
<circle cx="901.77" cy="1065.39" r="6.3" fill="#857525"/>
<circle cx="935.24" cy="1067.7" r="6.3" fill="#857525"/>
<circle cx="972.16" cy="1058.47" r="6.3" fill="#857525"/>
<circle cx="1005.63" cy="1070.01" r="6.3" fill="#857525"/>
<circle cx="1040.25" cy="1059.62" r="6.3" fill="#857525"/>
<path d="M901.77,1034.93 L937.55,1100.01 L971.01,1056.16 L1006.32,1049.7 L1040.25,1057.32" fill="none" stroke="#9a8a2a" stroke-width="3.3" stroke-linejoin="round"/>
<circle cx="901.77" cy="1034.93" r="6.3" fill="#9a8a2a"/>
<circle cx="937.55" cy="1100.01" r="6.3" fill="#9a8a2a"/>
<circle cx="971.01" cy="1056.16" r="6.3" fill="#9a8a2a"/>
<circle cx="1006.32" cy="1049.7" r="6.3" fill="#9a8a2a"/>
<circle cx="1040.25" cy="1057.32" r="6.3" fill="#9a8a2a"/>
<path d="M902.93,1023.39 L938.7,1109.24 L972.63,1086.16 L1006.78,1038.85 L1041.4,1113.86" fill="none" stroke="#b9a02b" stroke-width="3.3" stroke-linejoin="round"/>
<circle cx="902.93" cy="1023.39" r="6.3" fill="#b9a02b"/>
<circle cx="938.7" cy="1109.24" r="6.3" fill="#b9a02b"/>
<circle cx="972.63" cy="1086.16" r="6.3" fill="#b9a02b"/>
<circle cx="1006.78" cy="1038.85" r="6.3" fill="#b9a02b"/>
<circle cx="1041.4" cy="1113.86" r="6.3" fill="#b9a02b"/>
<path d="M904.08,1061.93 L938.7,1065.39 L974.01,1067.7 L1008.63,1068.86 L1042.55,1067.7" fill="none" stroke="#dbbd2c" stroke-width="3.3" stroke-linejoin="round"/>
<circle cx="904.08" cy="1061.93" r="6.3" fill="#dbbd2c"/>
<circle cx="938.7" cy="1065.39" r="6.3" fill="#dbbd2c"/>
<circle cx="974.01" cy="1067.7" r="6.3" fill="#dbbd2c"/>
<circle cx="1008.63" cy="1068.86" r="6.3" fill="#dbbd2c"/>
<circle cx="1042.55" cy="1067.7" r="6.3" fill="#dbbd2c"/>
<path d="M905.24,1049.24 L939.85,1074.62 L974.47,1074.62 L1007.94,1076.47" fill="none" stroke="#fad52a" stroke-width="3.3" stroke-linejoin="round"/>
<circle cx="905.24" cy="1049.24" r="6.3" fill="#fad52a"/>
<circle cx="939.85" cy="1074.62" r="6.3" fill="#fad52a"/>
<circle cx="974.47" cy="1074.62" r="6.3" fill="#fad52a"/>
<circle cx="1007.94" cy="1076.47" r="6.3" fill="#fad52a"/>
<text x="863.7" y="1158.9" font-size="21.2" text-anchor="start" font-weight="normal" fill="#000"><tspan font-style="italic">n</tspan> = 8</text>
<text x="867.2" y="1204.3" font-size="21.2" text-anchor="middle" font-weight="normal" fill="#000">0</text>
<text x="902.5" y="1204.3" font-size="21.2" text-anchor="middle" font-weight="normal" fill="#000">10</text>
<text x="936.4" y="1204.3" font-size="21.2" text-anchor="middle" font-weight="normal" fill="#000">0</text>
<text x="971" y="1204.3" font-size="21.2" text-anchor="middle" font-weight="normal" fill="#000">10</text>
<text x="1005.6" y="1204.3" font-size="21.2" text-anchor="middle" font-weight="normal" fill="#000">0</text>
<text x="1040.2" y="1204.3" font-size="21.2" text-anchor="middle" font-weight="normal" fill="#000">10</text>
<rect x="867.2" y="1208.9" width="64.1" height="23.7" fill="#ebebeb"/>
<text x="899.25" y="1229.3" font-size="21.2" text-anchor="middle" font-weight="normal" fill="#000">7</text>
<rect x="936.4" y="1208.9" width="64.1" height="23.7" fill="#ebebeb"/>
<text x="968.45" y="1229.3" font-size="21.2" text-anchor="middle" font-weight="normal" fill="#000">8</text>
<rect x="1005.6" y="1208.9" width="52.4" height="23.7" fill="#ebebeb"/>
<text x="1031.8" y="1229.3" font-size="21.2" text-anchor="middle" font-weight="normal" fill="#000">9</text>
<text transform="translate(1131.5,716.3) scale(1.1,0.95)" x="0" y="0" font-size="33" font-weight="bold" fill="#000" stroke="#000" stroke-width="1.1">f</text>
<text transform="translate(1124.5,969) scale(1.1,0.95)" x="0" y="0" font-size="33" font-weight="bold" fill="#000" stroke="#000" stroke-width="1.1">g</text>
<circle cx="1229.2" cy="695.2" r="6.8" fill="#ef4f2a"/>
<text x="1241.6" y="702.6" font-size="21.2" text-anchor="start" font-weight="normal" fill="#000">Type 2</text>
<circle cx="1333.5" cy="695.2" r="6.8" fill="#0587cd"/>
<text x="1345.9" y="702.6" font-size="21.2" text-anchor="start" font-weight="normal" fill="#000">Type 3</text>
<circle cx="1229.2" cy="723.5" r="6.8" fill="#ffd500"/>
<text x="1241.6" y="730.9" font-size="21.2" text-anchor="start" font-weight="normal" fill="#000">Type 4</text>
<circle cx="1333.5" cy="723.5" r="6.8" fill="#da8db5"/>
<text x="1345.9" y="730.9" font-size="21.2" text-anchor="start" font-weight="normal" fill="#000">LL</text>
<rect x="1271.2" y="741.7" width="61.6" height="199.7" fill="#ebebeb"/>
<line x1="1220.2" y1="741.2" x2="1220.2" y2="943.65" stroke="#000" stroke-width="2.3" stroke-linecap="butt"/>
<line x1="1219.05" y1="942.5" x2="1381.1" y2="942.5" stroke="#000" stroke-width="2.3" stroke-linecap="butt"/>
<line x1="1211" y1="793.8" x2="1220.2" y2="793.8" stroke="#000" stroke-width="2.3" stroke-linecap="butt"/>
<text x="1206.6" y="800.5" font-size="21.2" text-anchor="end" font-weight="normal" fill="#000">160</text>
<line x1="1211" y1="847.8" x2="1220.2" y2="847.8" stroke="#000" stroke-width="2.3" stroke-linecap="butt"/>
<text x="1206.6" y="854.5" font-size="21.2" text-anchor="end" font-weight="normal" fill="#000">140</text>
<line x1="1211" y1="901" x2="1220.2" y2="901" stroke="#000" stroke-width="2.3" stroke-linecap="butt"/>
<text x="1206.6" y="907.7" font-size="21.2" text-anchor="end" font-weight="normal" fill="#000">120</text>
<line x1="1263.2" y1="942.5" x2="1263.2" y2="952" stroke="#000" stroke-width="2.3" stroke-linecap="butt"/>
<line x1="1342.6" y1="942.5" x2="1342.6" y2="952" stroke="#000" stroke-width="2.3" stroke-linecap="butt"/>
<line x1="1260.3" y1="750.3" x2="1260.3" y2="821.7" stroke="#ee562a" stroke-width="3.6" stroke-linecap="butt"/>
<line x1="1342.1" y1="795.6" x2="1342.1" y2="851.2" stroke="#ee562a" stroke-width="3.6" stroke-linecap="butt"/>
<path d="M1260.3,786.6 L1342.1,821.7" fill="none" stroke="#ee562a" stroke-width="3.6" stroke-linejoin="round"/>
<circle cx="1260.3" cy="786.6" r="6.3" fill="#ee562a"/>
<circle cx="1342.1" cy="821.7" r="6.3" fill="#ee562a"/>
<line x1="1264.8" y1="835.3" x2="1264.8" y2="876.1" stroke="#fcd428" stroke-width="3.6" stroke-linecap="butt"/>
<line x1="1350.1" y1="859.1" x2="1350.1" y2="899.9" stroke="#fcd428" stroke-width="3.6" stroke-linecap="butt"/>
<path d="M1264.8,854.6 L1350.1,879.5" fill="none" stroke="#fcd428" stroke-width="3.6" stroke-linejoin="round"/>
<circle cx="1264.8" cy="854.6" r="6.3" fill="#fcd428"/>
<circle cx="1350.1" cy="879.5" r="6.3" fill="#fcd428"/>
<line x1="1263.7" y1="910.1" x2="1263.7" y2="933.9" stroke="#4284c4" stroke-width="3.6" stroke-linecap="butt"/>
<line x1="1344.8" y1="894.2" x2="1344.8" y2="924.4" stroke="#4284c4" stroke-width="3.6" stroke-linecap="butt"/>
<path d="M1263.7,921.4 L1344.8,909.7" fill="none" stroke="#4284c4" stroke-width="3.6" stroke-linejoin="round"/>
<circle cx="1263.7" cy="921.4" r="6.3" fill="#4284c4"/>
<circle cx="1344.8" cy="909.7" r="6.3" fill="#4284c4"/>
<text x="0" y="0" transform="translate(1142.6,844.4) rotate(-90)" font-size="21.2" text-anchor="middle" font-weight="normal" fill="#000">Synapse count</text>
<rect x="1275.5" y="973.4" width="59.2" height="199" fill="#ebebeb"/>
<line x1="1220.8" y1="1061.8" x2="1368.6" y2="1061.8" stroke="#7a7a7a" stroke-width="2.5" stroke-linecap="butt" stroke-dasharray="15.5,6.6"/>
<line x1="1221.8" y1="973" x2="1221.8" y2="1174.65" stroke="#000" stroke-width="2.3" stroke-linecap="butt"/>
<line x1="1220.65" y1="1173.5" x2="1384.2" y2="1173.5" stroke="#000" stroke-width="2.3" stroke-linecap="butt"/>
<line x1="1212.2" y1="986.1" x2="1221.8" y2="986.1" stroke="#000" stroke-width="2.3" stroke-linecap="butt"/>
<text x="1207.8" y="992.8" font-size="21.2" text-anchor="end" font-weight="normal" fill="#000">20</text>
<line x1="1212.2" y1="1061.8" x2="1221.8" y2="1061.8" stroke="#000" stroke-width="2.3" stroke-linecap="butt"/>
<text x="1207.8" y="1068.5" font-size="21.2" text-anchor="end" font-weight="normal" fill="#000">0</text>
<line x1="1212.2" y1="1137" x2="1221.8" y2="1137" stroke="#000" stroke-width="2.3" stroke-linecap="butt"/>
<text x="1207.8" y="1143.7" font-size="21.2" text-anchor="end" font-weight="normal" fill="#000">–20</text>
<line x1="1262.4" y1="1173.5" x2="1262.4" y2="1183" stroke="#000" stroke-width="2.3" stroke-linecap="butt"/>
<line x1="1343.6" y1="1173.5" x2="1343.6" y2="1183" stroke="#000" stroke-width="2.3" stroke-linecap="butt"/>
<line x1="1257.6" y1="982.5" x2="1257.6" y2="1028.3" stroke="#ee562a" stroke-width="3.6" stroke-linecap="butt"/>
<circle cx="1257.6" cy="1004.5" r="6.3" fill="#ee562a"/>
<line x1="1264.8" y1="1005.7" x2="1264.8" y2="1043.2" stroke="#fcd428" stroke-width="3.6" stroke-linecap="butt"/>
<circle cx="1264.8" cy="1024" r="6.3" fill="#fcd428"/>
<line x1="1253.3" y1="1057" x2="1253.3" y2="1082.8" stroke="#da8db5" stroke-width="3.6" stroke-linecap="butt"/>
<circle cx="1253.3" cy="1069.7" r="6.3" fill="#da8db5"/>
<line x1="1261.4" y1="1054.1" x2="1261.4" y2="1092.3" stroke="#4284c4" stroke-width="3.6" stroke-linecap="butt"/>
<circle cx="1261.4" cy="1072" r="6.3" fill="#4284c4"/>
<line x1="1342.8" y1="1030.3" x2="1342.8" y2="1059.4" stroke="#4284c4" stroke-width="3.6" stroke-linecap="butt"/>
<circle cx="1342.8" cy="1044.3" r="6.3" fill="#4284c4"/>
<line x1="1335.9" y1="1058.2" x2="1335.9" y2="1085.7" stroke="#da8db5" stroke-width="3.6" stroke-linecap="butt"/>
<circle cx="1335.9" cy="1073" r="6.3" fill="#da8db5"/>
<line x1="1345.9" y1="1079" x2="1345.9" y2="1106" stroke="#fcd428" stroke-width="3.6" stroke-linecap="butt"/>
<circle cx="1345.9" cy="1092.8" r="6.3" fill="#fcd428"/>
<line x1="1339.5" y1="1095.2" x2="1339.5" y2="1164.5" stroke="#ee562a" stroke-width="3.6" stroke-linecap="butt"/>
<circle cx="1339.5" cy="1128.6" r="6.3" fill="#ee562a"/>
<text x="1246.8" y="1000" font-size="22" text-anchor="middle" font-weight="normal" fill="#000">*</text>
<text x="1276.6" y="1033.4" font-size="22" text-anchor="middle" font-weight="normal" fill="#000">*</text>
<text x="1252.8" y="1206.2" font-size="21.2" text-anchor="middle" font-weight="normal" fill="#000">Day</text>
<text x="1255.8" y="1228.9" font-size="21.2" text-anchor="middle" font-weight="normal" fill="#000">dynamics</text>
<text x="1352.5" y="1206.2" font-size="21.2" text-anchor="middle" font-weight="normal" fill="#000">Night</text>
<text x="1354.3" y="1228.9" font-size="21.2" text-anchor="middle" font-weight="normal" fill="#000">dynamics</text>
<text x="0" y="0" transform="translate(1142.6,1080) rotate(-90)" font-size="21.2" text-anchor="middle" font-weight="normal" fill="#000">Δ Synapse count</text>
</svg>
</body></html>
